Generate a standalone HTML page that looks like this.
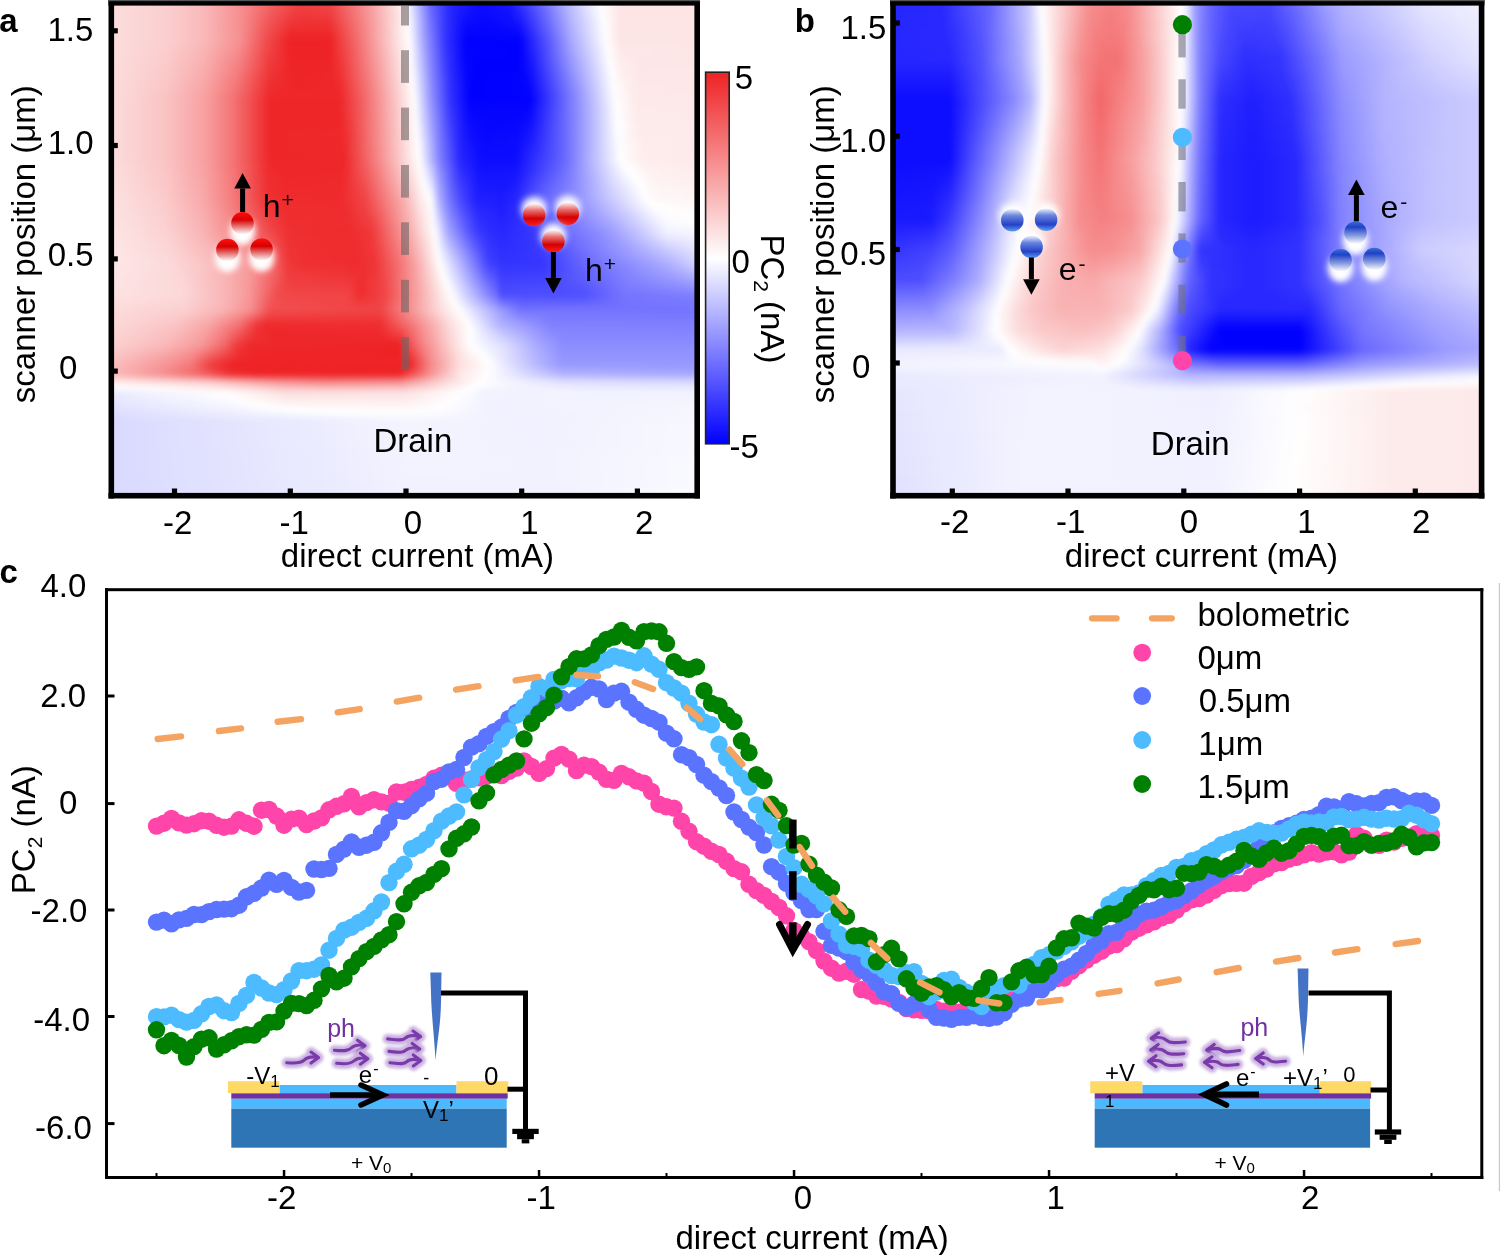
<!DOCTYPE html>
<html><head><meta charset="utf-8"><style>
html,body{margin:0;padding:0;background:#fff;}
body{width:1500px;height:1255px;position:relative;overflow:hidden;font-family:"Liberation Sans", sans-serif;}
i{position:absolute;left:0;width:100%;display:block}
svg{position:absolute;left:0;top:0;will-change:transform}
</style></head><body>
<div style="position:absolute;left:112px;top:4px;width:584px;height:491px;overflow:hidden"><div style="position:absolute;left:-12px;top:-12px;width:608px;height:515px;filter:blur(2.5px);">
<i style="top:0px;height:4px;background:linear-gradient(90deg,#fcdede 8px,#fbcecf 68px,#fab8b9 104px,#f68586 148px,#f25b5d 178px,#f14445 202px,#f14a4b 230px,#f79495 266px,#fef1f2 304px,#fff9fa 306px,#f9f9ff 308px,#6666ff 330px,#2626ff 350px,#0e0eff 382px,#1a1aff 410px,#7373ff 444px,#b0b0ff 464px,#e0e0ff 484px,#ffffff 500px,#fde4e5 522px,#fde4e5 600px)"></i>
<i style="top:3px;height:4px;background:linear-gradient(90deg,#fcdede 8px,#fbcecf 68px,#fab8b9 104px,#f68586 148px,#f25b5d 178px,#f14445 202px,#f14a4b 230px,#f79495 266px,#fef1f2 304px,#fff9fa 306px,#f9f9ff 308px,#6666ff 330px,#2626ff 350px,#0e0eff 382px,#1a1aff 410px,#7373ff 444px,#b0b0ff 464px,#e0e0ff 484px,#ffffff 500px,#fde4e5 522px,#fde4e5 600px)"></i>
<i style="top:6px;height:4px;background:linear-gradient(90deg,#fcdede 8px,#fbcecf 68px,#fab8b9 104px,#f68586 148px,#f25b5d 178px,#f14445 202px,#f14a4b 230px,#f79495 266px,#fef1f2 304px,#fff9fa 306px,#f9f9ff 308px,#6666ff 330px,#2626ff 350px,#0e0eff 382px,#1a1aff 410px,#7373ff 444px,#b0b0ff 464px,#e0e0ff 484px,#ffffff 500px,#fde4e5 522px,#fde4e5 600px)"></i>
<i style="top:9px;height:4px;background:linear-gradient(90deg,#fcdede 8px,#fbcecf 68px,#fab8b9 104px,#f68788 146px,#f2595b 178px,#f04143 202px,#f14749 230px,#f79394 266px,#fef1f2 304px,#fff9f9 306px,#f9f9ff 308px,#6868ff 330px,#2626ff 350px,#0d0dff 382px,#1818ff 410px,#7070ff 444px,#aeaeff 464px,#dfdfff 484px,#fefeff 500px,#fde4e5 522px,#fde4e5 600px)"></i>
<i style="top:12px;height:4px;background:linear-gradient(90deg,#fcdede 8px,#fbcecf 68px,#fab8b9 104px,#f68a8b 144px,#f2595a 176px,#f03f40 200px,#f14446 230px,#f79293 266px,#fff9f9 306px,#fafaff 308px,#6a6aff 330px,#2626ff 350px,#0b0bff 380px,#1616ff 410px,#5151ff 434px,#8d8dff 454px,#c6c6ff 474px,#f9f9ff 498px,#fffefe 502px,#fde4e5 520px,#fde4e5 600px)"></i>
<i style="top:15px;height:4px;background:linear-gradient(90deg,#fcdede 8px,#fbcecf 68px,#fab8b9 104px,#f68a8b 144px,#f25658 176px,#f03c3e 200px,#f04143 230px,#f79192 266px,#fff9f9 306px,#fbfbff 308px,#6b6bff 330px,#2626ff 350px,#0f0fff 372px,#0b0bff 382px,#1414ff 410px,#3838ff 426px,#7070ff 446px,#afafff 466px,#e0e0ff 486px,#fffefe 502px,#fde4e5 520px,#fde4e5 600px)"></i>
<i style="top:18px;height:4px;background:linear-gradient(90deg,#fcdede 8px,#fbcecf 68px,#fab8b9 104px,#f68d8e 142px,#f25658 174px,#f03d3f 196px,#f03b3c 206px,#f03e40 230px,#f69091 266px,#fff9f9 306px,#fcfcff 308px,#a1a1ff 322px,#6d6dff 330px,#2c2cff 348px,#1e1eff 356px,#0f0fff 370px,#0a0aff 382px,#1212ff 410px,#2a2aff 422px,#6d6dff 446px,#b2b2ff 468px,#e2e2ff 488px,#ffffff 502px,#fde4e5 520px,#fde4e5 600px)"></i>
<i style="top:21px;height:4px;background:linear-gradient(90deg,#fcdede 8px,#fbcecf 68px,#fab8b9 104px,#f68d8e 142px,#f25658 172px,#f03b3d 194px,#f0383a 204px,#f03b3d 230px,#f68f90 266px,#fef8f8 306px,#fdfdff 308px,#cbcbff 316px,#6f6fff 330px,#2c2cff 348px,#1818ff 360px,#0c0cff 372px,#0909ff 384px,#1010ff 410px,#2626ff 422px,#6a6aff 446px,#b6b6ff 470px,#eeeeff 494px,#fefeff 502px,#fde4e5 520px,#fde4e5 600px)"></i>
<i style="top:24px;height:4px;background:linear-gradient(90deg,#fcdede 8px,#fbcecf 68px,#fab8b9 104px,#f68d8e 142px,#f25456 172px,#f03a3b 192px,#ef3537 204px,#f0383a 230px,#f68e8f 266px,#fef8f8 306px,#fefeff 308px,#dadaff 314px,#7171ff 330px,#3232ff 346px,#2323ff 352px,#0e0eff 366px,#0808ff 384px,#1111ff 412px,#2222ff 422px,#6e6eff 448px,#b4b4ff 470px,#f9f9ff 500px,#fffefe 504px,#fde4e5 520px,#fde4e5 600px)"></i>
<i style="top:27px;height:4px;background:linear-gradient(90deg,#fcdede 8px,#fbcecf 68px,#fab8b9 104px,#f68c8d 142px,#f25456 170px,#f03638 192px,#ef3335 206px,#ef3537 230px,#f68789 264px,#fef8f8 306px,#ffffff 308px,#e8e8ff 312px,#7f7fff 328px,#6262ff 334px,#3232ff 346px,#1f1fff 354px,#0c0cff 366px,#0707ff 384px,#0f0fff 412px,#1919ff 420px,#6b6bff 448px,#b7b7ff 472px,#fcfcff 502px,#fffefe 504px,#fde4e5 520px,#fde4e5 600px)"></i>
<i style="top:30px;height:4px;background:linear-gradient(90deg,#fcdede 8px,#fbcecf 68px,#fab8b9 104px,#f68c8d 142px,#f25254 170px,#ef3335 192px,#ef3132 210px,#ef3234 230px,#f68687 264px,#ffffff 308px,#f7f7ff 310px,#8181ff 328px,#4a4aff 340px,#2c2cff 348px,#0a0aff 366px,#0606ff 386px,#0d0dff 412px,#1515ff 420px,#6868ff 448px,#b5b5ff 472px,#ffffff 504px,#fde4e5 520px,#fde4e5 600px)"></i>
<i style="top:33px;height:4px;background:linear-gradient(90deg,#fcdede 8px,#fbcecf 68px,#fab8b9 104px,#f68c8d 142px,#f25051 170px,#ef3032 192px,#ef2f30 218px,#ef2f31 230px,#f68586 264px,#feeded 302px,#fffefe 308px,#f9f9ff 310px,#8282ff 328px,#3131ff 346px,#0b0bff 364px,#0505ff 386px,#0c0cff 414px,#1111ff 420px,#6565ff 448px,#b3b3ff 472px,#fefeff 504px,#fde4e5 520px,#fde4e5 600px)"></i>
<i style="top:36px;height:4px;background:linear-gradient(90deg,#fcdede 8px,#fbcecf 68px,#fab8b9 104px,#f68c8d 142px,#f25152 168px,#ef2d2f 192px,#ef2c2e 230px,#f68485 264px,#fde9e9 300px,#fffdfd 308px,#fafaff 310px,#8f8fff 326px,#5d5dff 336px,#3131ff 346px,#0606ff 366px,#0505ff 396px,#0b0bff 416px,#0d0dff 420px,#6969ff 450px,#b2b2ff 472px,#fefeff 504px,#fde4e5 520px,#fde4e5 600px)"></i>
<i style="top:39px;height:4px;background:linear-gradient(90deg,#fcdede 8px,#fbcecf 68px,#fab8b9 104px,#f69092 140px,#f14f50 168px,#ef2a2c 190px,#ef292b 230px,#f57d7e 262px,#fde9e9 300px,#fffcfc 308px,#fbfbff 310px,#9090ff 326px,#3838ff 344px,#1919ff 356px,#0505ff 366px,#0505ff 410px,#0a0aff 420px,#6666ff 450px,#b0b0ff 472px,#fdfdff 504px,#fffafa 508px,#fde4e5 520px,#fde4e5 600px)"></i>
<i style="top:42px;height:4px;background:linear-gradient(90deg,#fcdede 8px,#fbcecf 68px,#fab8b9 104px,#f69092 140px,#f14c4e 168px,#ee2729 190px,#ee2628 230px,#f57c7d 262px,#fcdede 296px,#fffcfc 308px,#fdfdff 310px,#9292ff 326px,#3131ff 346px,#0303ff 366px,#0606ff 420px,#6363ff 450px,#aeaeff 472px,#fcfcff 504px,#fffefe 506px,#fde4e5 520px,#fde4e5 600px)"></i>
<i style="top:45px;height:4px;background:linear-gradient(90deg,#fcdede 8px,#fbcecf 68px,#fab8b9 104px,#f69092 140px,#f14a4c 168px,#ee2426 190px,#ee2325 230px,#f57b7c 262px,#fcd3d3 292px,#fffbfb 308px,#fefeff 310px,#9393ff 326px,#3131ff 346px,#0101ff 366px,#0202ff 420px,#6060ff 450px,#acacff 472px,#fbfbff 504px,#fffefe 506px,#fde4e5 520px,#fde4e5 600px)"></i>
<i style="top:48px;height:4px;background:linear-gradient(90deg,#fcdede 8px,#fbcece 68px,#fab8b8 104px,#f68f90 140px,#f1484a 168px,#ee2224 190px,#ee2224 230px,#f5797b 262px,#fcd2d3 292px,#ffffff 310px,#9595ff 326px,#3131ff 346px,#0000ff 366px,#0000ff 420px,#5d5dff 450px,#aaaaff 472px,#ffffff 506px,#fde5e5 520px,#fde5e5 600px)"></i>
<i style="top:51px;height:4px;background:linear-gradient(90deg,#fcdede 8px,#fbcdce 68px,#f9b7b7 104px,#f68d8e 140px,#f14748 168px,#ee2224 190px,#ee2224 230px,#f47273 260px,#fbd1d2 292px,#fffefe 310px,#9696ff 326px,#3232ff 346px,#0101ff 366px,#0000ff 420px,#5c5cff 450px,#a7a7ff 472px,#fdfdff 506px,#fef5f5 512px,#fde6e6 520px,#fde5e5 600px)"></i>
<i style="top:54px;height:4px;background:linear-gradient(90deg,#fcdede 8px,#fbcdcd 68px,#f9b5b6 104px,#f68b8c 140px,#f14547 168px,#ee2325 190px,#ee2325 230px,#f46a6c 258px,#fcd6d6 294px,#fffdfd 310px,#e8e8ff 314px,#9898ff 326px,#3333ff 346px,#0101ff 366px,#0000ff 420px,#4c4cff 446px,#a5a5ff 472px,#fcfcff 506px,#fffefe 508px,#fde7e7 520px,#fde5e5 600px)"></i>
<i style="top:57px;height:4px;background:linear-gradient(90deg,#fcdede 8px,#fbcccd 68px,#f9b4b5 104px,#f6898a 140px,#f14445 168px,#ee2325 190px,#ee2325 230px,#f2585a 252px,#fde5e6 300px,#fffdfd 310px,#e9e9ff 314px,#9a9aff 326px,#3434ff 346px,#0202ff 366px,#0000ff 420px,#3232ff 438px,#a3a3ff 472px,#ffffff 508px,#fde8e8 520px,#fde5e5 600px)"></i>
<i style="top:60px;height:4px;background:linear-gradient(90deg,#fcdede 8px,#fbcbcc 68px,#f9b3b4 104px,#f68788 140px,#f04244 168px,#ee2325 190px,#ee2325 230px,#f14749 246px,#f79394 272px,#feeeee 304px,#fffcfc 310px,#f7f7ff 312px,#9090ff 328px,#3636ff 346px,#0202ff 366px,#0000ff 420px,#2424ff 434px,#8080ff 462px,#a6a6ff 474px,#fefeff 508px,#fde9e9 520px,#fde5e6 568px,#fde5e6 600px)"></i>
<i style="top:63px;height:4px;background:linear-gradient(90deg,#fcdede 8px,#fbcbcb 68px,#f9b2b2 104px,#f68485 140px,#f04042 168px,#ee2325 192px,#ee2325 230px,#f04143 244px,#f68586 268px,#feeded 304px,#fffbfb 310px,#f8f8ff 312px,#9292ff 328px,#3737ff 346px,#0606ff 364px,#0000ff 374px,#0000ff 420px,#2222ff 434px,#8484ff 464px,#a9a9ff 476px,#fcfcff 508px,#fff9f9 512px,#fdeaea 522px,#fde6e6 560px,#fde6e6 600px)"></i>
<i style="top:66px;height:4px;background:linear-gradient(90deg,#fcdede 8px,#fbcbcc 66px,#f9b1b1 104px,#f58283 140px,#f03f41 168px,#ee2325 192px,#ee2325 230px,#f04042 244px,#f68485 268px,#feeced 304px,#fffbfb 310px,#f9f9ff 312px,#9393ff 328px,#3838ff 346px,#0c0cff 362px,#0202ff 368px,#0000ff 420px,#1b1bff 432px,#7c7cff 462px,#a7a7ff 476px,#fbfbff 508px,#fffefe 510px,#fdebeb 520px,#fde6e6 548px,#fde6e6 600px)"></i>
<i style="top:69px;height:4px;background:linear-gradient(90deg,#fcdede 8px,#fbcbcb 66px,#f9afb0 104px,#f58081 140px,#f03d3f 168px,#ee2426 192px,#ee2426 230px,#f0393b 242px,#f57c7e 266px,#feecec 304px,#fffafa 310px,#fafaff 312px,#c8c8ff 320px,#8989ff 330px,#3939ff 346px,#1c1cff 356px,#0404ff 366px,#0000ff 376px,#0000ff 420px,#1919ff 432px,#8787ff 466px,#ffffff 510px,#feeced 520px,#fde6e6 546px,#fde6e6 600px)"></i>
<i style="top:72px;height:4px;background:linear-gradient(90deg,#fcdede 8px,#fbcacb 66px,#f9aeaf 104px,#f57e7f 140px,#f0383a 170px,#ee2426 192px,#ee2426 230px,#f0383a 242px,#f57b7c 266px,#fef0f0 306px,#fff9f9 310px,#fbfbff 312px,#c9c9ff 320px,#8a8aff 330px,#3a3aff 346px,#2121ff 354px,#0404ff 366px,#0000ff 374px,#0000ff 420px,#1818ff 432px,#9d9dff 474px,#fefeff 510px,#feeced 522px,#fde6e7 544px,#fde6e7 600px)"></i>
<i style="top:75px;height:4px;background:linear-gradient(90deg,#fcdede 8px,#fbc9ca 66px,#f9adae 104px,#f57f80 138px,#f03738 170px,#ee2426 192px,#ee2426 230px,#f03739 242px,#f57a7b 266px,#feefef 306px,#fcfcff 312px,#d9d9ff 318px,#8c8cff 330px,#3b3bff 346px,#2222ff 354px,#0505ff 366px,#0000ff 374px,#0000ff 420px,#1616ff 432px,#a0a0ff 476px,#fcfcff 510px,#fef8f8 514px,#feedee 522px,#fde7e7 542px,#fde7e7 600px)"></i>
<i style="top:78px;height:4px;background:linear-gradient(90deg,#fcdede 8px,#fbc9c9 66px,#f9acad 104px,#f57d7e 138px,#ef3537 170px,#ee2426 192px,#ee2729 232px,#f03638 242px,#f5787a 266px,#feeeee 306px,#fdfdff 312px,#dadaff 318px,#8d8dff 330px,#3c3cff 346px,#2828ff 352px,#0505ff 366px,#0000ff 372px,#0000ff 420px,#0f0fff 430px,#9e9eff 476px,#fbfbff 510px,#fffefe 512px,#feeeee 522px,#fde7e7 542px,#fde7e7 600px)"></i>
<i style="top:81px;height:4px;background:linear-gradient(90deg,#fcdede 8px,#fbc8c9 66px,#f9abab 104px,#f57e7f 136px,#ef3435 170px,#ee2527 192px,#ee2729 232px,#ef3537 242px,#f57778 266px,#feeeee 306px,#fefeff 312px,#dcdcff 318px,#8e8eff 330px,#3e3eff 346px,#2828ff 352px,#0303ff 368px,#0000ff 380px,#0303ff 422px,#0d0dff 430px,#a1a1ff 478px,#ffffff 512px,#feefef 522px,#fde7e7 540px,#fde7e7 600px)"></i>
<i style="top:84px;height:4px;background:linear-gradient(90deg,#fcdede 8px,#fbc8c8 66px,#f8aaaa 104px,#f57c7d 136px,#ef3234 170px,#ee2527 194px,#ee2729 232px,#ef2f31 240px,#f47677 266px,#fef2f2 308px,#fffefe 312px,#ebebff 316px,#8f8fff 330px,#3737ff 348px,#1f1fff 356px,#0303ff 368px,#0000ff 376px,#0202ff 422px,#0b0bff 430px,#a5a5ff 480px,#fefeff 512px,#fef0f0 522px,#fde7e7 540px,#fde7e7 600px)"></i>
<i style="top:87px;height:4px;background:linear-gradient(90deg,#fcdede 8px,#fbc7c7 66px,#f8a8a9 104px,#f57a7b 136px,#ef3032 170px,#ee2527 194px,#ee2729 232px,#ef2e2f 240px,#f47476 266px,#fef1f1 308px,#fffdfd 312px,#f8f8ff 314px,#9191ff 330px,#3737ff 348px,#2525ff 354px,#0303ff 368px,#0000ff 374px,#0202ff 422px,#0a0aff 430px,#a8a8ff 482px,#fdfdff 512px,#fef0f0 524px,#fde7e8 540px,#fde7e8 600px)"></i>
<i style="top:90px;height:4px;background:linear-gradient(90deg,#fcdede 8px,#fbc6c7 66px,#f8a7a8 104px,#f57c7d 134px,#ef2f31 170px,#ee2527 196px,#ee2729 232px,#ef2c2e 240px,#f47374 266px,#fef0f0 308px,#fffcfc 312px,#fafaff 314px,#8888ff 332px,#2f2fff 350px,#0000ff 370px,#0202ff 422px,#0808ff 430px,#acacff 484px,#fcfcff 512px,#fff9f9 516px,#fde8e8 538px,#fde8e8 600px)"></i>
<i style="top:93px;height:4px;background:linear-gradient(90deg,#fcdede 8px,#fbc6c6 66px,#f8a6a7 104px,#f57a7b 134px,#ef2d2f 170px,#ee2527 198px,#ee282a 234px,#ef2b2d 240px,#f47273 266px,#fef0f0 308px,#fffbfc 312px,#fbfbff 314px,#8989ff 332px,#3030ff 350px,#0000ff 370px,#0101ff 422px,#0707ff 430px,#bbbbff 490px,#fbfbff 512px,#fffefe 514px,#fdeaeb 532px,#fde8e8 600px)"></i>
<i style="top:96px;height:4px;background:linear-gradient(90deg,#fcdede 8px,#fbc5c6 66px,#f8a5a6 104px,#f57879 134px,#ef2c2e 170px,#ee2628 202px,#ee282a 236px,#ef2a2c 240px,#f47072 266px,#fffafb 312px,#fdfdff 314px,#bcbcff 324px,#8a8aff 332px,#3131ff 350px,#0000ff 370px,#0202ff 424px,#0505ff 430px,#eeeeff 508px,#ffffff 514px,#fde9e9 534px,#fde8e8 600px)"></i>
<i style="top:99px;height:4px;background:linear-gradient(90deg,#fcdede 8px,#fac4c5 66px,#f8a4a4 104px,#f47677 134px,#ef2a2c 170px,#ee2628 216px,#ef292b 240px,#f46f70 266px,#fffafa 312px,#fefeff 314px,#cbcbff 322px,#9696ff 330px,#3131ff 350px,#0000ff 370px,#0202ff 426px,#0404ff 430px,#ffffff 514px,#fde8e9 536px,#fde8e9 600px)"></i>
<i style="top:102px;height:4px;background:linear-gradient(90deg,#fcdede 8px,#fac4c4 66px,#f8a2a3 104px,#f47476 134px,#ef292b 170px,#ee282a 240px,#f46e6f 266px,#fffefe 314px,#e8e8ff 318px,#9797ff 330px,#3232ff 350px,#0000ff 370px,#0202ff 430px,#fdfdff 514px,#fde9e9 536px,#fde9e9 600px)"></i>
<i style="top:105px;height:4px;background:linear-gradient(90deg,#fcdede 8px,#fac3c4 66px,#f8a1a2 104px,#f47274 134px,#ee2729 170px,#ee2729 240px,#f36668 264px,#fef8f8 312px,#fffdfd 314px,#f7f7ff 316px,#9898ff 330px,#3333ff 350px,#0000ff 370px,#0101ff 430px,#fcfcff 514px,#fef7f7 522px,#fde9e9 538px,#fde9e9 600px)"></i>
<i style="top:108px;height:4px;background:linear-gradient(90deg,#fcdede 8px,#fac3c3 66px,#f8a1a2 104px,#f47677 132px,#ef2a2c 168px,#ee2628 172px,#ee2628 240px,#f36567 264px,#fef2f2 310px,#fffcfc 314px,#f9f9ff 316px,#9a9aff 330px,#3434ff 350px,#0101ff 370px,#0101ff 430px,#fcfcff 514px,#fffcfc 518px,#fde9e9 536px,#fde9e9 600px)"></i>
<i style="top:111px;height:4px;background:linear-gradient(90deg,#fcdede 8px,#fac3c3 66px,#f8a1a2 104px,#f47677 132px,#ef2a2c 168px,#ee2628 172px,#ee2628 240px,#f36566 264px,#fef6f6 312px,#fffcfc 314px,#f9f9ff 316px,#9c9cff 330px,#3535ff 350px,#0202ff 370px,#0303ff 430px,#ffffff 516px,#fde9ea 536px,#fde9e9 600px)"></i>
<i style="top:114px;height:4px;background:linear-gradient(90deg,#fcdede 8px,#fac3c3 66px,#f8a1a2 104px,#f47677 132px,#ef2a2c 168px,#ee2628 172px,#ee2628 240px,#f36566 264px,#fef6f6 312px,#fffbfb 314px,#fafaff 316px,#9393ff 332px,#3737ff 350px,#0303ff 370px,#0404ff 428px,#0505ff 430px,#d0d0ff 500px,#ffffff 516px,#fdeaea 538px,#fde9e9 600px)"></i>
<i style="top:117px;height:4px;background:linear-gradient(90deg,#fcdede 8px,#fac3c3 66px,#f8a1a2 104px,#f47677 132px,#ef2a2c 168px,#ee2628 172px,#ee2628 240px,#f36466 264px,#fef5f5 312px,#fbfbff 316px,#9595ff 332px,#3939ff 350px,#0909ff 368px,#0404ff 372px,#0505ff 424px,#0707ff 430px,#9b9bff 482px,#fefeff 516px,#fdeaea 538px,#fde9e9 600px)"></i>
<i style="top:120px;height:4px;background:linear-gradient(90deg,#fcdede 8px,#fac3c3 66px,#f8a1a2 104px,#f47677 132px,#ef2a2c 168px,#ee2628 172px,#ee2628 240px,#f25859 260px,#fef5f5 312px,#fcfcff 316px,#9797ff 332px,#3a3aff 350px,#1313ff 364px,#0606ff 370px,#0404ff 418px,#0909ff 430px,#8989ff 476px,#fefeff 516px,#fdeaea 538px,#fde9e9 600px)"></i>
<i style="top:123px;height:4px;background:linear-gradient(90deg,#fcdede 8px,#fac3c3 66px,#f8a1a2 104px,#f47677 132px,#ef2a2c 168px,#ee2628 172px,#ee2628 240px,#f14d4e 256px,#fef4f4 312px,#fdfdff 316px,#ccccff 324px,#9999ff 332px,#3c3cff 350px,#1919ff 362px,#0707ff 370px,#0404ff 404px,#0707ff 424px,#0a0aff 430px,#8383ff 474px,#fdfdff 516px,#fef1f1 530px,#fdeaea 542px,#fde9e9 600px)"></i>
<i style="top:126px;height:4px;background:linear-gradient(90deg,#fcdede 8px,#fac3c3 66px,#f8a1a2 104px,#f47677 132px,#ef2a2c 168px,#ee2628 172px,#ee2628 240px,#f04243 252px,#f8a6a7 286px,#fff9f9 314px,#fefeff 316px,#cdcdff 324px,#9a9aff 332px,#4747ff 348px,#3131ff 354px,#1515ff 364px,#0808ff 370px,#0404ff 394px,#0606ff 420px,#0c0cff 430px,#7d7dff 472px,#fdfdff 516px,#fffbfb 520px,#fdebeb 538px,#fde9e9 600px)"></i>
<i style="top:129px;height:4px;background:linear-gradient(90deg,#fcdede 8px,#fac3c3 66px,#f8a1a2 104px,#f47677 132px,#ef2a2c 168px,#ee2628 172px,#ee2628 240px,#f03c3d 250px,#f68d8e 278px,#fef3f4 312px,#ffffff 316px,#dcdcff 322px,#9c9cff 332px,#5252ff 346px,#3838ff 352px,#1a1aff 362px,#0a0aff 370px,#0505ff 390px,#0707ff 420px,#0e0eff 430px,#7777ff 470px,#fcfcff 516px,#ffffff 518px,#fdebeb 538px,#fde9e9 600px)"></i>
<i style="top:132px;height:4px;background:linear-gradient(90deg,#fcdede 8px,#fac3c3 66px,#f8a1a2 104px,#f47677 132px,#ef2a2c 168px,#ee2628 172px,#ee2628 240px,#f03b3d 250px,#f7999a 282px,#fef3f3 312px,#ffffff 316px,#dedeff 322px,#9e9eff 332px,#5e5eff 344px,#3a3aff 352px,#1b1bff 362px,#0a0aff 372px,#0505ff 390px,#0707ff 418px,#1010ff 430px,#7272ff 468px,#fbfbff 516px,#ffffff 518px,#feecec 538px,#fde9e9 600px)"></i>
<i style="top:135px;height:4px;background:linear-gradient(90deg,#fcdede 8px,#fac3c3 66px,#f8a1a2 104px,#f47677 132px,#ef2a2c 168px,#ee2628 172px,#ee2628 240px,#ef3537 248px,#f68c8d 278px,#fef2f3 312px,#fffefe 316px,#ededff 320px,#a0a0ff 332px,#5f5fff 344px,#3b3bff 352px,#1c1cff 362px,#0b0bff 372px,#0606ff 388px,#0808ff 418px,#1212ff 430px,#7272ff 468px,#fbfbff 516px,#ffffff 518px,#fdebeb 540px,#fde9e9 600px)"></i>
<i style="top:138px;height:4px;background:linear-gradient(90deg,#fcdede 8px,#fac3c3 66px,#f8a1a2 104px,#f47677 132px,#ef2a2c 168px,#ee2628 172px,#ef292b 242px,#f03a3c 250px,#f9b6b7 292px,#fffdfd 316px,#efefff 320px,#9696ff 334px,#6060ff 344px,#3d3dff 352px,#2020ff 360px,#0c0cff 372px,#0707ff 386px,#0909ff 418px,#1919ff 432px,#7272ff 468px,#f6f6ff 514px,#fefeff 518px,#fdebeb 540px,#fde9e9 600px)"></i>
<i style="top:141px;height:4px;background:linear-gradient(90deg,#fcdede 8px,#fac3c3 66px,#f8a1a2 104px,#f47677 132px,#ef2a2c 168px,#ee2628 172px,#ef292b 242px,#f0393b 250px,#fac2c3 296px,#fffcfc 316px,#f9f9ff 318px,#e3e3ff 322px,#8c8cff 336px,#6262ff 344px,#3e3eff 352px,#2121ff 360px,#0d0dff 372px,#0707ff 384px,#0909ff 418px,#1a1aff 432px,#7272ff 468px,#efefff 512px,#fefeff 518px,#fdebec 540px,#fde9e9 600px)"></i>
<i style="top:144px;height:4px;background:linear-gradient(90deg,#fcdede 8px,#fac3c3 66px,#f8a1a2 104px,#f47677 132px,#ef2a2c 168px,#ee2628 172px,#ee282a 242px,#ef3335 248px,#f9b5b6 292px,#fffcfc 316px,#fbfbff 318px,#e5e5ff 322px,#8e8eff 336px,#6363ff 344px,#3838ff 354px,#2121ff 360px,#0e0eff 372px,#0808ff 384px,#0a0aff 418px,#1c1cff 432px,#6c6cff 466px,#d3d3ff 502px,#fdfdff 518px,#feecec 540px,#fde9e9 600px)"></i>
<i style="top:147px;height:4px;background:linear-gradient(90deg,#fcdede 8px,#fac3c3 66px,#f8a1a2 104px,#f47677 132px,#ef2a2c 168px,#ee2628 172px,#ee282a 242px,#ef3335 248px,#fac1c2 296px,#fffbfb 316px,#fcfcff 318px,#f4f4ff 320px,#8383ff 338px,#4141ff 352px,#2222ff 360px,#0e0eff 374px,#0909ff 384px,#0b0bff 418px,#1e1eff 432px,#6c6cff 466px,#ceceff 500px,#fdfdff 518px,#feecec 542px,#fde9e9 600px)"></i>
<i style="top:150px;height:4px;background:linear-gradient(90deg,#fcdede 8px,#fac3c3 66px,#f8a1a2 104px,#f47677 132px,#ef2a2c 168px,#ee2628 172px,#ee282a 242px,#ef3234 248px,#fbcdcd 300px,#fffafa 316px,#fdfdff 318px,#f6f6ff 320px,#7878ff 340px,#3a3aff 354px,#2323ff 360px,#0f0fff 374px,#0909ff 384px,#0c0cff 418px,#2424ff 434px,#6c6cff 466px,#c8c8ff 498px,#fcfcff 518px,#fef6f6 528px,#feecec 544px,#fde9e9 600px)"></i>
<i style="top:153px;height:4px;background:linear-gradient(90deg,#fcdede 8px,#fac3c3 66px,#f8a1a2 104px,#f47677 132px,#ef2a2c 168px,#ee2628 172px,#ef292b 244px,#f57d7e 274px,#fef0f0 312px,#fefeff 318px,#f7f7ff 320px,#7a7aff 340px,#3434ff 356px,#2323ff 360px,#0e0eff 376px,#0a0aff 386px,#0a0aff 416px,#2626ff 434px,#6c6cff 466px,#c2c2ff 496px,#fcfcff 518px,#fffafa 524px,#feecec 542px,#fde9e9 600px)"></i>
<i style="top:156px;height:4px;background:linear-gradient(90deg,#fcdede 8px,#fac3c3 66px,#f8a1a2 104px,#f47677 132px,#ef2a2c 168px,#ee2628 172px,#ee282a 244px,#f57d7e 274px,#feefef 312px,#fffefe 318px,#f9f9ff 320px,#7b7bff 340px,#2424ff 360px,#0b0bff 380px,#0b0bff 416px,#2b2bff 436px,#6c6cff 466px,#bdbdff 494px,#fbfbff 518px,#fffcfc 522px,#feeced 542px,#fde9e9 600px)"></i>
<i style="top:159px;height:4px;background:linear-gradient(90deg,#fcdede 8px,#fac3c3 66px,#f8a1a2 104px,#f47677 132px,#ef2a2c 168px,#ee2628 172px,#ee282a 244px,#f57c7d 274px,#feefef 312px,#fffdfd 318px,#fbfbff 320px,#7c7cff 340px,#2525ff 360px,#0b0bff 380px,#0b0bff 416px,#3535ff 440px,#6c6cff 466px,#bdbdff 494px,#fffefe 520px,#feeded 542px,#fde9e9 600px)"></i>
<i style="top:162px;height:4px;background:linear-gradient(90deg,#fcdede 8px,#fac3c3 66px,#f8a1a2 104px,#f47677 132px,#ef2a2c 168px,#ee2628 172px,#ee2729 244px,#f46a6b 268px,#feeeee 312px,#fffcfc 318px,#fcfcff 320px,#7e7eff 340px,#2525ff 360px,#0c0cff 382px,#0c0cff 416px,#5252ff 454px,#6c6cff 466px,#b8b8ff 492px,#ffffff 520px,#feeded 542px,#fde9e9 600px)"></i>
<i style="top:165px;height:4px;background:linear-gradient(90deg,#fcdede 8px,#fac3c3 66px,#f8a1a2 104px,#f47677 132px,#ef2a2c 168px,#ee2628 172px,#ee2729 244px,#f25759 262px,#feeeee 312px,#fefeff 320px,#7f7fff 340px,#2626ff 360px,#0c0cff 382px,#0c0cff 416px,#6666ff 464px,#b8b8ff 492px,#ffffff 520px,#feeded 542px,#fde9e9 600px)"></i>
<i style="top:168px;height:4px;background:linear-gradient(90deg,#fcdede 8px,#fac3c4 66px,#f8a1a2 104px,#f47677 132px,#ef2b2c 168px,#ee2729 174px,#ee2729 244px,#f25c5d 264px,#feecec 312px,#fffefe 320px,#8181ff 340px,#2828ff 360px,#0d0dff 382px,#0e0eff 416px,#6d6dff 466px,#b7b7ff 492px,#fdfdff 520px,#fef2f2 536px,#feeded 554px,#fde9ea 600px)"></i>
<i style="top:171px;height:4px;background:linear-gradient(90deg,#fcdedf 8px,#fac4c4 66px,#f8a1a2 104px,#f47274 134px,#ef2b2d 168px,#ee2729 174px,#ee2729 244px,#f46c6d 270px,#feeeee 314px,#fffdfd 320px,#f6f6ff 322px,#adadff 334px,#8484ff 340px,#2a2aff 360px,#0f0fff 380px,#1010ff 416px,#6e6eff 466px,#bbbbff 494px,#fafaff 520px,#fffdfd 526px,#feeff0 544px,#fdeaea 600px)"></i>
<i style="top:174px;height:4px;background:linear-gradient(90deg,#fddfdf 8px,#fac4c5 66px,#f8a2a3 104px,#f47374 134px,#ef2c2d 168px,#ee2729 178px,#ee282a 244px,#f3696b 270px,#feecec 314px,#fffbfb 320px,#f9f9ff 322px,#c1c1ff 332px,#8888ff 340px,#2d2dff 360px,#1010ff 380px,#1212ff 416px,#7070ff 466px,#bfbfff 496px,#fafaff 522px,#fffefe 528px,#fef1f1 544px,#fdebeb 600px)"></i>
<i style="top:177px;height:4px;background:linear-gradient(90deg,#fddfdf 8px,#fbc5c5 66px,#f8a3a3 104px,#f57879 132px,#ef2c2e 168px,#ee282a 180px,#ee282a 244px,#f36163 268px,#feefef 316px,#fff9f9 320px,#fbfbff 322px,#c7c7ff 332px,#8b8bff 340px,#3030ff 360px,#1111ff 380px,#1313ff 416px,#6262ff 458px,#7c7cff 470px,#c7c7ff 500px,#f7f7ff 522px,#fffefe 530px,#fef2f2 546px,#feecec 600px)"></i>
<i style="top:180px;height:4px;background:linear-gradient(90deg,#fddfe0 8px,#fbc5c6 66px,#f8a3a4 104px,#f57879 132px,#ef2d2f 168px,#ee282a 186px,#ef292b 244px,#f35f60 268px,#fefeff 322px,#ccccff 332px,#9b9bff 338px,#5555ff 352px,#3333ff 360px,#1313ff 380px,#1414ff 410px,#1515ff 416px,#5757ff 450px,#7878ff 468px,#ceceff 504px,#f4f4ff 522px,#ffffff 532px,#fef1f1 550px,#feeded 600px)"></i>
<i style="top:183px;height:4px;background:linear-gradient(90deg,#fde0e0 8px,#fbc6c6 66px,#f8a4a4 104px,#f5797a 132px,#ef2d2f 168px,#ee282a 188px,#ef292b 244px,#f35d5e 268px,#fffefe 322px,#d2d2ff 332px,#9e9eff 338px,#6060ff 350px,#3636ff 360px,#1414ff 380px,#1515ff 408px,#1717ff 416px,#5353ff 446px,#7979ff 468px,#d5d5ff 508px,#f1f1ff 522px,#ffffff 534px,#fef1f1 554px,#feedee 600px)"></i>
<i style="top:186px;height:4px;background:linear-gradient(90deg,#fde0e0 8px,#fbc6c7 66px,#f8a4a5 104px,#f5797a 132px,#ef2e30 168px,#ef292b 186px,#ef2a2b 244px,#f25b5c 268px,#fef4f4 320px,#fffcfc 322px,#fafaff 324px,#d8d8ff 332px,#a1a1ff 338px,#6363ff 350px,#3838ff 360px,#1717ff 378px,#1515ff 404px,#1919ff 416px,#5252ff 444px,#7b7bff 468px,#dbdbff 512px,#f0f0ff 524px,#ffffff 536px,#fef2f2 554px,#feeeee 600px)"></i>
<i style="top:189px;height:4px;background:linear-gradient(90deg,#fde0e1 8px,#fbc7c7 66px,#f8a5a5 104px,#f57a7b 132px,#ef2e30 168px,#ef292b 186px,#ef2a2c 244px,#f25354 266px,#fcd4d5 310px,#fdfdff 324px,#dedeff 332px,#a4a4ff 338px,#6565ff 350px,#3b3bff 360px,#1818ff 378px,#1616ff 404px,#1b1bff 416px,#5555ff 444px,#8080ff 470px,#d9d9ff 512px,#f0f0ff 526px,#fffefe 538px,#fef3f3 554px,#feefef 600px)"></i>
<i style="top:192px;height:4px;background:linear-gradient(90deg,#fde1e1 8px,#fbc7c8 66px,#f8a5a6 104px,#f57a7b 132px,#ef2f31 168px,#ef292b 186px,#ef292b 242px,#f1484a 262px,#f46d6e 276px,#fbd1d2 310px,#fffefe 324px,#e3e3ff 332px,#a7a7ff 338px,#6868ff 350px,#3e3eff 360px,#1d1dff 376px,#1818ff 384px,#1717ff 404px,#1d1dff 416px,#5555ff 442px,#8585ff 472px,#d6d6ff 512px,#f2f2ff 530px,#fffefe 540px,#fef4f4 554px,#fef0f0 600px)"></i>
<i style="top:195px;height:4px;background:linear-gradient(90deg,#fde1e1 8px,#fbc8c8 66px,#f8a8a9 102px,#f57b7c 132px,#ef2f31 168px,#ef2a2c 184px,#ef2a2b 242px,#f14e50 266px,#fbc8c8 308px,#fffbfb 324px,#fdfdff 326px,#e9e9ff 332px,#ababff 338px,#6a6aff 350px,#4141ff 360px,#2222ff 374px,#1919ff 380px,#1919ff 398px,#1717ff 402px,#1f1fff 416px,#5858ff 442px,#8989ff 474px,#d0d0ff 510px,#f5f5ff 534px,#fffefe 542px,#fef5f5 554px,#fef1f1 600px)"></i>
<i style="top:198px;height:4px;background:linear-gradient(90deg,#fde1e2 8px,#fbcaca 64px,#f8a9aa 102px,#f57b7c 132px,#ef3032 168px,#ef2a2c 184px,#ef2a2c 242px,#f14c4e 266px,#fbc5c5 308px,#fef8f8 324px,#fffdfd 326px,#efefff 332px,#aeaeff 338px,#6d6dff 350px,#4444ff 360px,#2323ff 374px,#1b1bff 380px,#1a1aff 398px,#1818ff 402px,#2121ff 416px,#5b5bff 442px,#8d8dff 476px,#ceceff 510px,#fefeff 542px,#fef6f6 554px,#fef2f2 600px)"></i>
<i style="top:201px;height:4px;background:linear-gradient(90deg,#fde2e2 8px,#fbcacb 64px,#f8a9aa 102px,#f57c7d 132px,#ef3032 168px,#ef2a2c 184px,#ef2a2c 242px,#f14a4c 266px,#fac2c2 308px,#fef1f1 322px,#ffffff 328px,#f4f4ff 332px,#b1b1ff 338px,#6f6fff 350px,#4646ff 360px,#2828ff 372px,#1c1cff 378px,#1b1bff 398px,#1818ff 400px,#2323ff 416px,#5e5eff 442px,#9292ff 478px,#ccccff 510px,#ffffff 544px,#fef6f7 554px,#fef2f3 600px)"></i>
<i style="top:204px;height:4px;background:linear-gradient(90deg,#fde2e2 8px,#fbcbcb 64px,#f8aaab 102px,#f57c7d 132px,#ef3133 168px,#ef2b2c 184px,#ef2a2c 242px,#f14849 266px,#fabfc0 308px,#fdeaea 320px,#ffffff 330px,#fafaff 332px,#b4b4ff 338px,#7a7aff 348px,#4949ff 360px,#2a2aff 372px,#1e1eff 378px,#1d1dff 398px,#1919ff 400px,#2525ff 416px,#6161ff 442px,#9292ff 478px,#c9c9ff 510px,#fffefe 546px,#fef7f7 556px,#fef3f3 600px)"></i>
<i style="top:207px;height:4px;background:linear-gradient(90deg,#fde2e3 8px,#fbcccc 64px,#f8aaab 102px,#f57d7e 132px,#ef3234 168px,#ef2b2d 184px,#ef2b2d 242px,#f14647 266px,#f9b5b6 306px,#fde9e9 320px,#ffffff 332px,#b8b8ff 338px,#7d7dff 348px,#4c4cff 360px,#2c2cff 372px,#1f1fff 378px,#1e1eff 398px,#1a1aff 400px,#2626ff 416px,#6363ff 442px,#9595ff 480px,#cacaff 512px,#fefeff 546px,#fef8f8 556px,#fef4f4 600px)"></i>
<i style="top:210px;height:4px;background:linear-gradient(90deg,#fde3e3 8px,#fbcccd 64px,#f9abac 102px,#f57e80 132px,#ef3436 168px,#ef2c2e 184px,#ef2b2d 242px,#f14446 266px,#f9b3b4 306px,#fde6e7 320px,#fffefe 332px,#bcbcff 338px,#8181ff 348px,#5050ff 360px,#2f2fff 372px,#2222ff 378px,#1f1fff 398px,#1b1bff 400px,#2727ff 416px,#6060ff 442px,#9292ff 480px,#d4d4ff 522px,#fffefe 550px,#fef6f6 600px)"></i>
<i style="top:213px;height:4px;background:linear-gradient(90deg,#fde3e3 8px,#fbcdcd 64px,#f9acad 102px,#f58081 132px,#f03638 168px,#ef2d2f 184px,#ef2b2d 242px,#f04244 266px,#f8a5a6 302px,#fde4e5 320px,#fffdfd 332px,#d7d7ff 336px,#c1c1ff 338px,#8585ff 348px,#5454ff 360px,#3232ff 372px,#2424ff 378px,#2020ff 398px,#1c1cff 400px,#2c2cff 418px,#5e5eff 442px,#9393ff 482px,#fefeff 552px,#fef8f8 600px)"></i>
<i style="top:216px;height:4px;background:linear-gradient(90deg,#fde3e4 8px,#fbcece 64px,#f9adae 102px,#f58283 132px,#f0393b 168px,#ef2e2f 184px,#ef2c2e 244px,#f04143 266px,#f35f60 278px,#f9b6b7 308px,#fde2e3 320px,#fffcfc 332px,#efefff 334px,#c6c6ff 338px,#8888ff 348px,#5858ff 360px,#3535ff 372px,#2727ff 378px,#2121ff 398px,#1d1dff 400px,#2c2cff 418px,#5e5eff 444px,#9696ff 486px,#fafaff 552px,#fffefe 562px,#fff9f9 600px)"></i>
<i style="top:219px;height:4px;background:linear-gradient(90deg,#fde4e4 8px,#fbcecf 64px,#f9afaf 102px,#f58384 132px,#f03b3d 168px,#ef2d2f 186px,#ef2b2d 244px,#f03f41 266px,#f25658 276px,#f9b4b5 308px,#fde5e5 322px,#fffcfc 332px,#f2f2ff 334px,#cbcbff 338px,#8c8cff 348px,#5555ff 362px,#3838ff 372px,#2929ff 378px,#2323ff 398px,#1e1eff 400px,#2c2cff 418px,#5151ff 438px,#7d7dff 470px,#e7e7ff 542px,#f8f8ff 554px,#fffefe 566px,#fffbfb 600px)"></i>
<i style="top:222px;height:4px;background:linear-gradient(90deg,#fde4e4 8px,#fbcfcf 64px,#f9adae 104px,#f68586 132px,#f03b3d 170px,#ef2d2f 188px,#ef2c2e 246px,#f04143 268px,#f25355 276px,#f9b2b3 308px,#fde3e3 322px,#fffbfb 332px,#f4f4ff 334px,#d0d0ff 338px,#9090ff 348px,#5959ff 362px,#3636ff 374px,#2c2cff 378px,#2424ff 396px,#2121ff 402px,#2c2cff 418px,#4b4bff 436px,#7777ff 466px,#ceceff 530px,#f4f4ff 554px,#fefeff 570px,#fffdfd 600px)"></i>
<i style="top:225px;height:4px;background:linear-gradient(90deg,#fde4e5 8px,#fbd0d0 64px,#f9aeaf 104px,#f58384 134px,#f03e3f 170px,#ef2d2f 188px,#ef2c2e 246px,#f03f41 268px,#f14b4c 274px,#f9b0b1 308px,#fde1e1 322px,#fffafa 332px,#f7f7ff 334px,#d5d5ff 338px,#9494ff 348px,#5d5dff 362px,#3939ff 374px,#2d2dff 380px,#2525ff 396px,#2222ff 402px,#2f2fff 420px,#4444ff 434px,#6e6eff 460px,#a7a7ff 506px,#e5e5ff 546px,#fafaff 564px,#fffefe 600px)"></i>
<i style="top:228px;height:4px;background:linear-gradient(90deg,#fde5e5 8px,#fbd0d1 64px,#f9afb0 104px,#f68485 134px,#f04042 170px,#ef2e30 188px,#ef2d2e 248px,#f03f41 270px,#f14e50 276px,#f9aeaf 308px,#fddfe0 322px,#fff9f9 332px,#f9f9ff 334px,#ccccff 340px,#9898ff 348px,#5a5aff 364px,#3131ff 378px,#2727ff 392px,#2626ff 398px,#2222ff 400px,#3131ff 422px,#4242ff 434px,#7171ff 464px,#afafff 514px,#f1f1ff 558px,#fafaff 568px,#fefeff 600px)"></i>
<i style="top:231px;height:4px;background:linear-gradient(90deg,#fde5e5 8px,#fbd1d1 64px,#f9b0b1 104px,#f68687 134px,#f03f41 172px,#ef2e30 190px,#ef2c2e 248px,#f03f41 272px,#f9acad 308px,#fcddde 322px,#fcfcff 334px,#9c9cff 348px,#5656ff 366px,#3333ff 378px,#2828ff 392px,#2727ff 398px,#2424ff 402px,#3636ff 428px,#6f6fff 464px,#a5a5ff 510px,#d6d6ff 542px,#f8f8ff 566px,#fcfcff 600px)"></i>
<i style="top:234px;height:4px;background:linear-gradient(90deg,#fde5e6 8px,#fcd2d2 64px,#f9b1b2 104px,#f68889 134px,#f04143 172px,#ef2e30 190px,#ef2b2d 248px,#f03c3e 272px,#f8aaaa 308px,#fcdbdc 322px,#ffffff 334px,#a0a0ff 348px,#5353ff 368px,#3636ff 378px,#2a2aff 390px,#2828ff 398px,#2525ff 402px,#3636ff 430px,#6d6dff 464px,#9e9eff 508px,#ceceff 540px,#f5f5ff 566px,#fafaff 600px)"></i>
<i style="top:237px;height:4px;background:linear-gradient(90deg,#fde6e6 8px,#fcd2d3 64px,#f9b2b3 104px,#f6898a 134px,#f03d3f 176px,#ef2f31 190px,#ef2b2c 242px,#ef2f31 256px,#f03a3b 272px,#f8a8a8 308px,#fddfe0 324px,#fffdfd 334px,#f6f6ff 336px,#a4a4ff 348px,#5050ff 370px,#3838ff 378px,#2b2bff 390px,#2a2aff 398px,#2727ff 402px,#3737ff 432px,#6969ff 462px,#9797ff 506px,#c6c6ff 538px,#f3f3ff 566px,#f8f8ff 600px)"></i>
<i style="top:240px;height:4px;background:linear-gradient(90deg,#fde6e6 8px,#fcd2d2 66px,#f9b4b4 104px,#f68c8d 134px,#f03a3c 180px,#ef2f31 190px,#ef2b2d 242px,#ef2e30 254px,#f0383a 272px,#f8a5a6 308px,#fcddde 324px,#fffbfb 334px,#f9f9ff 336px,#a9a9ff 348px,#5454ff 370px,#3c3cff 378px,#2d2dff 390px,#2b2bff 398px,#2828ff 402px,#3636ff 432px,#6969ff 464px,#9696ff 508px,#c2c2ff 538px,#efefff 566px,#f6f6ff 600px)"></i>
<i style="top:243px;height:4px;background:linear-gradient(90deg,#fde6e6 8px,#fcd3d3 66px,#f9b5b6 104px,#f68c8d 136px,#ef3032 188px,#ef2b2d 242px,#ef2e30 256px,#f03739 272px,#f8a3a3 308px,#fde1e1 326px,#fff9f9 334px,#fcfcff 336px,#afafff 348px,#5454ff 372px,#3d3dff 380px,#2f2fff 390px,#2929ff 402px,#3636ff 432px,#6666ff 464px,#9393ff 508px,#c0c0ff 540px,#e8e8ff 566px,#f3f3ff 600px)"></i>
<i style="top:246px;height:4px;background:linear-gradient(90deg,#fde6e7 8px,#fcd4d4 66px,#f9b5b6 106px,#f68c8d 138px,#ef3133 188px,#ef2e2f 226px,#ef2b2d 250px,#f03739 272px,#f8a0a1 308px,#fcdedf 326px,#fefeff 336px,#b5b5ff 348px,#5959ff 372px,#4141ff 380px,#3131ff 390px,#2a2aff 402px,#3636ff 432px,#6666ff 466px,#9696ff 512px,#c8c8ff 548px,#e2e2ff 566px,#f0f0ff 600px)"></i>
<i style="top:249px;height:4px;background:linear-gradient(90deg,#fde7e7 8px,#fcd5d5 66px,#f9b7b7 106px,#f69091 138px,#f14e50 174px,#ef3234 188px,#ef2e30 216px,#ef2b2d 242px,#ef2e30 256px,#f03638 272px,#f79d9e 308px,#fde9e9 330px,#fffefe 336px,#bbbbff 348px,#5858ff 374px,#4141ff 382px,#3434ff 388px,#2b2bff 402px,#3535ff 432px,#6666ff 468px,#9a9aff 518px,#dcdcff 568px,#ededff 600px)"></i>
<i style="top:252px;height:4px;background:linear-gradient(90deg,#fde7e7 8px,#fcd6d6 66px,#fab9b9 106px,#f69091 140px,#f25658 172px,#ef3234 188px,#ef2e30 210px,#ef2c2e 242px,#ef2d2f 256px,#f03637 272px,#f68d8e 304px,#fffcfc 336px,#f7f7ff 338px,#c1c1ff 348px,#5656ff 376px,#3636ff 388px,#2c2cff 402px,#3535ff 432px,#4c4cff 450px,#6a6aff 474px,#a2a2ff 528px,#d6d6ff 568px,#eaeaff 600px)"></i>
<i style="top:255px;height:4px;background:linear-gradient(90deg,#fde7e7 8px,#fcd5d6 68px,#fab8b9 108px,#f79192 142px,#f35f61 170px,#ef3335 188px,#ef2e30 208px,#ef2c2e 242px,#ef2c2e 254px,#f0383a 274px,#f79192 306px,#fffafa 336px,#fafaff 338px,#bfbfff 350px,#5454ff 378px,#3838ff 388px,#2d2dff 402px,#3636ff 434px,#4747ff 448px,#6a6aff 476px,#a6a6ff 534px,#d1d1ff 570px,#e7e7ff 600px)"></i>
<i style="top:258px;height:4px;background:linear-gradient(90deg,#fde7e8 8px,#fcd6d7 68px,#fababb 108px,#f79495 142px,#f36465 170px,#ef3436 188px,#ef2e30 206px,#ef2c2e 242px,#ef2c2e 254px,#f03739 274px,#f68889 304px,#fdfdff 338px,#c5c5ff 350px,#5252ff 380px,#3a3aff 388px,#2f2fff 402px,#3737ff 436px,#4d4dff 454px,#7474ff 488px,#b8b8ff 554px,#d3d3ff 580px,#e4e4ff 600px)"></i>
<i style="top:261px;height:4px;background:linear-gradient(90deg,#fde8e8 8px,#fcd7d8 68px,#fabcbd 108px,#f79596 144px,#f36869 170px,#ef3436 188px,#ef2f31 204px,#ef2c2e 242px,#ef2b2d 254px,#f03638 274px,#f58081 302px,#f9b6b7 318px,#ffffff 338px,#b4b4ff 356px,#5050ff 382px,#3c3cff 388px,#3030ff 402px,#3737ff 438px,#7070ff 486px,#bbbbff 562px,#e1e1ff 600px)"></i>
<i style="top:264px;height:4px;background:linear-gradient(90deg,#fde8e8 8px,#fcd8d9 68px,#fabcbd 110px,#f7999a 144px,#f47274 168px,#ef3537 188px,#ef2f31 204px,#ef2d2f 242px,#ef2b2d 254px,#ef3537 274px,#f57e7f 302px,#f9acad 316px,#fffcfc 338px,#f1f1ff 342px,#4545ff 386px,#3e3eff 388px,#3131ff 402px,#3636ff 440px,#6e6eff 486px,#bcbcff 568px,#dedeff 600px)"></i>
<i style="top:267px;height:4px;background:linear-gradient(90deg,#fde8e8 8px,#fcd9da 68px,#fabebf 110px,#f79d9e 144px,#f57778 168px,#f03638 188px,#ef2f31 202px,#ef2d2f 242px,#ef2a2c 252px,#f03739 276px,#f57b7c 302px,#f8a9aa 316px,#fffafa 338px,#fcfcff 340px,#9090ff 368px,#4040ff 388px,#3232ff 402px,#3434ff 440px,#6c6cff 486px,#b3b3ff 566px,#dbdbff 600px)"></i>
<i style="top:270px;height:4px;background:linear-gradient(90deg,#fde8e8 8px,#fcd9d9 70px,#fabebf 112px,#f8a0a1 144px,#f57a7b 168px,#f03738 188px,#ef3032 202px,#ef2e2f 242px,#ef2b2d 254px,#f03638 276px,#f47374 300px,#f89fa0 314px,#ffffff 340px,#bebeff 358px,#4343ff 388px,#3434ff 402px,#3636ff 442px,#6a6aff 486px,#aaaaff 564px,#d7d7ff 600px)"></i>
<i style="top:273px;height:4px;background:linear-gradient(90deg,#fde8e8 8px,#fcd9da 70px,#fabfbf 112px,#f8a0a1 144px,#f5787a 168px,#f0383a 188px,#ef3233 204px,#ef3031 242px,#ef2c2e 254px,#f03738 276px,#f47374 300px,#f8a5a6 316px,#fffcfc 340px,#fcfcff 342px,#b2b2ff 362px,#4949ff 388px,#3c3cff 398px,#3636ff 400px,#3838ff 442px,#6c6cff 490px,#a8a8ff 566px,#cfcfff 600px)"></i>
<i style="top:276px;height:4px;background:linear-gradient(90deg,#fde7e7 8px,#fcd9d9 72px,#fabdbe 114px,#f89e9f 146px,#f47071 170px,#f0393b 188px,#ef3436 204px,#ef3133 244px,#ef2d2f 260px,#f03739 276px,#f36668 296px,#f8a4a5 316px,#ffffff 342px,#bfbfff 360px,#4f4fff 388px,#4040ff 398px,#3838ff 400px,#3a3aff 442px,#7373ff 502px,#a5a5ff 568px,#c7c7ff 600px)"></i>
<i style="top:279px;height:4px;background:linear-gradient(90deg,#fde7e7 8px,#fcd8d9 74px,#fabbbb 118px,#f79b9c 148px,#f46e6f 170px,#f03b3d 188px,#f03638 208px,#ef3234 246px,#ef2e30 262px,#f03839 276px,#f36162 294px,#f8a3a4 316px,#fffdfd 342px,#fcfcff 344px,#bbbbff 362px,#5656ff 388px,#4545ff 398px,#3b3bff 400px,#3c3cff 442px,#8787ff 530px,#a0a0ff 568px,#bebeff 600px)"></i>
<i style="top:282px;height:4px;background:linear-gradient(90deg,#fde6e6 8px,#fcd7d8 78px,#f9b3b4 126px,#f79b9c 148px,#f46b6d 170px,#f04143 186px,#f03b3d 190px,#f03839 218px,#ef3436 248px,#ef2e30 262px,#f0383a 276px,#f25657 290px,#f8a2a3 316px,#fffafa 342px,#ffffff 344px,#c7c7ff 360px,#5c5cff 388px,#4949ff 398px,#3d3dff 400px,#3f3fff 442px,#8484ff 530px,#9d9dff 570px,#b6b6ff 600px)"></i>
<i style="top:285px;height:4px;background:linear-gradient(90deg,#fde5e6 8px,#fcd8d8 78px,#f9b3b4 126px,#f79798 150px,#f36365 172px,#f14648 184px,#f03d3f 190px,#f03638 248px,#ef2e30 262px,#f03c3e 278px,#f25557 290px,#f8a8a9 318px,#fef7f7 342px,#fffcfc 344px,#fcfcff 346px,#c4c4ff 362px,#6363ff 388px,#4e4eff 398px,#3f3fff 400px,#4242ff 444px,#6868ff 496px,#8181ff 528px,#9999ff 572px,#aeaeff 600px)"></i>
<i style="top:288px;height:4px;background:linear-gradient(90deg,#fde5e5 8px,#fcd7d8 80px,#f9b2b2 128px,#f79798 150px,#f25c5d 174px,#f14648 184px,#f03e40 190px,#f0393b 248px,#ef2d2f 260px,#f03c3e 278px,#f14f51 288px,#f9adae 320px,#fef5f5 342px,#ffffff 346px,#d7d7ff 358px,#6969ff 388px,#5252ff 398px,#4242ff 400px,#4444ff 444px,#5e5eff 488px,#7e7eff 526px,#9797ff 578px,#a5a5ff 600px)"></i>
<i style="top:291px;height:4px;background:linear-gradient(90deg,#fde4e5 8px,#fcd8d8 80px,#f9b2b3 128px,#f79697 150px,#f14c4e 180px,#f04042 190px,#f03b3d 248px,#ef2d2f 260px,#f03f41 280px,#f14e50 288px,#fab9b9 324px,#fef2f2 342px,#fffcfc 346px,#fdfdff 348px,#6a6aff 390px,#5757ff 398px,#4444ff 400px,#4747ff 446px,#5959ff 484px,#7b7bff 524px,#9595ff 586px,#9d9dff 600px)"></i>
<i style="top:294px;height:4px;background:linear-gradient(90deg,#fde4e4 8px,#fcd7d8 82px,#f9b2b3 128px,#f79697 150px,#f14e4f 178px,#f04143 190px,#f03e40 248px,#ef2d2f 260px,#f14446 284px,#f9b7b8 324px,#feeff0 342px,#fffefe 348px,#eeeeff 354px,#7171ff 390px,#5b5bff 398px,#4747ff 400px,#4a4aff 450px,#5656ff 484px,#7979ff 524px,#9494ff 600px)"></i>
<i style="top:297px;height:4px;background:linear-gradient(90deg,#fde3e3 8px,#fcd8d8 82px,#f9b2b3 128px,#f79697 150px,#f14c4e 178px,#f14344 192px,#f04042 248px,#ef2d2f 260px,#f14345 284px,#fac2c3 328px,#feeded 342px,#ffffff 350px,#7777ff 390px,#6060ff 398px,#4949ff 400px,#4c4cff 460px,#5252ff 482px,#7777ff 524px,#8c8cff 600px)"></i>
<i style="top:300px;height:4px;background:linear-gradient(90deg,#fde3e3 8px,#fcd8d9 82px,#f9b2b3 128px,#f79b9c 148px,#f14b4d 178px,#f14446 194px,#f14345 248px,#ef2d2f 260px,#f14648 286px,#fbcdcd 332px,#feefef 344px,#fffcfc 350px,#fdfdff 352px,#9090ff 384px,#6464ff 398px,#4b4bff 400px,#5050ff 482px,#7474ff 522px,#8484ff 600px)"></i>
<i style="top:303px;height:4px;background:linear-gradient(90deg,#fde2e2 8px,#fcd8d8 82px,#f9b4b5 126px,#f79a9b 148px,#f25759 172px,#f14b4c 178px,#f14647 202px,#f14446 248px,#ef2f31 260px,#f14345 284px,#fbcccc 332px,#feeced 344px,#fffefe 352px,#6d6dff 398px,#5555ff 400px,#5050ff 448px,#5252ff 482px,#7373ff 522px,#7e7eff 600px)"></i>
<i style="top:306px;height:4px;background:linear-gradient(90deg,#fde0e1 8px,#fcd6d7 82px,#f9b3b4 126px,#f79495 150px,#f2595a 170px,#f14a4c 180px,#f14546 248px,#ef3436 260px,#f14345 282px,#f25657 290px,#fde7e7 342px,#fdfdff 354px,#7878ff 398px,#6565ff 400px,#5858ff 424px,#5b5bff 484px,#7373ff 524px,#7c7cff 600px)"></i>
<i style="top:309px;height:4px;background:linear-gradient(90deg,#fddfdf 8px,#fcd4d4 84px,#f9b5b5 124px,#f79394 150px,#f25657 170px,#f14b4d 180px,#f14345 250px,#f03a3c 262px,#f04143 280px,#f2585a 290px,#fde5e5 342px,#fffdfd 354px,#f6f6ff 358px,#8484ff 398px,#7575ff 400px,#6060ff 422px,#6262ff 484px,#7373ff 526px,#7979ff 600px)"></i>
<i style="top:312px;height:4px;background:linear-gradient(90deg,#fcdede 8px,#fcd2d3 84px,#f9b4b5 124px,#f79293 150px,#f25354 170px,#f14b4c 186px,#f14345 252px,#f03f40 264px,#f04244 280px,#fde3e4 342px,#fffefe 356px,#dadaff 370px,#9090ff 398px,#8585ff 400px,#6767ff 420px,#6a6aff 490px,#7474ff 536px,#7777ff 600px)"></i>
<i style="top:315px;height:4px;background:linear-gradient(90deg,#fcdcdd 8px,#fbd1d1 84px,#f9b3b4 124px,#f79192 150px,#f25051 170px,#f14344 280px,#fbcacb 332px,#fde5e6 344px,#fffefe 358px,#f2f2ff 364px,#9191ff 402px,#6f6fff 420px,#7474ff 600px)"></i>
<i style="top:318px;height:4px;background:linear-gradient(90deg,#fcdbdc 8px,#fbcecf 84px,#f9afb0 124px,#f68a8b 150px,#f14a4c 170px,#f04143 280px,#fac2c3 330px,#fde2e2 344px,#fffdfd 360px,#f2f2ff 366px,#a4a4ff 398px,#7777ff 420px,#7474ff 582px,#7474ff 600px)"></i>
<i style="top:321px;height:4px;background:linear-gradient(90deg,#fcdbdb 8px,#fbcccc 82px,#f9adad 120px,#f68889 144px,#f47576 152px,#f14345 170px,#f03d3e 280px,#fcdede 344px,#fffefe 362px,#a0a0ff 402px,#8080ff 420px,#7777ff 460px,#7777ff 600px)"></i>
<i style="top:324px;height:4px;background:linear-gradient(90deg,#fcdbdb 8px,#fbc9ca 80px,#f9aeaf 112px,#f58283 142px,#f36768 152px,#f14648 164px,#f03c3d 170px,#f0383a 280px,#fcdede 346px,#fffefe 364px,#a5a5ff 402px,#8787ff 422px,#7979ff 454px,#7979ff 600px)"></i>
<i style="top:327px;height:4px;background:linear-gradient(90deg,#fcdada 8px,#fbc8c8 76px,#f9aeaf 108px,#f57d7e 140px,#f14749 158px,#f03638 168px,#ef3436 280px,#f8a2a2 324px,#fde3e3 350px,#fffefe 366px,#d4d4ff 384px,#a9a9ff 402px,#8e8eff 424px,#7c7cff 454px,#7c7cff 600px)"></i>
<i style="top:330px;height:4px;background:linear-gradient(90deg,#fcdada 8px,#fbc6c6 74px,#f8a9a9 108px,#f47475 140px,#f03e3f 156px,#ef2e30 166px,#ef2f31 280px,#f57778 310px,#fde3e3 352px,#fffefe 368px,#f7f7ff 372px,#b0b0ff 400px,#8080ff 448px,#7e7eff 600px)"></i>
<i style="top:333px;height:4px;background:linear-gradient(90deg,#fcd9d9 8px,#fac3c4 74px,#f8a4a5 108px,#f46b6c 140px,#ef3537 156px,#ef292b 166px,#ef2c2e 280px,#f36062 304px,#fde0e1 352px,#ffffff 370px,#b6b6ff 400px,#8181ff 452px,#8080ff 600px)"></i>
<i style="top:336px;height:4px;background:linear-gradient(90deg,#fcd8d8 8px,#fac0c1 74px,#f8a4a4 106px,#f46a6b 136px,#f25c5e 142px,#ef3335 156px,#ef292a 168px,#ef2b2d 280px,#f25354 302px,#f8aaab 332px,#fddfdf 352px,#ffffff 370px,#bcbcff 402px,#8585ff 452px,#8282ff 600px)"></i>
<i style="top:339px;height:4px;background:linear-gradient(90deg,#fcd7d7 8px,#fabfbf 72px,#f8a3a4 104px,#f5797a 126px,#f1494b 146px,#ef3133 156px,#ee282a 168px,#ef292b 280px,#f14546 300px,#f79293 324px,#fcddde 352px,#ffffff 370px,#c1c1ff 404px,#8989ff 450px,#8484ff 470px,#8484ff 600px)"></i>
<i style="top:342px;height:4px;background:linear-gradient(90deg,#fcd6d6 8px,#fabcbd 72px,#f89fa0 104px,#f5797a 124px,#f0393b 150px,#ef2c2e 160px,#ee282a 176px,#ef2a2c 282px,#f03c3e 300px,#f6898b 322px,#fcdcdc 352px,#ffffff 370px,#bdbdff 412px,#8d8dff 450px,#8686ff 464px,#8686ff 600px)"></i>
<i style="top:345px;height:4px;background:linear-gradient(90deg,#fcd5d5 8px,#fabbbb 70px,#f89fa0 102px,#f47475 124px,#f14b4d 138px,#ef2f31 154px,#ee282a 172px,#ee282a 282px,#ef3436 300px,#f68788 322px,#fcdadb 352px,#ffffff 370px,#9a9aff 442px,#8888ff 462px,#8888ff 600px)"></i>
<i style="top:348px;height:4px;background:linear-gradient(90deg,#fcd4d4 8px,#fab9ba 68px,#f79b9c 102px,#f46e70 124px,#f04244 138px,#ef2d2f 152px,#ee282a 180px,#ee2729 286px,#ef2c2e 300px,#f68485 322px,#fcd9d9 352px,#ffffff 370px,#d3d3ff 406px,#a1a1ff 440px,#8a8aff 462px,#8a8aff 600px)"></i>
<i style="top:351px;height:4px;background:linear-gradient(90deg,#fcd3d3 8px,#fab8b9 66px,#f79898 102px,#f3696a 124px,#f03a3c 138px,#ef292b 152px,#ee2426 300px,#f58182 322px,#fcd7d8 352px,#ffffff 370px,#e0e0ff 402px,#aaaaff 436px,#8c8cff 462px,#8c8cff 600px)"></i>
<i style="top:354px;height:4px;background:linear-gradient(90deg,#fbd1d1 8px,#f9b3b4 66px,#f79495 100px,#f36162 124px,#ef3537 138px,#ee282a 152px,#ee2224 300px,#f36465 316px,#f57c7d 322px,#fcd5d5 352px,#fffcfc 370px,#fdfdff 376px,#e3e3ff 402px,#acacff 436px,#8e8eff 462px,#8e8eff 600px)"></i>
<i style="top:357px;height:4px;background:linear-gradient(90deg,#fbcece 8px,#f9adae 66px,#f79394 94px,#f58182 104px,#f25759 124px,#ef3234 138px,#ee2729 152px,#ee2224 300px,#f14b4d 312px,#f57778 322px,#f9b0b1 340px,#fde1e1 358px,#fffbfb 372px,#fcfcff 380px,#e1e1ff 404px,#acacff 438px,#9090ff 462px,#9090ff 600px)"></i>
<i style="top:360px;height:4px;background:linear-gradient(90deg,#fbcbcc 8px,#f8a8a9 66px,#f68f90 92px,#f47173 106px,#f1494a 126px,#ef2d2f 140px,#ee2628 154px,#ee2224 300px,#f03b3d 310px,#f5797a 324px,#f79c9d 334px,#fddfdf 358px,#fef7f7 372px,#fdfdff 382px,#e0e0ff 406px,#aeaeff 438px,#9292ff 462px,#9292ff 600px)"></i>
<i style="top:363px;height:4px;background:linear-gradient(90deg,#fbc9c9 8px,#f8a2a3 66px,#f68889 92px,#f2595b 112px,#f03c3d 128px,#ef2a2c 140px,#ee2527 158px,#ee2224 300px,#ef3537 310px,#f57d7e 326px,#f7999a 334px,#fde3e3 360px,#fef8f8 376px,#fefeff 384px,#dedeff 408px,#b0b0ff 438px,#9494ff 462px,#9494ff 600px)"></i>
<i style="top:366px;height:4px;background:linear-gradient(90deg,#fbc6c6 8px,#f89e9f 64px,#f68687 90px,#f14e50 112px,#ef2c2e 134px,#ee2426 156px,#ee2426 302px,#ef2e30 310px,#f68b8c 330px,#fde1e1 360px,#fffdfd 384px,#fdfdff 388px,#afafff 440px,#9595ff 462px,#9595ff 600px)"></i>
<i style="top:369px;height:4px;background:linear-gradient(90deg,#fac3c4 8px,#f79b9c 62px,#f58081 90px,#f14648 110px,#ee2729 132px,#ee2325 172px,#ee2426 304px,#ee2829 310px,#f68889 330px,#fddfe0 360px,#ffffff 388px,#b1b1ff 440px,#9797ff 462px,#9797ff 600px)"></i>
<i style="top:372px;height:4px;background:linear-gradient(90deg,#fac1c2 8px,#f79697 62px,#f57a7b 90px,#f03f41 110px,#ee2325 132px,#ee2426 306px,#ee2628 310px,#f68788 330px,#fddfdf 360px,#ffffff 390px,#b4b4ff 440px,#9b9bff 462px,#9a9aff 600px)"></i>
<i style="top:375px;height:4px;background:linear-gradient(90deg,#fabfc0 8px,#f79596 60px,#f47173 92px,#f04243 112px,#ee2628 132px,#ee2224 182px,#ee2224 300px,#ef3032 310px,#f68a8b 330px,#fde2e2 360px,#fefeff 390px,#afafff 450px,#a3a3ff 462px,#9e9eff 600px)"></i>
<i style="top:378px;height:4px;background:linear-gradient(90deg,#fabebf 8px,#f79394 60px,#f46c6d 94px,#ef2d2f 128px,#ee2224 152px,#ee2224 300px,#f14546 312px,#f79394 332px,#fde6e6 360px,#ffffff 388px,#ababff 462px,#a2a2ff 600px)"></i>
<i style="top:381px;height:4px;background:linear-gradient(90deg,#fac0c0 8px,#f79596 60px,#f36869 102px,#ef3537 132px,#ef2a2c 156px,#ef292b 300px,#f89fa0 334px,#fde9e9 360px,#fefeff 388px,#b5b5ff 462px,#a9a9ff 600px)"></i>
<i style="top:384px;height:4px;background:linear-gradient(90deg,#fcd2d2 8px,#f9abac 70px,#f68f90 104px,#f46a6b 132px,#f2595b 164px,#f14e50 230px,#f25254 300px,#f9b5b5 336px,#fdebeb 362px,#fefeff 386px,#c6c6ff 462px,#bcbcff 600px)"></i>
<i style="top:387px;height:4px;background:linear-gradient(90deg,#fde4e4 8px,#fababb 104px,#f79596 146px,#f58082 182px,#f47375 226px,#f57c7d 300px,#fbcfcf 342px,#fef1f1 368px,#ffffff 382px,#d7d7ff 466px,#cfcfff 600px)"></i>
<i style="top:390px;height:4px;background:linear-gradient(90deg,#fef3f3 8px,#fcd6d6 106px,#f8a2a3 180px,#f79394 224px,#f79c9d 300px,#fcdede 346px,#ffffff 378px,#e3e3ff 468px,#ddddff 600px)"></i>
<i style="top:393px;height:4px;background:linear-gradient(90deg,#fffdfd 8px,#fde3e3 110px,#f9b6b7 182px,#f9aeaf 228px,#f9b6b6 302px,#fdeaea 350px,#ffffff 374px,#f8f8ff 386px,#e8e8ff 476px,#e4e4ff 600px)"></i>
<i style="top:396px;height:4px;background:linear-gradient(90deg,#f5f5ff 8px,#fffefe 60px,#feefef 122px,#fbcccc 184px,#fbc9c9 252px,#fbcccd 302px,#ffffff 368px,#f5f5ff 384px,#ededff 510px,#ececff 600px)"></i>
<i style="top:399px;height:4px;background:linear-gradient(90deg,#eaeaff 8px,#fffdfd 124px,#fddfdf 184px,#fde1e1 304px,#ffffff 360px,#f2f2ff 384px,#f2f2ff 600px)"></i>
<i style="top:402px;height:4px;background:linear-gradient(90deg,#e8e8ff 8px,#fffefe 128px,#fde4e4 184px,#fde5e5 304px,#fefeff 358px,#f2f2ff 384px,#f3f3ff 600px)"></i>
<i style="top:405px;height:4px;background:linear-gradient(90deg,#e6e6ff 8px,#fcfcff 126px,#fffdfd 136px,#fde9ea 186px,#fde9ea 304px,#fefeff 356px,#f2f2ff 386px,#f3f3ff 600px)"></i>
<i style="top:408px;height:4px;background:linear-gradient(90deg,#e5e5ff 8px,#f9f9ff 128px,#fffefe 144px,#feefef 188px,#feeeef 306px,#fefeff 352px,#f2f2ff 386px,#f4f4ff 600px)"></i>
<i style="top:411px;height:4px;background:linear-gradient(90deg,#e3e3ff 8px,#f7f7ff 130px,#fffefe 154px,#fef4f4 190px,#fef3f3 306px,#fefeff 348px,#f1f1ff 388px,#f5f5ff 600px)"></i>
<i style="top:414px;height:4px;background:linear-gradient(90deg,#e1e1ff 8px,#f4f4ff 132px,#fffefe 168px,#fef8f8 226px,#fef7f7 308px,#fefeff 340px,#f1f1ff 390px,#f5f5ff 600px)"></i>
<i style="top:417px;height:4px;background:linear-gradient(90deg,#dfdfff 8px,#f1f1ff 134px,#ffffff 190px,#fffcfc 310px,#fdfdff 334px,#f1f1ff 394px,#f6f6ff 600px)"></i>
<i style="top:420px;height:4px;background:linear-gradient(90deg,#ddddff 8px,#eeeeff 140px,#fbfbff 206px,#fdfdff 314px,#f0f0ff 400px,#f6f6ff 600px)"></i>
<i style="top:423px;height:4px;background:linear-gradient(90deg,#dbdbff 8px,#ededff 152px,#f8f8ff 264px,#f8f8ff 320px,#f0f0ff 414px,#f7f7ff 600px)"></i>
<i style="top:426px;height:4px;background:linear-gradient(90deg,#d9d9ff 8px,#f6f6ff 302px,#f1f1ff 434px,#f7f7ff 600px)"></i>
<i style="top:429px;height:4px;background:linear-gradient(90deg,#d9d9ff 8px,#f4f4ff 306px,#f1f1ff 440px,#f7f7ff 600px)"></i>
<i style="top:432px;height:4px;background:linear-gradient(90deg,#d9d9ff 8px,#f4f4ff 306px,#f1f1ff 440px,#f8f8ff 600px)"></i>
<i style="top:435px;height:4px;background:linear-gradient(90deg,#d9d9ff 8px,#f4f4ff 306px,#f1f1ff 440px,#f8f8ff 600px)"></i>
<i style="top:438px;height:4px;background:linear-gradient(90deg,#d9d9ff 8px,#f4f4ff 306px,#f1f1ff 440px,#f8f8ff 600px)"></i>
<i style="top:441px;height:4px;background:linear-gradient(90deg,#d9d9ff 8px,#f4f4ff 306px,#f1f1ff 440px,#f8f8ff 600px)"></i>
<i style="top:444px;height:4px;background:linear-gradient(90deg,#d9d9ff 8px,#f4f4ff 308px,#f1f1ff 442px,#f8f8ff 600px)"></i>
<i style="top:447px;height:4px;background:linear-gradient(90deg,#d9d9ff 8px,#f4f4ff 308px,#f1f1ff 442px,#f8f8ff 600px)"></i>
<i style="top:450px;height:4px;background:linear-gradient(90deg,#d9d9ff 8px,#f4f4ff 308px,#f1f1ff 442px,#f8f8ff 600px)"></i>
<i style="top:453px;height:4px;background:linear-gradient(90deg,#d9d9ff 8px,#f4f4ff 308px,#f1f1ff 442px,#f8f8ff 600px)"></i>
<i style="top:456px;height:4px;background:linear-gradient(90deg,#d9d9ff 8px,#f3f3ff 310px,#f2f2ff 444px,#f8f8ff 600px)"></i>
<i style="top:459px;height:4px;background:linear-gradient(90deg,#d9d9ff 8px,#f3f3ff 310px,#f2f2ff 444px,#f8f8ff 600px)"></i>
<i style="top:462px;height:4px;background:linear-gradient(90deg,#d9d9ff 8px,#f3f3ff 310px,#f2f2ff 444px,#f8f8ff 600px)"></i>
<i style="top:465px;height:4px;background:linear-gradient(90deg,#d9d9ff 8px,#f3f3ff 310px,#f2f2ff 444px,#f9f9ff 600px)"></i>
<i style="top:468px;height:4px;background:linear-gradient(90deg,#d9d9ff 8px,#f3f3ff 312px,#f2f2ff 446px,#f9f9ff 600px)"></i>
<i style="top:471px;height:4px;background:linear-gradient(90deg,#d9d9ff 8px,#f3f3ff 312px,#f2f2ff 446px,#f9f9ff 600px)"></i>
<i style="top:474px;height:4px;background:linear-gradient(90deg,#d9d9ff 8px,#f3f3ff 312px,#f2f2ff 446px,#f9f9ff 600px)"></i>
<i style="top:477px;height:4px;background:linear-gradient(90deg,#d9d9ff 8px,#f3f3ff 312px,#f2f2ff 446px,#f9f9ff 600px)"></i>
<i style="top:480px;height:4px;background:linear-gradient(90deg,#d9d9ff 8px,#f3f3ff 314px,#f2f2ff 448px,#f9f9ff 600px)"></i>
<i style="top:483px;height:4px;background:linear-gradient(90deg,#d9d9ff 8px,#f3f3ff 314px,#f2f2ff 448px,#f9f9ff 600px)"></i>
<i style="top:486px;height:4px;background:linear-gradient(90deg,#d9d9ff 8px,#f2f2ff 314px,#f2f2ff 448px,#f9f9ff 600px)"></i>
<i style="top:489px;height:4px;background:linear-gradient(90deg,#d9d9ff 8px,#f2f2ff 316px,#f2f2ff 450px,#f9f9ff 600px)"></i>
<i style="top:492px;height:4px;background:linear-gradient(90deg,#d9d9ff 8px,#f2f2ff 316px,#f2f2ff 450px,#f9f9ff 600px)"></i>
<i style="top:495px;height:4px;background:linear-gradient(90deg,#d9d9ff 8px,#f2f2ff 316px,#f2f2ff 450px,#fafaff 600px)"></i>
<i style="top:498px;height:4px;background:linear-gradient(90deg,#d9d9ff 8px,#f2f2ff 318px,#f2f2ff 452px,#fafaff 600px)"></i>
<i style="top:501px;height:4px;background:linear-gradient(90deg,#d9d9ff 8px,#f2f2ff 318px,#f2f2ff 452px,#fafaff 600px)"></i>
<i style="top:504px;height:4px;background:linear-gradient(90deg,#d9d9ff 8px,#f2f2ff 318px,#f2f2ff 452px,#fafaff 600px)"></i>
<i style="top:507px;height:4px;background:linear-gradient(90deg,#d9d9ff 8px,#f2f2ff 320px,#f2f2ff 454px,#fafaff 600px)"></i>
<i style="top:510px;height:4px;background:linear-gradient(90deg,#d9d9ff 8px,#f2f2ff 320px,#f2f2ff 454px,#fafaff 600px)"></i>
<i style="top:513px;height:3px;background:linear-gradient(90deg,#d9d9ff 8px,#f2f2ff 320px,#f2f2ff 454px,#fafaff 600px)"></i>
</div></div>
<div style="position:absolute;left:894px;top:4px;width:587px;height:491px;overflow:hidden"><div style="position:absolute;left:-12px;top:-12px;width:611px;height:515px;filter:blur(2.5px);">
<i style="top:0px;height:4px;background:linear-gradient(90deg,#2626ff 8px,#2929ff 60px,#6b6bff 110px,#ccccff 148px,#ffffff 158px,#f68d8e 208px,#f58182 230px,#f68d8e 248px,#feeded 290px,#ffffff 300px,#e6e6ff 306px,#a4a4ff 312px,#9696ff 314px,#6666ff 328px,#4747ff 348px,#4747ff 388px,#7e7eff 424px,#9e9eff 442px,#b5b5ff 462px,#e7e7ff 544px,#f2f2ff 604px)"></i>
<i style="top:3px;height:4px;background:linear-gradient(90deg,#2626ff 8px,#2929ff 60px,#6b6bff 110px,#ccccff 148px,#ffffff 158px,#f68d8e 208px,#f58182 230px,#f68d8e 248px,#feeded 290px,#ffffff 300px,#e6e6ff 306px,#a4a4ff 312px,#9696ff 314px,#6666ff 328px,#4747ff 348px,#4747ff 388px,#7e7eff 424px,#9e9eff 442px,#b5b5ff 462px,#e7e7ff 544px,#f2f2ff 604px)"></i>
<i style="top:6px;height:4px;background:linear-gradient(90deg,#2626ff 8px,#2929ff 60px,#6b6bff 110px,#ccccff 148px,#ffffff 158px,#f68d8e 208px,#f58182 230px,#f68d8e 248px,#feeded 290px,#ffffff 300px,#e6e6ff 306px,#a4a4ff 312px,#9696ff 314px,#6666ff 328px,#4747ff 348px,#4747ff 388px,#7e7eff 424px,#9e9eff 442px,#b5b5ff 462px,#e7e7ff 544px,#f2f2ff 604px)"></i>
<i style="top:9px;height:4px;background:linear-gradient(90deg,#2626ff 8px,#2929ff 60px,#6b6bff 110px,#ccccff 148px,#fefeff 158px,#f68c8d 208px,#f58182 230px,#f68c8e 248px,#fef0f0 292px,#ffffff 300px,#e5e5ff 306px,#a4a4ff 312px,#9696ff 314px,#6666ff 328px,#4747ff 348px,#4646ff 388px,#7d7dff 424px,#9d9dff 442px,#b4b4ff 462px,#e6e6ff 544px,#f2f2ff 604px)"></i>
<i style="top:12px;height:4px;background:linear-gradient(90deg,#2626ff 8px,#2929ff 60px,#6666ff 108px,#ccccff 148px,#fdfdff 158px,#feeeee 166px,#f68c8d 208px,#f58081 230px,#f68c8d 248px,#fef4f4 294px,#ffffff 300px,#e4e4ff 306px,#a5a5ff 312px,#9696ff 314px,#6666ff 328px,#4646ff 348px,#4545ff 388px,#7b7bff 424px,#9e9eff 444px,#b3b3ff 462px,#e4e4ff 544px,#f1f1ff 604px)"></i>
<i style="top:15px;height:4px;background:linear-gradient(90deg,#2626ff 8px,#2828ff 60px,#6666ff 108px,#cbcbff 148px,#fcfcff 158px,#fffdfd 160px,#f68b8c 208px,#f57f80 230px,#f68c8d 248px,#fef4f4 294px,#ffffff 300px,#e4e4ff 306px,#a5a5ff 312px,#9797ff 314px,#6666ff 328px,#4646ff 348px,#4747ff 390px,#7979ff 424px,#9c9cff 444px,#b1b1ff 462px,#e3e3ff 544px,#f0f0ff 604px)"></i>
<i style="top:18px;height:4px;background:linear-gradient(90deg,#2626ff 8px,#2828ff 60px,#6666ff 108px,#cbcbff 148px,#fbfbff 158px,#fffdfd 160px,#f68a8b 208px,#f57f80 230px,#f68c8d 248px,#fef4f4 294px,#ffffff 300px,#e3e3ff 306px,#a6a6ff 312px,#9797ff 314px,#6c6cff 326px,#5757ff 336px,#4545ff 350px,#4343ff 388px,#7474ff 422px,#9a9aff 444px,#b0b0ff 462px,#e2e2ff 544px,#f0f0ff 604px)"></i>
<i style="top:21px;height:4px;background:linear-gradient(90deg,#2626ff 8px,#2828ff 60px,#6363ff 106px,#c5c5ff 146px,#d4d4ff 150px,#fafaff 158px,#fffefe 160px,#f68e8f 206px,#f58081 222px,#f57f80 232px,#f68b8c 248px,#fef8f8 296px,#ffffff 300px,#e3e3ff 306px,#a6a6ff 312px,#9898ff 314px,#7979ff 322px,#6262ff 330px,#4545ff 348px,#4242ff 386px,#5959ff 406px,#8585ff 432px,#acacff 458px,#e1e1ff 544px,#efefff 604px)"></i>
<i style="top:24px;height:4px;background:linear-gradient(90deg,#2626ff 8px,#2828ff 60px,#5656ff 98px,#6b6bff 110px,#c5c5ff 146px,#ddddff 152px,#f9f9ff 158px,#ffffff 160px,#f79596 202px,#f68788 210px,#f57c7d 228px,#f6898a 246px,#fde3e3 286px,#ffffff 300px,#e2e2ff 306px,#a7a7ff 312px,#9898ff 314px,#7f7fff 320px,#6161ff 330px,#4444ff 348px,#4141ff 378px,#4343ff 390px,#6969ff 418px,#9a9aff 446px,#aeaeff 462px,#e0e0ff 544px,#efefff 604px)"></i>
<i style="top:27px;height:4px;background:linear-gradient(90deg,#2626ff 8px,#2828ff 60px,#4848ff 88px,#6666ff 108px,#bfbfff 144px,#d4d4ff 150px,#f8f8ff 158px,#fefeff 160px,#f79495 202px,#f68788 210px,#f57c7d 228px,#f68687 244px,#f79394 252px,#fef8f8 296px,#ffffff 300px,#e2e2ff 306px,#a7a7ff 312px,#8f8fff 316px,#7272ff 324px,#5d5dff 332px,#4444ff 348px,#3f3fff 374px,#4242ff 390px,#5f5fff 412px,#9e9eff 450px,#acacff 462px,#dedeff 544px,#eeeeff 604px)"></i>
<i style="top:30px;height:4px;background:linear-gradient(90deg,#2626ff 8px,#2828ff 60px,#3d3dff 80px,#5f5fff 104px,#b9b9ff 142px,#d3d3ff 150px,#fefeff 160px,#fcdada 174px,#f79494 202px,#f68687 210px,#f57b7c 228px,#f58385 242px,#f68f90 250px,#fef8f8 296px,#fffefe 300px,#e1e1ff 306px,#a8a8ff 312px,#8f8fff 316px,#7e7eff 320px,#6161ff 330px,#4949ff 344px,#4040ff 356px,#3f3fff 388px,#5454ff 406px,#8787ff 436px,#aaaaff 460px,#ddddff 544px,#ededff 604px)"></i>
<i style="top:33px;height:4px;background:linear-gradient(90deg,#2626ff 8px,#2828ff 60px,#3838ff 76px,#5b5bff 102px,#7a7aff 116px,#b9b9ff 142px,#d3d3ff 150px,#fdfdff 160px,#fef6f6 164px,#f79a9b 198px,#f68586 210px,#f57a7c 228px,#f58384 242px,#f79394 252px,#fef8f8 296px,#fffefe 300px,#ececff 304px,#e1e1ff 306px,#a8a8ff 312px,#8f8fff 316px,#7e7eff 320px,#6161ff 330px,#4b4bff 342px,#4141ff 352px,#3d3dff 372px,#3f3fff 390px,#5252ff 406px,#8585ff 436px,#a9a9ff 460px,#dcdcff 544px,#ededff 604px)"></i>
<i style="top:36px;height:4px;background:linear-gradient(90deg,#2626ff 8px,#2929ff 62px,#3939ff 78px,#5b5bff 102px,#b2b2ff 140px,#d2d2ff 150px,#fcfcff 160px,#fffcfc 162px,#f8a9aa 192px,#f68e8f 204px,#f57f80 216px,#f57b7c 232px,#f58283 242px,#f79293 252px,#fef8f8 296px,#fffefe 300px,#ececff 304px,#e0e0ff 306px,#a9a9ff 312px,#8f8fff 316px,#7e7eff 320px,#6060ff 330px,#4a4aff 342px,#3f3fff 354px,#3c3cff 372px,#4040ff 392px,#5151ff 406px,#a6a6ff 458px,#dbdbff 544px,#ececff 604px)"></i>
<i style="top:39px;height:4px;background:linear-gradient(90deg,#2626ff 8px,#2929ff 62px,#3636ff 76px,#5a5aff 102px,#b2b2ff 140px,#d2d2ff 150px,#fbfbff 160px,#fffdfd 162px,#f9b3b3 188px,#f79495 200px,#f58283 212px,#f57a7b 226px,#f57f80 240px,#f79293 252px,#fde7e7 288px,#fffefe 300px,#ebebff 304px,#e0e0ff 306px,#9a9aff 314px,#8383ff 318px,#5c5cff 332px,#4949ff 342px,#3d3dff 356px,#3a3aff 374px,#3f3fff 392px,#4c4cff 404px,#8181ff 436px,#a6a6ff 460px,#dadaff 546px,#ebebff 604px)"></i>
<i style="top:42px;height:4px;background:linear-gradient(90deg,#2626ff 8px,#2828ff 62px,#3333ff 74px,#5656ff 100px,#b1b1ff 140px,#d2d2ff 150px,#fafaff 160px,#fffdfd 162px,#f9b7b8 186px,#f79394 200px,#f57f80 214px,#f5787a 228px,#f57e7f 240px,#f79697 254px,#fde1e2 286px,#fffbfb 298px,#fffefe 300px,#f7f7ff 302px,#dfdfff 306px,#9b9bff 314px,#8383ff 318px,#5b5bff 332px,#4b4bff 340px,#3d3dff 356px,#3939ff 372px,#3d3dff 392px,#4a4aff 404px,#a5a5ff 460px,#d9d9ff 546px,#ebebff 604px)"></i>
<i style="top:45px;height:4px;background:linear-gradient(90deg,#2626ff 8px,#2929ff 64px,#3a3aff 80px,#5555ff 100px,#b1b1ff 140px,#d9d9ff 152px,#f9f9ff 160px,#fffefe 162px,#f9b6b7 186px,#f79293 200px,#f57e7f 214px,#f57879 228px,#f57d7e 240px,#f79596 254px,#fde1e1 286px,#fef8f8 296px,#fffefe 300px,#f7f7ff 302px,#dedeff 306px,#9b9bff 314px,#8383ff 318px,#5b5bff 332px,#4a4aff 340px,#3a3aff 358px,#3838ff 376px,#3e3eff 396px,#7272ff 430px,#a3a3ff 460px,#d8d8ff 546px,#eaeaff 604px)"></i>
<i style="top:48px;height:4px;background:linear-gradient(90deg,#2626ff 8px,#2929ff 64px,#3434ff 76px,#5555ff 100px,#a5a5ff 136px,#d1d1ff 150px,#ffffff 162px,#fabbbb 184px,#f79192 200px,#f5797a 218px,#f5797a 238px,#f7999a 256px,#fcdbdc 284px,#fef8f8 296px,#fffefe 300px,#f7f7ff 302px,#dedeff 306px,#9b9bff 314px,#8282ff 318px,#5656ff 334px,#4747ff 342px,#3636ff 364px,#3c3cff 394px,#4747ff 404px,#9d9dff 456px,#d7d7ff 546px,#e9e9ff 604px)"></i>
<i style="top:51px;height:4px;background:linear-gradient(90deg,#2626ff 8px,#2929ff 66px,#5454ff 100px,#9898ff 130px,#afafff 140px,#e0e0ff 154px,#ffffff 162px,#fababb 184px,#f69091 200px,#f57879 218px,#f57879 238px,#f79c9d 258px,#fcdbdb 284px,#fef8f8 296px,#fffefe 300px,#f7f7ff 302px,#cdcdff 308px,#9c9cff 314px,#8282ff 318px,#4b4bff 338px,#3535ff 362px,#3b3bff 396px,#7272ff 432px,#a1a1ff 460px,#d5d5ff 546px,#e9e9ff 604px)"></i>
<i style="top:54px;height:4px;background:linear-gradient(90deg,#2626ff 8px,#2929ff 68px,#5454ff 100px,#9494ff 128px,#afafff 140px,#dfdfff 154px,#fefeff 162px,#fab9ba 184px,#f68f90 200px,#f57779 218px,#f57779 238px,#f8a0a1 260px,#fcdbdb 284px,#fef5f5 294px,#fffefe 300px,#f7f7ff 302px,#cdcdff 308px,#8f8fff 316px,#8181ff 318px,#4b4bff 338px,#3333ff 364px,#3a3aff 398px,#7878ff 436px,#a0a0ff 460px,#d4d4ff 546px,#e8e8ff 604px)"></i>
<i style="top:57px;height:4px;background:linear-gradient(90deg,#2626ff 8px,#2828ff 68px,#5353ff 100px,#9090ff 126px,#aeaeff 140px,#e7e7ff 156px,#fdfdff 162px,#fde5e5 170px,#f9b3b4 186px,#f68e8f 200px,#f47677 220px,#f47678 238px,#f8a4a5 262px,#fcdadb 284px,#fef5f5 294px,#fffefe 300px,#f8f8ff 302px,#bcbcff 310px,#8181ff 318px,#4a4aff 338px,#3232ff 364px,#3939ff 398px,#7676ff 436px,#9e9eff 460px,#d4d4ff 548px,#e8e8ff 604px)"></i>
<i style="top:60px;height:4px;background:linear-gradient(90deg,#2626ff 8px,#2828ff 68px,#5353ff 100px,#8b8bff 124px,#aeaeff 140px,#fdfdff 162px,#fef3f3 166px,#fabdbe 182px,#f68f90 198px,#f47576 220px,#f47577 238px,#f8a9a9 264px,#fcdada 284px,#fef5f5 294px,#fffefe 300px,#f8f8ff 302px,#8080ff 318px,#4949ff 338px,#3131ff 364px,#3737ff 398px,#7474ff 436px,#9d9dff 460px,#d2d2ff 548px,#e7e7ff 604px)"></i>
<i style="top:63px;height:4px;background:linear-gradient(90deg,#2626ff 8px,#2727ff 68px,#5252ff 100px,#8787ff 122px,#adadff 140px,#fcfcff 162px,#fffbfb 164px,#fabdbd 182px,#f68e8f 198px,#f47476 220px,#f47476 238px,#f8a8a9 264px,#fcdada 284px,#fef5f5 294px,#fffefe 300px,#f8f8ff 302px,#8080ff 318px,#4848ff 338px,#3030ff 364px,#3535ff 398px,#7272ff 436px,#9c9cff 460px,#d1d1ff 548px,#e6e6ff 604px)"></i>
<i style="top:66px;height:4px;background:linear-gradient(90deg,#2626ff 8px,#2929ff 70px,#5252ff 100px,#8787ff 122px,#a6a6ff 138px,#fbfbff 162px,#fffbfb 164px,#fabcbd 182px,#f68d8e 198px,#f47375 220px,#f47375 238px,#f9acad 266px,#fcd9da 284px,#fef5f5 294px,#fffefe 300px,#f8f8ff 302px,#8080ff 318px,#4848ff 338px,#2e2eff 364px,#3333ff 398px,#7070ff 436px,#9a9aff 460px,#d0d0ff 548px,#e6e6ff 604px)"></i>
<i style="top:69px;height:4px;background:linear-gradient(90deg,#2525ff 8px,#2525ff 68px,#5151ff 100px,#8686ff 122px,#a5a5ff 138px,#f3f3ff 160px,#fbfbff 162px,#fffbfb 164px,#fabcbd 182px,#f68d8e 198px,#f47374 218px,#f47475 238px,#f8a7a8 264px,#fcd4d4 282px,#fef5f5 294px,#fffefe 300px,#f8f8ff 302px,#8080ff 318px,#4646ff 338px,#2d2dff 364px,#3535ff 400px,#6f6fff 436px,#9a9aff 460px,#cfcfff 548px,#e4e4ff 604px)"></i>
<i style="top:72px;height:4px;background:linear-gradient(90deg,#2323ff 8px,#2323ff 68px,#5151ff 100px,#8888ff 124px,#ababff 140px,#ebebff 158px,#fbfbff 162px,#fffbfb 164px,#fabcbd 182px,#f68d8e 198px,#f47273 218px,#f47576 238px,#f8a7a8 264px,#fcd4d4 282px,#fef5f5 294px,#fffefe 300px,#f8f8ff 302px,#8080ff 318px,#4444ff 338px,#2c2cff 364px,#3535ff 400px,#6e6eff 436px,#9999ff 460px,#ccccff 544px,#e2e2ff 604px)"></i>
<i style="top:75px;height:4px;background:linear-gradient(90deg,#2121ff 8px,#2121ff 68px,#5050ff 100px,#8787ff 124px,#a9a9ff 140px,#dadaff 154px,#fbfbff 162px,#fffbfb 164px,#fabcbd 182px,#f68d8e 198px,#f47172 218px,#f47677 238px,#f8a3a3 262px,#fcd4d4 282px,#fef5f5 294px,#fffefe 300px,#f8f8ff 302px,#8080ff 318px,#4242ff 338px,#2b2bff 366px,#3434ff 400px,#6d6dff 436px,#9898ff 460px,#c6c6ff 532px,#e0e0ff 604px)"></i>
<i style="top:78px;height:4px;background:linear-gradient(90deg,#1f1fff 8px,#1f1fff 68px,#4f4fff 100px,#8585ff 124px,#a8a8ff 140px,#d1d1ff 152px,#fbfbff 162px,#fffbfb 164px,#fabcbd 182px,#f68d8e 198px,#f47071 218px,#f57a7c 240px,#f8a3a3 262px,#fcd4d4 282px,#fef5f5 294px,#fffefe 300px,#f8f8ff 302px,#8080ff 318px,#4040ff 338px,#2a2aff 366px,#3333ff 400px,#5d5dff 428px,#9797ff 460px,#bdbdff 518px,#d2d2ff 566px,#dedeff 604px)"></i>
<i style="top:81px;height:4px;background:linear-gradient(90deg,#1d1dff 8px,#1d1dff 68px,#4f4fff 100px,#8888ff 126px,#a7a7ff 140px,#d0d0ff 152px,#fbfbff 162px,#fffbfb 164px,#fabcbd 182px,#f68d8e 198px,#f46f70 218px,#f57b7c 240px,#f8a3a3 262px,#fcd4d4 282px,#fef5f5 294px,#fffefe 300px,#f8f8ff 302px,#8080ff 318px,#3e3eff 338px,#2929ff 366px,#3232ff 400px,#4b4bff 418px,#9696ff 460px,#babaff 512px,#ceceff 560px,#dcdcff 604px)"></i>
<i style="top:84px;height:4px;background:linear-gradient(90deg,#1b1bff 8px,#1b1bff 68px,#4e4eff 100px,#a6a6ff 140px,#c7c7ff 150px,#fbfbff 162px,#fffbfb 164px,#fabcbd 182px,#f68a8b 200px,#f46e6f 218px,#f57c7d 240px,#f8a3a3 262px,#fcd4d4 282px,#fef5f5 294px,#fffefe 300px,#f8f8ff 302px,#8080ff 318px,#3c3cff 338px,#2828ff 366px,#3131ff 400px,#4343ff 414px,#9595ff 460px,#b7b7ff 508px,#cdcdff 560px,#dadaff 604px)"></i>
<i style="top:87px;height:4px;background:linear-gradient(90deg,#1919ff 8px,#1919ff 68px,#5252ff 102px,#a5a5ff 140px,#c5c5ff 150px,#fbfbff 162px,#fffbfb 164px,#fabcbd 182px,#f68a8b 200px,#f46d6e 218px,#f57d7e 240px,#f8a3a3 262px,#fcd4d4 282px,#fef5f5 294px,#fffefe 300px,#f8f8ff 302px,#8080ff 318px,#3a3aff 338px,#2626ff 368px,#3232ff 402px,#4242ff 414px,#9494ff 460px,#b6b6ff 506px,#ccccff 560px,#d8d8ff 604px)"></i>
<i style="top:90px;height:4px;background:linear-gradient(90deg,#1717ff 8px,#1717ff 68px,#5151ff 102px,#9e9eff 138px,#c4c4ff 150px,#fafaff 162px,#fffbfb 164px,#fabcbd 182px,#f6898b 200px,#f46c6d 218px,#f57e7f 240px,#f89e9f 260px,#fcd4d4 282px,#fef5f5 294px,#fffefe 300px,#f8f8ff 302px,#8080ff 318px,#3838ff 338px,#2525ff 368px,#3131ff 402px,#3d3dff 412px,#9393ff 460px,#b6b6ff 506px,#ccccff 564px,#d7d7ff 604px)"></i>
<i style="top:93px;height:4px;background:linear-gradient(90deg,#1515ff 8px,#1515ff 68px,#5555ff 104px,#9d9dff 138px,#babaff 148px,#fafaff 162px,#fffbfb 164px,#fabcbd 182px,#f6898a 200px,#f46b6c 218px,#f58283 242px,#f89e9f 260px,#fcd4d4 282px,#fef5f5 294px,#fffefe 300px,#f8f8ff 302px,#8080ff 318px,#3737ff 338px,#2424ff 368px,#3232ff 404px,#3f3fff 414px,#9292ff 460px,#b5b5ff 504px,#cacaff 564px,#d5d5ff 604px)"></i>
<i style="top:96px;height:4px;background:linear-gradient(90deg,#1313ff 8px,#1313ff 68px,#5858ff 106px,#9898ff 136px,#b8b8ff 148px,#fafaff 162px,#fffbfb 164px,#fabcbd 182px,#f6898a 200px,#f46a6b 218px,#f68586 244px,#f89e9f 260px,#fcd4d4 282px,#fef5f5 294px,#fffefe 300px,#f8f8ff 302px,#8080ff 318px,#3535ff 338px,#2323ff 368px,#3232ff 406px,#8888ff 454px,#9595ff 464px,#b5b5ff 504px,#cacaff 568px,#d3d3ff 604px)"></i>
<i style="top:99px;height:4px;background:linear-gradient(90deg,#1212ff 8px,#1212ff 68px,#6868ff 114px,#9797ff 136px,#b6b6ff 148px,#fafaff 162px,#fffbfb 164px,#fabcbd 182px,#f6898a 200px,#f3696a 218px,#f68b8c 248px,#f89e9f 260px,#fcd4d4 282px,#fef5f5 294px,#fffefe 300px,#f8f8ff 302px,#8080ff 318px,#3333ff 338px,#2222ff 370px,#3232ff 408px,#9090ff 460px,#b4b4ff 502px,#c9c9ff 570px,#d1d1ff 604px)"></i>
<i style="top:102px;height:4px;background:linear-gradient(90deg,#1010ff 8px,#1010ff 68px,#8787ff 130px,#b5b5ff 148px,#fafaff 162px,#fffbfb 164px,#fabcbd 182px,#f6898a 200px,#f36869 218px,#f7999a 258px,#fcd4d4 282px,#fef5f5 294px,#fffefe 300px,#f8f8ff 302px,#8080ff 318px,#3131ff 338px,#2121ff 370px,#3030ff 408px,#9090ff 460px,#b4b4ff 502px,#c9c9ff 574px,#cfcfff 604px)"></i>
<i style="top:105px;height:4px;background:linear-gradient(90deg,#0e0eff 8px,#0e0eff 68px,#8a8aff 132px,#b3b3ff 148px,#fafaff 162px,#fffbfb 164px,#fabcbd 182px,#f6898a 200px,#f36768 218px,#f89e9f 260px,#fcd4d4 282px,#fef5f5 294px,#fffefe 300px,#f8f8ff 302px,#8080ff 318px,#2f2fff 338px,#2020ff 370px,#2f2fff 408px,#8f8fff 460px,#b4b4ff 502px,#c8c8ff 580px,#cdcdff 604px)"></i>
<i style="top:108px;height:4px;background:linear-gradient(90deg,#0d0dff 8px,#0d0dff 68px,#8b8bff 132px,#b4b4ff 148px,#fbfbff 162px,#fffbfb 164px,#fabcbc 182px,#f6898a 200px,#f36768 218px,#f89e9f 260px,#fcd4d4 282px,#fef5f5 294px,#fffefe 300px,#f7f7ff 302px,#7f7fff 318px,#2e2eff 338px,#1f1fff 370px,#2e2eff 408px,#8e8eff 460px,#b4b4ff 502px,#c8c8ff 582px,#ccccff 604px)"></i>
<i style="top:111px;height:4px;background:linear-gradient(90deg,#0d0dff 8px,#0d0dff 68px,#8e8eff 132px,#b7b7ff 148px,#fcfcff 162px,#fffafa 164px,#fabbbc 182px,#f6898a 200px,#f36769 218px,#f89fa0 260px,#fcd4d5 282px,#fef5f5 294px,#ffffff 300px,#f6f6ff 302px,#7f7fff 318px,#2d2dff 338px,#1f1fff 370px,#2d2dff 408px,#8e8eff 460px,#b3b3ff 502px,#c7c7ff 576px,#ccccff 604px)"></i>
<i style="top:114px;height:4px;background:linear-gradient(90deg,#0d0dff 8px,#0d0dff 68px,#9090ff 132px,#b9b9ff 148px,#fdfdff 162px,#fabbbb 182px,#f6898a 200px,#f36869 218px,#f8a0a1 260px,#fcd5d5 282px,#fef5f6 294px,#fefeff 300px,#e6e6ff 304px,#7e7eff 318px,#2d2dff 338px,#1f1fff 370px,#3030ff 410px,#8d8dff 460px,#b3b3ff 502px,#c6c6ff 574px,#ccccff 604px)"></i>
<i style="top:117px;height:4px;background:linear-gradient(90deg,#0d0dff 8px,#0d0dff 68px,#9393ff 132px,#bcbcff 148px,#ffffff 162px,#fababb 182px,#f6898a 200px,#f3696a 218px,#f8a1a2 260px,#fcd5d5 282px,#fef5f6 294px,#fefeff 300px,#e5e5ff 304px,#7d7dff 318px,#2d2dff 338px,#1e1eff 370px,#2f2fff 410px,#8d8dff 460px,#b3b3ff 502px,#c6c6ff 570px,#ccccff 604px)"></i>
<i style="top:120px;height:4px;background:linear-gradient(90deg,#0d0dff 8px,#0d0dff 68px,#9595ff 132px,#bfbfff 148px,#fffefe 162px,#fabfc0 180px,#f6898a 200px,#f3696b 218px,#f8a2a3 260px,#fcdbdb 284px,#fff9f9 296px,#fdfdff 300px,#e3e3ff 304px,#7d7dff 318px,#2c2cff 338px,#1e1eff 370px,#2f2fff 410px,#8c8cff 460px,#b3b3ff 502px,#c5c5ff 568px,#ccccff 604px)"></i>
<i style="top:123px;height:4px;background:linear-gradient(90deg,#0d0dff 8px,#0d0dff 68px,#9d9dff 134px,#c1c1ff 148px,#f7f7ff 160px,#fffdfd 162px,#fabfbf 180px,#f6898a 200px,#f46a6b 218px,#f8a3a4 260px,#fcdbdc 284px,#fff9f9 296px,#fcfcff 300px,#e2e2ff 304px,#7c7cff 318px,#2c2cff 338px,#1e1eff 370px,#2e2eff 410px,#8c8cff 460px,#b3b3ff 502px,#c5c5ff 566px,#ccccff 604px)"></i>
<i style="top:126px;height:4px;background:linear-gradient(90deg,#0d0dff 8px,#0d0dff 68px,#a0a0ff 134px,#c4c4ff 148px,#f9f9ff 160px,#fffcfc 162px,#fac4c4 178px,#f6898a 200px,#f46b6c 218px,#f8a4a5 260px,#fcdcdc 284px,#fff9f9 296px,#fbfbff 300px,#e1e1ff 304px,#7b7bff 318px,#2b2bff 338px,#1e1eff 370px,#2e2eff 410px,#8c8cff 460px,#b2b2ff 502px,#c4c4ff 564px,#ccccff 604px)"></i>
<i style="top:129px;height:4px;background:linear-gradient(90deg,#0d0dff 8px,#0d0dff 68px,#a2a2ff 134px,#c7c7ff 148px,#fafaff 160px,#fffbfb 162px,#fac3c4 178px,#f6898a 200px,#f46b6d 218px,#f8a5a6 260px,#fcdcdc 284px,#fff9f9 296px,#fffcfc 298px,#fafaff 300px,#b4b4ff 310px,#7b7bff 318px,#2b2bff 338px,#1d1dff 370px,#2d2dff 410px,#8b8bff 460px,#b2b2ff 502px,#c4c4ff 562px,#ccccff 604px)"></i>
<i style="top:132px;height:4px;background:linear-gradient(90deg,#0d0dff 8px,#0d0dff 68px,#6464ff 106px,#aaaaff 136px,#d1d1ff 150px,#fcfcff 160px,#fffafa 162px,#fbc9c9 176px,#f6898b 200px,#f46c6d 218px,#f8a6a6 260px,#fcdcdd 284px,#fff9f9 296px,#fffdfd 298px,#f9f9ff 300px,#7a7aff 318px,#2b2bff 338px,#1d1dff 370px,#2c2cff 410px,#8b8bff 460px,#b2b2ff 502px,#c4c4ff 560px,#ccccff 604px)"></i>
<i style="top:135px;height:4px;background:linear-gradient(90deg,#0d0dff 8px,#0d0dff 68px,#5858ff 100px,#adadff 136px,#d4d4ff 150px,#fdfdff 160px,#fbc8c9 176px,#f68a8b 200px,#f46d6e 218px,#f8a6a7 260px,#fcdddd 284px,#fffdfd 298px,#f8f8ff 300px,#7979ff 318px,#2a2aff 338px,#1d1dff 370px,#2c2cff 410px,#8b8bff 460px,#b2b2ff 502px,#c3c3ff 558px,#ccccff 604px)"></i>
<i style="top:138px;height:4px;background:linear-gradient(90deg,#0d0dff 8px,#0d0dff 68px,#5656ff 98px,#b5b5ff 138px,#d6d6ff 150px,#ffffff 160px,#fbcdce 174px,#f68a8b 200px,#f46d6f 218px,#f8a7a8 260px,#fcdddd 284px,#fffdfd 298px,#f7f7ff 300px,#7979ff 318px,#2a2aff 338px,#1d1dff 370px,#2b2bff 410px,#6767ff 442px,#8a8aff 460px,#b1b1ff 502px,#c3c3ff 558px,#ccccff 604px)"></i>
<i style="top:141px;height:4px;background:linear-gradient(90deg,#0d0dff 8px,#0d0dff 68px,#4e4eff 94px,#b7b7ff 138px,#d9d9ff 150px,#fffefe 160px,#fcd2d3 172px,#f68a8b 200px,#f46e6f 218px,#f8a8a9 260px,#fcddde 284px,#fffdfd 298px,#f7f7ff 300px,#7878ff 318px,#2a2aff 338px,#1c1cff 370px,#2d2dff 412px,#8a8aff 460px,#b1b1ff 502px,#c3c3ff 556px,#ccccff 604px)"></i>
<i style="top:144px;height:4px;background:linear-gradient(90deg,#0d0dff 8px,#0d0dff 68px,#4f4fff 94px,#bfbfff 140px,#e2e2ff 152px,#fffdfd 160px,#fbd1d2 172px,#f68a8b 200px,#f46f70 218px,#f8a5a6 258px,#fcd4d4 280px,#fffdfd 298px,#f6f6ff 300px,#7878ff 318px,#2929ff 338px,#1c1cff 370px,#2c2cff 412px,#8989ff 460px,#b1b1ff 502px,#c3c3ff 556px,#ccccff 604px)"></i>
<i style="top:147px;height:4px;background:linear-gradient(90deg,#0d0dff 8px,#0d0dff 68px,#4c4cff 92px,#c7c7ff 142px,#ebebff 154px,#fafaff 158px,#fffcfc 160px,#fbd0d1 172px,#f68a8b 200px,#f46f70 218px,#f8a6a7 258px,#fcd4d4 280px,#fffefe 298px,#e7e7ff 302px,#a0a0ff 312px,#7777ff 318px,#2929ff 338px,#1c1cff 370px,#2b2bff 412px,#8989ff 460px,#b1b1ff 502px,#c2c2ff 554px,#ccccff 604px)"></i>
<i style="top:150px;height:4px;background:linear-gradient(90deg,#0d0dff 8px,#0d0dff 68px,#4d4dff 92px,#d9d9ff 148px,#fbfbff 158px,#fffbfb 160px,#fbcfd0 172px,#f68a8b 200px,#f47071 218px,#f8a7a8 258px,#fbd0d0 278px,#fffefe 298px,#e6e6ff 302px,#acacff 310px,#7676ff 318px,#2828ff 338px,#1c1cff 370px,#2a2aff 412px,#8989ff 460px,#b0b0ff 502px,#c2c2ff 554px,#ccccff 604px)"></i>
<i style="top:153px;height:4px;background:linear-gradient(90deg,#0d0dff 8px,#0d0dff 68px,#4a4aff 90px,#dcdcff 148px,#fdfdff 158px,#fef2f2 162px,#fbcecf 172px,#f68a8b 200px,#f47072 218px,#f8a5a6 256px,#fbcccc 276px,#fffefe 298px,#e5e5ff 302px,#ababff 310px,#7676ff 318px,#2828ff 338px,#1b1bff 370px,#2929ff 412px,#8888ff 460px,#b0b0ff 502px,#c2c2ff 554px,#ccccff 604px)"></i>
<i style="top:156px;height:4px;background:linear-gradient(90deg,#0d0dff 8px,#0d0dff 68px,#4b4bff 90px,#e5e5ff 150px,#fefeff 158px,#fbcdce 172px,#f68a8b 200px,#f47172 218px,#f8a3a4 254px,#fbc8c8 274px,#fffefe 298px,#aaaaff 310px,#7575ff 318px,#2828ff 338px,#1b1bff 370px,#2929ff 412px,#8888ff 460px,#b0b0ff 502px,#c2c2ff 552px,#ccccff 604px)"></i>
<i style="top:159px;height:4px;background:linear-gradient(90deg,#0d0dff 8px,#0d0dff 68px,#4c4cff 90px,#f3f3ff 154px,#fffefe 158px,#fbcccd 172px,#f68a8b 200px,#f47273 218px,#f8a1a2 252px,#fac4c5 272px,#fffefe 298px,#b6b6ff 308px,#7474ff 318px,#2727ff 338px,#1b1bff 370px,#2a2aff 414px,#8888ff 460px,#b0b0ff 502px,#c2c2ff 552px,#ccccff 604px)"></i>
<i style="top:162px;height:4px;background:linear-gradient(90deg,#0d0dff 8px,#0d0dff 68px,#4848ff 88px,#fffdfd 158px,#fbcbcc 172px,#f68a8b 200px,#f47274 218px,#f8a2a3 252px,#fbc5c5 272px,#ffffff 298px,#b4b4ff 308px,#7474ff 318px,#2727ff 338px,#1a1aff 370px,#2a2aff 414px,#8787ff 460px,#b0b0ff 502px,#c2c2ff 552px,#ccccff 604px)"></i>
<i style="top:165px;height:4px;background:linear-gradient(90deg,#0d0dff 8px,#0d0dff 68px,#4949ff 88px,#fcfcff 156px,#fffcfc 158px,#fbcacb 172px,#f68a8b 200px,#f47374 218px,#f8a0a0 250px,#fbc5c6 272px,#ffffff 298px,#b3b3ff 308px,#7373ff 318px,#2626ff 338px,#1a1aff 370px,#2929ff 414px,#8787ff 460px,#afafff 502px,#c2c2ff 552px,#ccccff 604px)"></i>
<i style="top:168px;height:4px;background:linear-gradient(90deg,#0d0dff 8px,#0e0eff 68px,#4b4bff 88px,#fdfdff 156px,#fef3f3 160px,#fbcaca 172px,#f68a8b 200px,#f47475 218px,#f8a0a0 250px,#fbc5c6 272px,#fefeff 298px,#b2b2ff 308px,#7272ff 318px,#2626ff 338px,#1b1bff 372px,#2828ff 414px,#8787ff 460px,#afafff 502px,#c2c2ff 550px,#ccccff 604px)"></i>
<i style="top:171px;height:4px;background:linear-gradient(90deg,#0e0eff 8px,#1010ff 68px,#4d4dff 88px,#ffffff 156px,#fbcaca 172px,#f68a8b 200px,#f47476 218px,#f89fa0 250px,#fbc5c5 272px,#fffcfc 296px,#fdfdff 298px,#b2b2ff 308px,#7272ff 318px,#2626ff 338px,#1b1bff 372px,#2828ff 414px,#8686ff 460px,#afafff 502px,#c2c2ff 550px,#ccccff 604px)"></i>
<i style="top:174px;height:4px;background:linear-gradient(90deg,#0e0eff 8px,#1212ff 66px,#1313ff 68px,#4f4fff 88px,#e2e2ff 144px,#fffefe 156px,#fbcaca 172px,#f68a8b 200px,#f47576 218px,#f89e9f 250px,#fbc9c9 274px,#fffdfd 296px,#fcfcff 298px,#b1b1ff 308px,#7171ff 318px,#2626ff 338px,#1b1bff 372px,#2828ff 414px,#8080ff 456px,#aeaeff 502px,#c2c2ff 550px,#ccccff 604px)"></i>
<i style="top:177px;height:4px;background:linear-gradient(90deg,#0f0fff 8px,#1212ff 60px,#1515ff 68px,#5656ff 90px,#dadaff 140px,#fcfcff 154px,#fffdfd 156px,#fbcaca 172px,#f68a8b 200px,#f47677 218px,#f79d9e 250px,#fbc8c9 274px,#fffdfd 296px,#fbfbff 298px,#b0b0ff 308px,#7171ff 318px,#2626ff 338px,#1b1bff 372px,#2828ff 414px,#7272ff 450px,#8686ff 460px,#aeaeff 502px,#c1c1ff 548px,#ccccff 604px)"></i>
<i style="top:180px;height:4px;background:linear-gradient(90deg,#1010ff 8px,#1212ff 56px,#1717ff 68px,#5858ff 90px,#d7d7ff 138px,#fefeff 154px,#fef6f6 158px,#fbcaca 172px,#f68a8c 200px,#f47677 218px,#f79c9d 250px,#fbc8c8 274px,#fffefe 296px,#f9f9ff 298px,#b0b0ff 308px,#7070ff 318px,#2626ff 338px,#1b1bff 372px,#2828ff 414px,#6d6dff 448px,#8585ff 460px,#aeaeff 502px,#c1c1ff 548px,#ccccff 604px)"></i>
<i style="top:183px;height:4px;background:linear-gradient(90deg,#1010ff 8px,#1313ff 54px,#1919ff 68px,#5a5aff 90px,#c1c1ff 128px,#ffffff 154px,#fbc5c5 174px,#f68b8c 200px,#f57778 218px,#f79c9d 250px,#fbcbcc 276px,#ffffff 296px,#f8f8ff 298px,#afafff 308px,#6f6fff 318px,#2626ff 338px,#1b1bff 372px,#2828ff 414px,#6868ff 446px,#8585ff 460px,#adadff 502px,#c1c1ff 548px,#ccccff 604px)"></i>
<i style="top:186px;height:4px;background:linear-gradient(90deg,#1111ff 8px,#1313ff 52px,#1c1cff 68px,#5b5bff 90px,#a2a2ff 116px,#d7d7ff 136px,#fffdfd 154px,#fbc5c5 174px,#f68b8c 200px,#f57779 218px,#f79b9c 250px,#fbcbcb 276px,#fefeff 296px,#f7f7ff 298px,#aeaeff 308px,#6f6fff 318px,#2626ff 338px,#1b1bff 372px,#2828ff 414px,#6363ff 444px,#8585ff 460px,#adadff 502px,#c1c1ff 548px,#ccccff 604px)"></i>
<i style="top:189px;height:4px;background:linear-gradient(90deg,#1212ff 8px,#1414ff 52px,#1e1eff 68px,#6262ff 92px,#9f9fff 114px,#d6d6ff 134px,#fdfdff 152px,#fef8f8 156px,#fbc5c5 174px,#f68b8c 200px,#f57879 218px,#f79a9b 250px,#fbcfcf 278px,#fdfdff 296px,#f5f5ff 298px,#aeaeff 308px,#6e6eff 318px,#2626ff 338px,#1b1bff 372px,#2828ff 414px,#6262ff 444px,#8585ff 460px,#aeaeff 504px,#c1c1ff 548px,#ccccff 604px)"></i>
<i style="top:192px;height:4px;background:linear-gradient(90deg,#1212ff 8px,#1515ff 52px,#2020ff 68px,#6464ff 92px,#9b9bff 112px,#d8d8ff 134px,#f9f9ff 150px,#ffffff 152px,#fcd5d5 168px,#f68d8e 198px,#f5797a 218px,#f7999a 250px,#fbcecf 278px,#fffafa 294px,#fdfdff 296px,#f4f4ff 298px,#a0a0ff 310px,#6d6dff 318px,#2626ff 338px,#1b1bff 372px,#2828ff 414px,#6262ff 444px,#8484ff 460px,#adadff 504px,#c1c1ff 546px,#ccccff 604px)"></i>
<i style="top:195px;height:4px;background:linear-gradient(90deg,#1313ff 8px,#1414ff 50px,#2323ff 68px,#6b6bff 94px,#9d9dff 112px,#dadaff 134px,#fffefe 152px,#f9b2b3 182px,#f68b8c 200px,#f5797b 218px,#f7999a 250px,#fbcece 278px,#fffafa 294px,#fcfcff 296px,#f3f3ff 298px,#a0a0ff 310px,#6d6dff 318px,#2626ff 338px,#1b1bff 372px,#2828ff 414px,#5d5dff 442px,#8484ff 460px,#adadff 504px,#c1c1ff 546px,#ccccff 604px)"></i>
<i style="top:198px;height:4px;background:linear-gradient(90deg,#1313ff 8px,#1515ff 50px,#2525ff 68px,#6d6dff 94px,#a0a0ff 112px,#ddddff 134px,#f7f7ff 148px,#fffdfd 152px,#f79b9c 192px,#f68b8c 200px,#f57a7b 218px,#f79899 250px,#fbcdcd 278px,#fffbfb 294px,#fbfbff 296px,#f2f2ff 298px,#9f9fff 310px,#6c6cff 318px,#2626ff 338px,#1b1bff 372px,#2828ff 414px,#5c5cff 442px,#8484ff 460px,#adadff 504px,#c1c1ff 546px,#ccccff 604px)"></i>
<i style="top:201px;height:4px;background:linear-gradient(90deg,#1414ff 8px,#1616ff 50px,#2727ff 68px,#7474ff 96px,#a2a2ff 112px,#dfdfff 134px,#f8f8ff 148px,#fefeff 150px,#fde7e8 160px,#f68d8e 198px,#f57b7c 218px,#f79798 250px,#fbcccd 278px,#fffbfb 294px,#fafaff 296px,#e2e2ff 300px,#8585ff 314px,#6b6bff 318px,#2626ff 338px,#1b1bff 372px,#2828ff 414px,#5b5bff 442px,#8484ff 460px,#acacff 504px,#c1c1ff 546px,#ccccff 604px)"></i>
<i style="top:204px;height:4px;background:linear-gradient(90deg,#1515ff 8px,#1717ff 50px,#2a2aff 68px,#7b7bff 98px,#dfdfff 132px,#fafaff 148px,#ffffff 150px,#f68d8e 198px,#f57b7c 218px,#f79697 250px,#fbcccc 278px,#fffcfc 294px,#f9f9ff 296px,#e1e1ff 300px,#6b6bff 318px,#2626ff 338px,#1b1bff 372px,#2828ff 414px,#5b5bff 442px,#8181ff 458px,#acacff 504px,#c1c1ff 546px,#ccccff 604px)"></i>
<i style="top:207px;height:4px;background:linear-gradient(90deg,#1515ff 8px,#1717ff 50px,#2c2cff 68px,#8282ff 100px,#e1e1ff 132px,#fffefe 150px,#f68d8e 198px,#f57c7d 218px,#f79697 250px,#fbcbcc 278px,#fffcfc 294px,#f8f8ff 296px,#d2d2ff 302px,#6a6aff 318px,#2626ff 338px,#1b1bff 372px,#2828ff 414px,#5555ff 440px,#8181ff 458px,#acacff 504px,#c1c1ff 546px,#ccccff 604px)"></i>
<i style="top:210px;height:4px;background:linear-gradient(90deg,#1616ff 8px,#1818ff 50px,#2e2eff 68px,#9c9cff 108px,#e4e4ff 132px,#fdfdff 148px,#fef8f8 152px,#fcd7d7 166px,#f68d8e 198px,#f57c7e 218px,#f79596 250px,#fbcbcb 278px,#fffdfd 294px,#f7f7ff 296px,#6a6aff 318px,#2626ff 338px,#1b1bff 372px,#2828ff 414px,#5555ff 440px,#8181ff 458px,#ababff 504px,#c0c0ff 544px,#ccccff 604px)"></i>
<i style="top:213px;height:4px;background:linear-gradient(90deg,#1717ff 8px,#1919ff 50px,#3131ff 68px,#9e9eff 108px,#e6e6ff 132px,#fefeff 148px,#fcd7d7 166px,#f68d8e 198px,#f57d7e 218px,#f79495 250px,#fbd1d1 280px,#fffdfd 294px,#ebebff 298px,#6969ff 318px,#2626ff 338px,#1b1bff 372px,#2828ff 414px,#5454ff 440px,#8181ff 458px,#ababff 504px,#c0c0ff 544px,#ccccff 604px)"></i>
<i style="top:216px;height:4px;background:linear-gradient(90deg,#1717ff 8px,#1a1aff 50px,#3333ff 68px,#a0a0ff 108px,#e9e9ff 132px,#ffffff 148px,#fcd6d6 166px,#f68d8e 198px,#f57f80 220px,#f79394 250px,#fbd0d1 280px,#fffdfd 294px,#eaeaff 298px,#6868ff 318px,#2626ff 338px,#1b1bff 372px,#2828ff 414px,#5454ff 440px,#8080ff 458px,#acacff 506px,#c0c0ff 544px,#ccccff 604px)"></i>
<i style="top:219px;height:4px;background:linear-gradient(90deg,#1818ff 8px,#1b1bff 50px,#3535ff 68px,#9b9bff 106px,#ececff 132px,#fffdfd 148px,#fcd8d8 164px,#fbc9ca 172px,#f68d8e 198px,#f57f81 220px,#f68f90 248px,#fbc9ca 278px,#fffefe 294px,#dcdcff 300px,#6868ff 318px,#2626ff 338px,#1b1bff 372px,#2828ff 414px,#5353ff 440px,#8080ff 458px,#acacff 506px,#c0c0ff 544px,#ccccff 604px)"></i>
<i style="top:222px;height:4px;background:linear-gradient(90deg,#1919ff 8px,#1919ff 48px,#3333ff 66px,#9d9dff 106px,#eeeeff 132px,#fffcfc 148px,#fcd7d8 164px,#fbcecf 170px,#f68d8e 198px,#f58081 220px,#f68e8f 248px,#fbc9c9 278px,#fffefe 294px,#6767ff 318px,#2626ff 338px,#1b1bff 372px,#2828ff 414px,#5252ff 440px,#8080ff 458px,#ababff 506px,#c0c0ff 544px,#ccccff 604px)"></i>
<i style="top:225px;height:4px;background:linear-gradient(90deg,#1919ff 8px,#1919ff 48px,#3535ff 66px,#9f9fff 106px,#ebebff 130px,#f3f3ff 134px,#fefeff 146px,#fcd7d7 164px,#fbcecf 170px,#f68d8e 198px,#f58182 220px,#f68d8e 248px,#fbc8c9 278px,#ffffff 294px,#6666ff 318px,#2626ff 338px,#1b1bff 372px,#2828ff 414px,#5252ff 440px,#8080ff 458px,#ababff 506px,#c0c0ff 544px,#ccccff 604px)"></i>
<i style="top:228px;height:4px;background:linear-gradient(90deg,#1b1bff 8px,#1b1bff 48px,#3737ff 66px,#a1a1ff 106px,#e7e7ff 128px,#f2f2ff 132px,#fffefe 146px,#fcd6d6 164px,#fbcdce 170px,#f68d8e 198px,#f58183 220px,#f68e8f 248px,#fbc9c9 278px,#fff9f9 292px,#fdfdff 294px,#6363ff 318px,#2727ff 338px,#1b1bff 372px,#2828ff 414px,#5252ff 440px,#8080ff 458px,#acacff 508px,#c1c1ff 544px,#cdcdff 604px)"></i>
<i style="top:231px;height:4px;background:linear-gradient(90deg,#1d1dff 8px,#1f1fff 48px,#4040ff 68px,#a3a3ff 106px,#ededff 130px,#f7f7ff 136px,#fffefe 144px,#fcd4d5 164px,#fbc8c8 172px,#f68f90 198px,#f58384 220px,#f68f90 248px,#fbcbcc 278px,#fffcfc 292px,#f9f9ff 294px,#5e5eff 318px,#2727ff 338px,#1d1dff 372px,#2929ff 414px,#5353ff 440px,#8080ff 458px,#adadff 508px,#c2c2ff 544px,#ceceff 604px)"></i>
<i style="top:234px;height:4px;background:linear-gradient(90deg,#2020ff 8px,#2323ff 48px,#4343ff 68px,#ababff 108px,#f3f3ff 132px,#fffefe 142px,#fef1f1 150px,#fcd3d4 164px,#fbc7c7 172px,#f68e8f 200px,#f68485 220px,#f79495 250px,#fac0c1 272px,#fcd4d4 280px,#fffefe 292px,#f5f5ff 294px,#8080ff 312px,#5959ff 318px,#2828ff 338px,#1e1eff 372px,#2a2aff 414px,#5454ff 440px,#8080ff 458px,#b0b0ff 512px,#c3c3ff 542px,#cfcfff 604px)"></i>
<i style="top:237px;height:4px;background:linear-gradient(90deg,#2222ff 8px,#2a2aff 50px,#4646ff 68px,#adadff 108px,#e9e9ff 128px,#f7f7ff 134px,#ffffff 140px,#fef4f4 148px,#fcd2d2 164px,#fac1c2 174px,#f68f90 200px,#f68486 218px,#f79394 248px,#f9abac 262px,#fcd6d6 280px,#fdfdff 292px,#8787ff 310px,#5454ff 318px,#2929ff 338px,#1f1fff 372px,#2e2eff 416px,#5a5aff 442px,#8181ff 460px,#b2b2ff 514px,#c4c4ff 542px,#d0d0ff 604px)"></i>
<i style="top:240px;height:4px;background:linear-gradient(90deg,#2525ff 8px,#2e2eff 50px,#4949ff 68px,#aeaeff 108px,#eaeaff 128px,#fafaff 136px,#fffefe 140px,#feeded 150px,#fbcecf 166px,#f79192 200px,#f68687 216px,#f68d8e 236px,#f79798 250px,#f9acad 262px,#fcd8d8 280px,#fef7f7 290px,#fbfbff 292px,#b5b5ff 302px,#4f4fff 318px,#2a2aff 338px,#2020ff 372px,#2e2eff 416px,#5b5bff 442px,#8181ff 460px,#b7b7ff 520px,#c6c6ff 542px,#d2d2ff 604px)"></i>
<i style="top:243px;height:4px;background:linear-gradient(90deg,#2828ff 8px,#3131ff 50px,#4c4cff 68px,#b0b0ff 108px,#e6e6ff 126px,#fbfbff 136px,#fffdfd 140px,#fde3e3 154px,#f79293 200px,#f68889 214px,#f68c8d 232px,#f79b9c 252px,#f8a8a9 260px,#fde0e0 282px,#fff9f9 290px,#f8f8ff 292px,#bdbdff 300px,#4a4aff 318px,#2a2aff 340px,#2222ff 372px,#3131ff 418px,#6161ff 444px,#8181ff 460px,#c0c0ff 530px,#c8c8ff 546px,#d3d3ff 604px)"></i>
<i style="top:246px;height:4px;background:linear-gradient(90deg,#2a2aff 8px,#3535ff 50px,#5454ff 70px,#b8b8ff 110px,#e7e7ff 126px,#ffffff 138px,#fcdddd 156px,#f79192 202px,#f6898a 214px,#f68d8e 232px,#f89fa0 254px,#f8a9aa 260px,#fde8e8 284px,#fffafa 290px,#f5f5ff 292px,#c4c4ff 298px,#4545ff 318px,#2b2bff 340px,#2323ff 372px,#3131ff 418px,#6a6aff 448px,#8181ff 460px,#c8c8ff 538px,#d4d4ff 604px)"></i>
<i style="top:249px;height:4px;background:linear-gradient(90deg,#2d2dff 8px,#3939ff 50px,#5656ff 70px,#babaff 110px,#e9e9ff 126px,#fdfdff 136px,#fffafa 140px,#fbcacb 166px,#f79293 202px,#f68a8c 212px,#f68e8f 232px,#f8a5a6 258px,#fef6f6 288px,#fffcfc 290px,#f3f3ff 292px,#bfbfff 298px,#4040ff 318px,#2b2bff 342px,#2424ff 372px,#3232ff 418px,#7b7bff 456px,#c4c4ff 532px,#cacaff 546px,#d6d6ff 604px)"></i>
<i style="top:252px;height:4px;background:linear-gradient(90deg,#2f2fff 8px,#3d3dff 50px,#5959ff 70px,#bbbbff 110px,#eaeaff 126px,#fefeff 136px,#fcddde 154px,#f79596 200px,#f68c8d 210px,#f68d8e 230px,#f8a5a6 258px,#fffdfd 290px,#dedeff 294px,#babaff 298px,#3b3bff 318px,#2b2bff 346px,#2525ff 372px,#3232ff 418px,#8181ff 460px,#cacaff 540px,#d7d7ff 604px)"></i>
<i style="top:255px;height:4px;background:linear-gradient(90deg,#3232ff 8px,#4040ff 50px,#5c5cff 70px,#bdbdff 110px,#ebebff 126px,#ffffff 136px,#fbcacb 164px,#f68f90 206px,#f68e8f 230px,#f8a6a7 258px,#fffefe 290px,#b5b5ff 298px,#3636ff 318px,#2626ff 370px,#3333ff 418px,#8181ff 460px,#ccccff 540px,#d8d8ff 604px)"></i>
<i style="top:258px;height:4px;background:linear-gradient(90deg,#3434ff 8px,#4444ff 50px,#5f5fff 70px,#bfbfff 110px,#ececff 126px,#fffefe 136px,#fbc9ca 164px,#f68e8f 208px,#f69091 230px,#f8a8a9 258px,#fffbfb 288px,#fdfdff 290px,#b1b1ff 298px,#3434ff 318px,#2727ff 372px,#3333ff 418px,#8181ff 460px,#ccccff 540px,#d9d9ff 604px)"></i>
<i style="top:261px;height:4px;background:linear-gradient(90deg,#3737ff 8px,#4444ff 48px,#6262ff 70px,#bbbbff 108px,#eeeeff 126px,#fefeff 134px,#fbc9c9 164px,#f79596 204px,#f79192 212px,#f79697 232px,#f9abac 258px,#ffffff 288px,#f8f8ff 290px,#afafff 298px,#4e4eff 314px,#3636ff 318px,#2626ff 368px,#3333ff 418px,#8080ff 460px,#cacaff 540px,#d9d9ff 604px)"></i>
<i style="top:264px;height:4px;background:linear-gradient(90deg,#3939ff 8px,#4545ff 46px,#6565ff 70px,#b8b8ff 106px,#f0f0ff 126px,#fffefe 134px,#fbcacb 162px,#f89e9f 198px,#f79394 210px,#f7999a 232px,#f9afaf 258px,#fffbfb 286px,#fbfbff 288px,#f3f3ff 290px,#acacff 298px,#6e6eff 308px,#3939ff 318px,#2e2eff 338px,#2727ff 372px,#3333ff 418px,#7e7eff 460px,#c8c8ff 538px,#d9d9ff 604px)"></i>
<i style="top:267px;height:4px;background:linear-gradient(90deg,#3c3cff 8px,#4646ff 44px,#6868ff 70px,#afafff 102px,#f6f6ff 128px,#ffffff 132px,#fbcccd 160px,#f8a5a6 192px,#f79697 210px,#f79d9e 232px,#f9b2b3 258px,#fef6f6 284px,#fffefe 286px,#eeeeff 290px,#aaaaff 298px,#6d6dff 308px,#3b3bff 318px,#3030ff 332px,#2727ff 372px,#3333ff 418px,#7d7dff 460px,#c2c2ff 532px,#cfcfff 570px,#d9d9ff 604px)"></i>
<i style="top:270px;height:4px;background:linear-gradient(90deg,#3e3eff 8px,#4747ff 42px,#6464ff 66px,#a7a7ff 98px,#f8f8ff 128px,#fffdfd 132px,#fbcece 158px,#f8aaaa 188px,#f7999a 210px,#f8a2a3 234px,#f9b5b6 258px,#fff9f9 284px,#fdfdff 286px,#eaeaff 290px,#a7a7ff 298px,#7474ff 306px,#3d3dff 318px,#3131ff 330px,#2727ff 372px,#3333ff 418px,#7c7cff 460px,#bcbcff 526px,#c8c8ff 548px,#d9d9ff 604px)"></i>
<i style="top:273px;height:4px;background:linear-gradient(90deg,#4141ff 8px,#4747ff 40px,#6767ff 66px,#a9a9ff 98px,#ffffff 130px,#fbd0d0 156px,#f9aeaf 184px,#f79c9c 210px,#f8a6a7 234px,#fab9b9 258px,#fffbfb 284px,#fafaff 286px,#e5e5ff 290px,#a4a4ff 298px,#7171ff 306px,#4040ff 318px,#3131ff 330px,#2727ff 372px,#3333ff 418px,#7878ff 458px,#b5b5ff 518px,#c6c6ff 548px,#d9d9ff 604px)"></i>
<i style="top:276px;height:4px;background:linear-gradient(90deg,#4444ff 8px,#4949ff 40px,#7171ff 70px,#aaaaff 98px,#fdfdff 128px,#fffafa 132px,#fbd1d2 154px,#f9aeaf 184px,#f89e9f 210px,#f9abac 236px,#fabcbd 258px,#fffdfd 284px,#ebebff 288px,#d1d1ff 292px,#9595ff 300px,#6f6fff 306px,#4242ff 318px,#3232ff 330px,#2727ff 372px,#3333ff 418px,#7777ff 458px,#ababff 508px,#c2c2ff 540px,#d9d9ff 604px)"></i>
<i style="top:279px;height:4px;background:linear-gradient(90deg,#4646ff 8px,#4b4bff 40px,#7474ff 70px,#acacff 98px,#ffffff 128px,#fcd2d3 152px,#f9b0b1 182px,#f8a1a2 210px,#f9b0b1 238px,#fabfc0 258px,#ffffff 284px,#ccccff 292px,#9393ff 300px,#6c6cff 306px,#4444ff 318px,#3232ff 330px,#2727ff 372px,#3333ff 418px,#7676ff 458px,#a1a1ff 498px,#b9b9ff 526px,#d9d9ff 604px)"></i>
<i style="top:282px;height:4px;background:linear-gradient(90deg,#4949ff 8px,#4d4dff 40px,#7b7bff 72px,#a9a9ff 96px,#fcfcff 126px,#fffefe 128px,#fbd1d1 152px,#f9b0b1 182px,#f8a4a4 210px,#fab8b9 244px,#fac3c3 258px,#fffafa 282px,#fcfcff 284px,#babaff 294px,#6a6aff 306px,#4343ff 320px,#3333ff 328px,#2727ff 372px,#3333ff 418px,#7272ff 456px,#9b9bff 492px,#b7b7ff 524px,#d9d9ff 604px)"></i>
<i style="top:285px;height:4px;background:linear-gradient(90deg,#4b4bff 8px,#4c4cff 38px,#8181ff 74px,#aaaaff 96px,#fefeff 126px,#fcd2d2 150px,#f9b0b1 182px,#f8a6a7 210px,#fbc6c7 258px,#fffcfc 282px,#f9f9ff 284px,#6767ff 306px,#3333ff 328px,#2727ff 372px,#3333ff 418px,#6e6eff 454px,#9898ff 490px,#b6b6ff 524px,#d9d9ff 604px)"></i>
<i style="top:288px;height:4px;background:linear-gradient(90deg,#5050ff 8px,#5050ff 38px,#8585ff 74px,#adadff 96px,#fffefe 126px,#fbd0d0 150px,#f9b1b2 180px,#f8a8a9 210px,#fbc9c9 258px,#ffffff 282px,#e8e8ff 286px,#7171ff 304px,#6565ff 306px,#3333ff 328px,#2727ff 372px,#3232ff 418px,#6f6fff 456px,#9797ff 490px,#b4b4ff 524px,#d7d7ff 604px)"></i>
<i style="top:291px;height:4px;background:linear-gradient(90deg,#5656ff 8px,#5858ff 40px,#8a8aff 74px,#b2b2ff 96px,#fdfdff 124px,#fbcfcf 150px,#f9b1b2 180px,#f8a9aa 210px,#fbc5c6 252px,#fbcfd0 260px,#fffefe 280px,#fafaff 282px,#d5d5ff 288px,#7a7aff 302px,#6262ff 306px,#3333ff 328px,#2727ff 372px,#3434ff 420px,#7171ff 458px,#9999ff 494px,#b2b2ff 524px,#d5d5ff 604px)"></i>
<i style="top:294px;height:4px;background:linear-gradient(90deg,#5c5cff 8px,#5f5fff 40px,#8888ff 70px,#bbbbff 98px,#fffefe 124px,#fbcece 150px,#f9b1b2 180px,#f9abac 212px,#fac4c5 250px,#fcd2d2 260px,#fffcfc 278px,#fbfbff 280px,#eaeaff 284px,#8181ff 300px,#6060ff 306px,#3333ff 328px,#2727ff 370px,#3232ff 420px,#4f4fff 438px,#7474ff 462px,#9e9eff 502px,#b1b1ff 528px,#d2d2ff 604px)"></i>
<i style="top:297px;height:4px;background:linear-gradient(90deg,#6363ff 8px,#6565ff 40px,#7d7dff 60px,#bbbbff 96px,#fdfdff 122px,#fbcdcd 150px,#f9b1b2 180px,#f9acad 212px,#fbc5c6 250px,#fcd4d4 260px,#fefeff 278px,#e4e4ff 284px,#7d7dff 300px,#5d5dff 306px,#3131ff 330px,#2828ff 360px,#2d2dff 408px,#3131ff 420px,#4141ff 432px,#7171ff 460px,#9e9eff 504px,#b2b2ff 534px,#d0d0ff 604px)"></i>
<i style="top:300px;height:4px;background:linear-gradient(90deg,#6969ff 8px,#6b6bff 40px,#7979ff 54px,#bbbbff 94px,#fffefe 122px,#fbcece 148px,#f9b1b2 180px,#f9adae 212px,#fac4c4 248px,#fcdbdb 262px,#fffdfd 276px,#fbfbff 278px,#dfdfff 284px,#8282ff 298px,#5b5bff 306px,#3131ff 330px,#2a2aff 348px,#2828ff 380px,#2f2fff 420px,#3a3aff 430px,#6f6fff 460px,#9d9dff 506px,#b4b4ff 544px,#cdcdff 604px)"></i>
<i style="top:303px;height:4px;background:linear-gradient(90deg,#7070ff 8px,#7272ff 42px,#7e7eff 54px,#bcbcff 92px,#f3f3ff 116px,#fefeff 120px,#fbcbcb 150px,#f9b1b2 180px,#f9aeaf 214px,#fbc8c8 250px,#fde1e1 264px,#fdfdff 276px,#e4e4ff 282px,#7d7dff 298px,#5858ff 306px,#3131ff 330px,#2a2aff 344px,#2828ff 384px,#2f2fff 422px,#3838ff 430px,#6e6eff 460px,#9e9eff 510px,#b9b9ff 560px,#cbcbff 604px)"></i>
<i style="top:306px;height:4px;background:linear-gradient(90deg,#7676ff 8px,#7979ff 44px,#8686ff 56px,#c0c0ff 92px,#f1f1ff 114px,#fffefe 120px,#fcdcdc 138px,#fbc8c9 152px,#f9b1b2 180px,#f9b0b0 218px,#fbc9c9 250px,#feecec 268px,#fffefe 274px,#f3f3ff 278px,#c6c6ff 286px,#7878ff 298px,#5555ff 306px,#2f2fff 332px,#2929ff 344px,#2828ff 392px,#2e2eff 424px,#3535ff 430px,#6d6dff 460px,#9c9cff 510px,#b6b6ff 558px,#c8c8ff 604px)"></i>
<i style="top:309px;height:4px;background:linear-gradient(90deg,#7c7cff 8px,#7f7fff 46px,#b0b0ff 80px,#e6e6ff 108px,#fefeff 118px,#fcddde 136px,#fbc7c8 152px,#f9b1b2 180px,#f9b0b1 218px,#fbcaca 250px,#fef5f5 270px,#fdfdff 274px,#efefff 278px,#b4b4ff 288px,#7373ff 298px,#5353ff 306px,#2d2dff 334px,#2828ff 346px,#2a2aff 420px,#2e2eff 428px,#6b6bff 460px,#9898ff 508px,#b2b2ff 554px,#c6c6ff 604px)"></i>
<i style="top:312px;height:4px;background:linear-gradient(90deg,#8383ff 8px,#8585ff 48px,#bfbfff 86px,#eeeeff 110px,#fdfdff 116px,#fff9f9 120px,#fcdcdc 136px,#fbc6c7 152px,#f9b2b2 180px,#f9b2b3 220px,#fbcbcb 250px,#fef7f7 270px,#fffdfd 272px,#f3f3ff 276px,#e0e0ff 280px,#6e6eff 298px,#5050ff 306px,#2828ff 338px,#2b2bff 428px,#6a6aff 460px,#9696ff 508px,#afafff 554px,#c3c3ff 604px)"></i>
<i style="top:315px;height:4px;background:linear-gradient(90deg,#8989ff 8px,#8a8aff 48px,#c0c0ff 84px,#ededff 108px,#fffefe 116px,#fcdddd 134px,#fbc5c6 152px,#f9b2b2 180px,#f9b3b4 220px,#fbc7c8 248px,#fff9f9 270px,#fefeff 272px,#e7e7ff 278px,#6969ff 298px,#4e4eff 306px,#2727ff 340px,#2828ff 428px,#6969ff 460px,#9494ff 508px,#acacff 552px,#c1c1ff 604px)"></i>
<i style="top:318px;height:4px;background:linear-gradient(90deg,#8f8fff 8px,#9292ff 50px,#bfbfff 82px,#efefff 108px,#fdfdff 114px,#fff9f9 118px,#fcdcdc 134px,#fbc5c6 152px,#f9b3b3 182px,#f9b4b5 220px,#fbcacb 248px,#fffefe 270px,#e2e2ff 278px,#6464ff 298px,#4c4cff 306px,#2323ff 340px,#2525ff 428px,#6666ff 460px,#9090ff 506px,#aaaaff 552px,#bebeff 604px)"></i>
<i style="top:321px;height:4px;background:linear-gradient(90deg,#9595ff 8px,#9797ff 50px,#b7b7ff 76px,#f0f0ff 108px,#fefeff 114px,#fcd9da 136px,#fbc5c6 154px,#f9b5b6 182px,#fab8b9 222px,#fcd4d4 250px,#fffefe 268px,#dadaff 278px,#6060ff 298px,#4747ff 308px,#1e1eff 338px,#2020ff 422px,#2727ff 430px,#6363ff 460px,#8989ff 498px,#a8a8ff 550px,#bcbcff 604px)"></i>
<i style="top:324px;height:4px;background:linear-gradient(90deg,#9b9bff 8px,#9c9cff 50px,#b5b5ff 74px,#ededff 106px,#fefeff 114px,#fcdada 136px,#fac3c4 158px,#f9b7b8 184px,#fababa 220px,#fbcece 242px,#fcd9d9 250px,#ffffff 266px,#d2d2ff 278px,#5c5cff 298px,#4545ff 308px,#1818ff 338px,#1a1aff 420px,#2424ff 430px,#6161ff 460px,#7d7dff 486px,#a5a5ff 548px,#babaff 604px)"></i>
<i style="top:327px;height:4px;background:linear-gradient(90deg,#a0a0ff 8px,#a3a3ff 52px,#b4b4ff 72px,#e9e9ff 104px,#ffffff 114px,#fcdada 136px,#fac3c4 160px,#fab9ba 188px,#fabbbc 218px,#fbc6c6 232px,#fcdede 250px,#fefeff 264px,#cbcbff 278px,#5959ff 298px,#3f3fff 310px,#1212ff 338px,#1414ff 420px,#2222ff 430px,#5e5eff 460px,#7979ff 482px,#a3a3ff 548px,#b9b9ff 604px)"></i>
<i style="top:330px;height:4px;background:linear-gradient(90deg,#a6a6ff 8px,#a9a9ff 54px,#b2b2ff 70px,#e7e7ff 102px,#ffffff 114px,#fcdadb 136px,#fac4c4 162px,#fab9ba 198px,#fac3c4 228px,#fde3e3 250px,#fefeff 262px,#c3c3ff 278px,#5555ff 298px,#0c0cff 338px,#0c0cff 418px,#2323ff 432px,#5b5bff 460px,#7878ff 482px,#a1a1ff 548px,#b7b7ff 604px)"></i>
<i style="top:333px;height:4px;background:linear-gradient(90deg,#acacff 8px,#afafff 60px,#b4b4ff 70px,#e4e4ff 100px,#fffefe 114px,#fcdbdb 136px,#fbc5c6 162px,#fabcbd 202px,#fbc8c9 230px,#feecec 252px,#fefeff 260px,#bbbbff 278px,#5151ff 298px,#0707ff 338px,#0707ff 418px,#5858ff 460px,#7575ff 480px,#9f9fff 548px,#b5b5ff 604px)"></i>
<i style="top:336px;height:4px;background:linear-gradient(90deg,#b2b2ff 8px,#b2b2ff 68px,#e1e1ff 98px,#fdfdff 112px,#fffafa 116px,#fcdbdb 136px,#fbc6c7 162px,#fabebe 202px,#fbcbcb 230px,#fef1f1 252px,#fffefe 258px,#b4b4ff 278px,#4d4dff 298px,#0101ff 338px,#0101ff 418px,#4a4aff 454px,#7474ff 480px,#9e9eff 550px,#b3b3ff 604px)"></i>
<i style="top:339px;height:4px;background:linear-gradient(90deg,#babaff 8px,#bcbcff 70px,#e6e6ff 100px,#fefeff 114px,#fcdddd 138px,#fbcaca 162px,#fac2c2 202px,#fbcfd0 230px,#fff9f9 254px,#fffdfd 256px,#fcfcff 258px,#a7a7ff 280px,#5050ff 298px,#1515ff 326px,#0000ff 338px,#0000ff 418px,#4c4cff 456px,#7272ff 480px,#9d9dff 552px,#b1b1ff 604px)"></i>
<i style="top:342px;height:4px;background:linear-gradient(90deg,#c2c2ff 8px,#c4c4ff 70px,#e9e9ff 102px,#fffefe 118px,#fde3e3 136px,#fbcccd 164px,#fac4c5 198px,#fbd1d1 228px,#fffdfd 254px,#f8f8ff 258px,#a6a6ff 280px,#4d4dff 300px,#3535ff 308px,#0606ff 334px,#0000ff 340px,#0000ff 418px,#4d4dff 458px,#7171ff 480px,#9e9eff 556px,#afafff 604px)"></i>
<i style="top:345px;height:4px;background:linear-gradient(90deg,#cacaff 8px,#ccccff 70px,#eeeeff 106px,#fffefe 120px,#fde5e5 138px,#fbcfcf 166px,#fbc9c9 188px,#fbcfcf 218px,#fcdcdc 232px,#fdfdff 254px,#ededff 260px,#9c9cff 282px,#3535ff 306px,#0909ff 330px,#0000ff 340px,#0000ff 418px,#5252ff 462px,#6f6fff 480px,#9e9eff 560px,#adadff 604px)"></i>
<i style="top:348px;height:4px;background:linear-gradient(90deg,#d3d3ff 8px,#d5d5ff 72px,#f6f6ff 116px,#ffffff 122px,#fde7e7 140px,#fbd1d2 168px,#fbcccc 184px,#fcd3d3 218px,#fde6e6 236px,#fdfdff 252px,#e9e9ff 260px,#9393ff 284px,#5151ff 300px,#3131ff 306px,#0707ff 330px,#0000ff 342px,#0000ff 418px,#6161ff 472px,#6d6dff 480px,#9e9eff 562px,#ababff 604px)"></i>
<i style="top:351px;height:4px;background:linear-gradient(90deg,#dbdbff 8px,#dedeff 74px,#f3f3ff 118px,#ffffff 124px,#fde2e2 148px,#fbcecf 180px,#fcd9d9 220px,#fef3f3 242px,#fdfdff 250px,#e6e6ff 260px,#8484ff 288px,#5f5fff 298px,#2d2dff 306px,#0404ff 330px,#0000ff 348px,#0000ff 418px,#6a6aff 478px,#9d9dff 564px,#a9a9ff 604px)"></i>
<i style="top:354px;height:4px;background:linear-gradient(90deg,#e4e4ff 8px,#e7e7ff 84px,#eeeeff 118px,#ffffff 126px,#fde0e0 156px,#fbd1d2 180px,#fcdddd 220px,#fffafa 244px,#fdfdff 248px,#e2e2ff 260px,#6363ff 298px,#2929ff 306px,#0202ff 328px,#0000ff 418px,#6969ff 480px,#9c9cff 566px,#a7a7ff 604px)"></i>
<i style="top:357px;height:4px;background:linear-gradient(90deg,#ebebff 8px,#ebebff 118px,#ffffff 128px,#fde3e3 158px,#fcd5d5 180px,#fde1e1 220px,#fffefe 244px,#dfdfff 260px,#6969ff 298px,#2929ff 306px,#0404ff 328px,#0303ff 418px,#6969ff 480px,#9c9cff 566px,#a7a7ff 604px)"></i>
<i style="top:360px;height:4px;background:linear-gradient(90deg,#ececff 8px,#ededff 118px,#ffffff 130px,#fde6e7 164px,#fddfdf 182px,#fde3e4 216px,#fefeff 244px,#e0e0ff 260px,#7878ff 298px,#3b3bff 306px,#1919ff 330px,#1818ff 418px,#7373ff 480px,#a2a2ff 568px,#acacff 604px)"></i>
<i style="top:363px;height:4px;background:linear-gradient(90deg,#eeeeff 8px,#f2f2ff 120px,#fffefe 134px,#fde9e9 180px,#fdebeb 212px,#fde9ea 220px,#ffffff 242px,#e1e1ff 260px,#8787ff 298px,#4d4dff 306px,#2f2fff 330px,#2c2cff 414px,#2f2fff 420px,#7d7dff 480px,#a8a8ff 572px,#b1b1ff 604px)"></i>
<i style="top:366px;height:4px;background:linear-gradient(90deg,#efefff 8px,#f4f4ff 120px,#fffefe 140px,#fef3f3 184px,#fef3f3 210px,#feecec 218px,#ffffff 240px,#dedeff 262px,#9696ff 298px,#5f5fff 306px,#4444ff 332px,#4141ff 366px,#4343ff 420px,#8787ff 480px,#b0b0ff 582px,#b6b6ff 604px)"></i>
<i style="top:369px;height:4px;background:linear-gradient(90deg,#f1f1ff 8px,#f7f7ff 124px,#fffefe 166px,#fffafa 210px,#fef0f0 218px,#fefeff 238px,#dfdfff 262px,#a6a6ff 298px,#7171ff 306px,#5555ff 338px,#5757ff 420px,#9292ff 482px,#bbbbff 604px)"></i>
<i style="top:372px;height:4px;background:linear-gradient(90deg,#f2f2ff 8px,#fafaff 208px,#fffefe 212px,#fef5f5 218px,#fefeff 232px,#e4e4ff 258px,#b2b2ff 298px,#8282ff 306px,#6a6aff 340px,#6c6cff 420px,#9d9dff 482px,#c3c3ff 604px)"></i>
<i style="top:375px;height:4px;background:linear-gradient(90deg,#f0f0ff 8px,#f9f9ff 210px,#fffefe 216px,#fbfbff 228px,#d9d9ff 264px,#b5b5ff 298px,#9191ff 306px,#8181ff 342px,#8282ff 420px,#adadff 486px,#d1d1ff 604px)"></i>
<i style="top:378px;height:4px;background:linear-gradient(90deg,#ededff 8px,#f7f7ff 212px,#fafaff 220px,#bebeff 290px,#b6b6ff 298px,#a1a1ff 306px,#9898ff 350px,#9a9aff 422px,#bebeff 494px,#e0e0ff 604px)"></i>
<i style="top:381px;height:4px;background:linear-gradient(90deg,#ebebff 8px,#f3f3ff 220px,#b2b2ff 304px,#aeaeff 386px,#b1b1ff 424px,#dfdfff 550px,#efefff 604px)"></i>
<i style="top:384px;height:4px;background:linear-gradient(90deg,#eaeaff 8px,#f1f1ff 220px,#bcbcff 310px,#c2c2ff 424px,#ebebff 548px,#f9f9ff 604px)"></i>
<i style="top:387px;height:4px;background:linear-gradient(90deg,#e9e9ff 8px,#f2f2ff 220px,#c8c8ff 310px,#d0d0ff 422px,#f1f1ff 528px,#fffefe 604px)"></i>
<i style="top:390px;height:4px;background:linear-gradient(90deg,#e8e8ff 8px,#f3f3ff 204px,#f0f0ff 228px,#d4d4ff 314px,#dedeff 418px,#fcfcff 518px,#fffdfd 556px,#fef7f7 604px)"></i>
<i style="top:393px;height:4px;background:linear-gradient(90deg,#e7e7ff 8px,#f3f3ff 170px,#f1f1ff 230px,#e0e0ff 320px,#ededff 412px,#fffefe 480px,#fef4f4 560px,#fef1f1 604px)"></i>
<i style="top:396px;height:4px;background:linear-gradient(90deg,#e6e6ff 8px,#f3f3ff 156px,#f2f2ff 246px,#ededff 330px,#fafaff 404px,#fffefe 430px,#feeded 512px,#fdeaea 604px)"></i>
<i style="top:399px;height:4px;background:linear-gradient(90deg,#e5e5ff 8px,#f3f3ff 154px,#f2f2ff 258px,#efefff 332px,#fcfcff 404px,#fffdfd 424px,#fdebeb 510px,#fde9e9 604px)"></i>
<i style="top:402px;height:4px;background:linear-gradient(90deg,#e5e5ff 8px,#f3f3ff 152px,#f2f2ff 256px,#efefff 332px,#fcfcff 404px,#fffdfd 424px,#fdebeb 510px,#fde9e9 604px)"></i>
<i style="top:405px;height:4px;background:linear-gradient(90deg,#e5e5ff 8px,#f3f3ff 152px,#f2f2ff 258px,#efefff 332px,#fdfdff 406px,#fffcfc 426px,#fdebeb 510px,#fde9e9 604px)"></i>
<i style="top:408px;height:4px;background:linear-gradient(90deg,#e5e5ff 8px,#f3f3ff 152px,#f2f2ff 258px,#efefff 332px,#fdfdff 406px,#fffcfc 428px,#fdebeb 510px,#fde9e9 604px)"></i>
<i style="top:411px;height:4px;background:linear-gradient(90deg,#e5e5ff 8px,#f3f3ff 150px,#f2f2ff 258px,#efefff 332px,#fefeff 408px,#fdebeb 512px,#fde9e9 604px)"></i>
<i style="top:414px;height:4px;background:linear-gradient(90deg,#e5e5ff 8px,#f3f3ff 150px,#f2f2ff 258px,#efefff 332px,#fefeff 408px,#fdebeb 512px,#fde9e9 604px)"></i>
<i style="top:417px;height:4px;background:linear-gradient(90deg,#e5e5ff 8px,#f3f3ff 150px,#f2f2ff 258px,#f0f0ff 332px,#fefeff 408px,#fdebeb 512px,#fde9e9 604px)"></i>
<i style="top:420px;height:4px;background:linear-gradient(90deg,#e4e4ff 8px,#f3f3ff 150px,#f2f2ff 258px,#f0f0ff 332px,#fefeff 410px,#fdebeb 512px,#fde9e9 604px)"></i>
<i style="top:423px;height:4px;background:linear-gradient(90deg,#e4e4ff 8px,#f3f3ff 148px,#f2f2ff 258px,#f0f0ff 332px,#fffefe 418px,#fdebeb 512px,#fde9e9 604px)"></i>
<i style="top:426px;height:4px;background:linear-gradient(90deg,#e4e4ff 8px,#f3f3ff 148px,#f2f2ff 260px,#f0f0ff 332px,#fffdfd 418px,#fdebeb 512px,#fde9e9 604px)"></i>
<i style="top:429px;height:4px;background:linear-gradient(90deg,#e4e4ff 8px,#f3f3ff 148px,#f2f2ff 260px,#f0f0ff 332px,#fffefe 416px,#fdebeb 512px,#fde9e9 604px)"></i>
<i style="top:432px;height:4px;background:linear-gradient(90deg,#e4e4ff 8px,#f3f3ff 148px,#f2f2ff 260px,#f0f0ff 332px,#fffefe 416px,#fdebeb 512px,#fde9e9 604px)"></i>
<i style="top:435px;height:4px;background:linear-gradient(90deg,#e4e4ff 8px,#f3f3ff 146px,#f2f2ff 260px,#f0f0ff 332px,#fffefe 416px,#fdebeb 512px,#fde9e9 604px)"></i>
<i style="top:438px;height:4px;background:linear-gradient(90deg,#e4e4ff 8px,#f3f3ff 146px,#f2f2ff 260px,#f0f0ff 332px,#fffefe 416px,#fdebeb 512px,#fde9e9 604px)"></i>
<i style="top:441px;height:4px;background:linear-gradient(90deg,#e3e3ff 8px,#f3f3ff 146px,#f2f2ff 260px,#f0f0ff 332px,#fffefe 416px,#fdebeb 512px,#fde9e9 604px)"></i>
<i style="top:444px;height:4px;background:linear-gradient(90deg,#e3e3ff 8px,#f3f3ff 146px,#f2f2ff 262px,#f0f0ff 332px,#fffefe 414px,#fdebeb 512px,#fde9e9 604px)"></i>
<i style="top:447px;height:4px;background:linear-gradient(90deg,#e3e3ff 8px,#f3f3ff 146px,#f2f2ff 262px,#f0f0ff 332px,#fffefe 414px,#fdebeb 512px,#fde9e9 604px)"></i>
<i style="top:450px;height:4px;background:linear-gradient(90deg,#e3e3ff 8px,#f3f3ff 144px,#f2f2ff 262px,#f0f0ff 332px,#fffefe 414px,#fdebeb 512px,#fde9e9 604px)"></i>
<i style="top:453px;height:4px;background:linear-gradient(90deg,#e3e3ff 8px,#f3f3ff 144px,#f2f2ff 262px,#f1f1ff 332px,#fffefe 414px,#fdebeb 512px,#fde9e9 604px)"></i>
<i style="top:456px;height:4px;background:linear-gradient(90deg,#e3e3ff 8px,#f3f3ff 144px,#f2f2ff 262px,#f1f1ff 332px,#fffefe 414px,#fdebeb 512px,#fde9e9 604px)"></i>
<i style="top:459px;height:4px;background:linear-gradient(90deg,#e3e3ff 8px,#f3f3ff 144px,#f2f2ff 264px,#f1f1ff 332px,#fffefe 412px,#fdebeb 512px,#fde9e9 604px)"></i>
<i style="top:462px;height:4px;background:linear-gradient(90deg,#e2e2ff 8px,#f3f3ff 144px,#f2f2ff 264px,#f1f1ff 332px,#fffefe 412px,#fdebeb 512px,#fde9e9 604px)"></i>
<i style="top:465px;height:4px;background:linear-gradient(90deg,#e2e2ff 8px,#f3f3ff 142px,#f2f2ff 264px,#f1f1ff 332px,#fffefe 412px,#fdebeb 512px,#fde9e9 604px)"></i>
<i style="top:468px;height:4px;background:linear-gradient(90deg,#e2e2ff 8px,#f3f3ff 142px,#f2f2ff 264px,#f1f1ff 332px,#fffefe 412px,#fdebeb 512px,#fde9e9 604px)"></i>
<i style="top:471px;height:4px;background:linear-gradient(90deg,#e2e2ff 8px,#f3f3ff 142px,#f2f2ff 266px,#f1f1ff 332px,#fffefe 412px,#fdebeb 512px,#fde9e9 604px)"></i>
<i style="top:474px;height:4px;background:linear-gradient(90deg,#e2e2ff 8px,#f3f3ff 142px,#f2f2ff 266px,#f1f1ff 332px,#fffefe 410px,#fdebeb 512px,#fde9e9 604px)"></i>
<i style="top:477px;height:4px;background:linear-gradient(90deg,#e2e2ff 8px,#f3f3ff 142px,#f2f2ff 266px,#f1f1ff 332px,#fffefe 410px,#fdebeb 512px,#fde9e9 604px)"></i>
<i style="top:480px;height:4px;background:linear-gradient(90deg,#e2e2ff 8px,#f3f3ff 142px,#f2f2ff 268px,#f1f1ff 332px,#fffefe 410px,#fdebeb 512px,#fde9e9 604px)"></i>
<i style="top:483px;height:4px;background:linear-gradient(90deg,#e1e1ff 8px,#f3f3ff 142px,#f2f2ff 268px,#f1f1ff 332px,#fffefe 410px,#fdebeb 512px,#fde9e9 604px)"></i>
<i style="top:486px;height:4px;background:linear-gradient(90deg,#e1e1ff 8px,#f3f3ff 140px,#f2f2ff 268px,#f1f1ff 332px,#fffefe 410px,#fdebeb 512px,#fde9e9 604px)"></i>
<i style="top:489px;height:4px;background:linear-gradient(90deg,#e1e1ff 8px,#f3f3ff 140px,#f2f2ff 268px,#f2f2ff 332px,#fffefe 408px,#fdebeb 512px,#fde9e9 604px)"></i>
<i style="top:492px;height:4px;background:linear-gradient(90deg,#e1e1ff 8px,#f3f3ff 140px,#f2f2ff 270px,#f2f2ff 332px,#fffefe 408px,#fdebeb 512px,#fde9e9 604px)"></i>
<i style="top:495px;height:4px;background:linear-gradient(90deg,#e1e1ff 8px,#f3f3ff 140px,#f2f2ff 270px,#f2f2ff 332px,#fffefe 408px,#fdebeb 512px,#fde9e9 604px)"></i>
<i style="top:498px;height:4px;background:linear-gradient(90deg,#e1e1ff 8px,#f3f3ff 140px,#f2f2ff 270px,#f2f2ff 332px,#fffefe 408px,#fdebeb 512px,#fde9e9 604px)"></i>
<i style="top:501px;height:4px;background:linear-gradient(90deg,#e1e1ff 8px,#f3f3ff 140px,#f2f2ff 272px,#f2f2ff 332px,#fffefe 406px,#fdebeb 514px,#fde9e9 604px)"></i>
<i style="top:504px;height:4px;background:linear-gradient(90deg,#e1e1ff 8px,#f3f3ff 140px,#f2f2ff 272px,#f2f2ff 332px,#fffefe 406px,#fdebeb 514px,#fde9e9 604px)"></i>
<i style="top:507px;height:4px;background:linear-gradient(90deg,#e0e0ff 8px,#f3f3ff 138px,#f2f2ff 272px,#f2f2ff 332px,#fffefe 406px,#fdebeb 514px,#fde9e9 604px)"></i>
<i style="top:510px;height:4px;background:linear-gradient(90deg,#e0e0ff 8px,#f3f3ff 138px,#f2f2ff 272px,#f2f2ff 332px,#fffefe 406px,#fdebeb 514px,#fde9e9 604px)"></i>
<i style="top:513px;height:3px;background:linear-gradient(90deg,#e0e0ff 8px,#f3f3ff 138px,#f2f2ff 272px,#f2f2ff 332px,#fffefe 406px,#fdebeb 514px,#fde9e9 604px)"></i>
</div></div>
<svg width="1500" height="1255" viewBox="0 0 1500 1255" font-family='"Liberation Sans", sans-serif'>
<rect x="401.0" y="6.0" width="8.0" height="19.5" fill="rgba(110,100,100,0.6)"/>
<rect x="401.0" y="50.2" width="8.0" height="32.7" fill="rgba(110,100,100,0.6)"/>
<rect x="401.0" y="107.6" width="8.0" height="32.6" fill="rgba(110,100,100,0.6)"/>
<rect x="401.0" y="165.0" width="8.0" height="32.6" fill="rgba(110,100,100,0.6)"/>
<rect x="401.0" y="222.3" width="8.0" height="32.7" fill="rgba(110,100,100,0.6)"/>
<rect x="401.0" y="279.8" width="8.0" height="32.6" fill="rgba(110,100,100,0.6)"/>
<rect x="401.0" y="337.2" width="8.0" height="32.6" fill="rgba(110,100,100,0.6)"/>
<rect x="1178.4" y="28.0" width="7.3" height="29.4" fill="rgba(110,110,130,0.6)"/>
<rect x="1178.4" y="79.3" width="7.3" height="29.4" fill="rgba(110,110,130,0.6)"/>
<rect x="1178.4" y="130.7" width="7.3" height="29.3" fill="rgba(110,110,130,0.6)"/>
<rect x="1178.4" y="182.0" width="7.3" height="29.4" fill="rgba(110,110,130,0.6)"/>
<rect x="1178.4" y="233.4" width="7.3" height="29.3" fill="rgba(110,110,130,0.6)"/>
<rect x="1178.4" y="284.7" width="7.3" height="28.9" fill="rgba(110,110,130,0.6)"/>
<rect x="1178.4" y="336.0" width="7.3" height="15.6" fill="rgba(110,110,130,0.6)"/>
<rect x="108.5" y="0.0" width="591.5" height="5.6" fill="#000"/>
<rect x="108.5" y="492.9" width="591.5" height="5.6" fill="#000"/>
<rect x="108.5" y="0.0" width="5.6" height="498.5" fill="#000"/>
<rect x="694.4" y="0.0" width="5.6" height="498.5" fill="#000"/>
<rect x="890.2" y="0.0" width="594.2" height="5.6" fill="#000"/>
<rect x="890.2" y="492.9" width="594.2" height="5.6" fill="#000"/>
<rect x="890.2" y="0.0" width="5.6" height="498.5" fill="#000"/>
<rect x="1478.8" y="0.0" width="5.6" height="498.5" fill="#000"/>
<rect x="108.5" y="0.0" width="591.5" height="1.2" fill="#555"/>
<rect x="890.2" y="0.0" width="594.2" height="1.2" fill="#555"/>
<rect x="113.0" y="28.2" width="4.8" height="5.2" fill="#000"/>
<rect x="113.0" y="142.9" width="4.8" height="5.2" fill="#000"/>
<rect x="113.0" y="256.3" width="4.8" height="5.2" fill="#000"/>
<rect x="113.0" y="368.5" width="4.8" height="5.2" fill="#000"/>
<rect x="171.9" y="488.5" width="5.2" height="4.5" fill="#000"/>
<rect x="287.7" y="488.5" width="5.2" height="4.5" fill="#000"/>
<rect x="403.4" y="488.5" width="5.2" height="4.5" fill="#000"/>
<rect x="519.1" y="488.5" width="5.2" height="4.5" fill="#000"/>
<rect x="634.8" y="488.5" width="5.2" height="4.5" fill="#000"/>
<rect x="895.0" y="20.4" width="4.8" height="5.2" fill="#000"/>
<rect x="895.0" y="133.6" width="4.8" height="5.2" fill="#000"/>
<rect x="895.0" y="246.9" width="4.8" height="5.2" fill="#000"/>
<rect x="895.0" y="360.4" width="4.8" height="5.2" fill="#000"/>
<rect x="949.7" y="488.5" width="5.2" height="4.5" fill="#000"/>
<rect x="1065.4" y="488.5" width="5.2" height="4.5" fill="#000"/>
<rect x="1181.2" y="488.5" width="5.2" height="4.5" fill="#000"/>
<rect x="1297.0" y="488.5" width="5.2" height="4.5" fill="#000"/>
<rect x="1412.7" y="488.5" width="5.2" height="4.5" fill="#000"/>
<circle cx="1182.4" cy="24.7" r="9.6" fill="#008000"/>
<circle cx="1182.4" cy="137.3" r="9.6" fill="#4cbbff"/>
<circle cx="1182.4" cy="249" r="9.6" fill="#5a74ff"/>
<circle cx="1182.4" cy="360.7" r="9.6" fill="#ff44aa"/>
<defs><linearGradient id="cb" x1="0" y1="0" x2="0" y2="1"><stop offset="0" stop-color="rgb(238,34,36)"/><stop offset="0.5" stop-color="#fff"/><stop offset="1" stop-color="#0000ff"/></linearGradient></defs>
<rect x="705.6" y="72.2" width="23.6" height="371.6" fill="url(#cb)" stroke="#222" stroke-width="1.6"/>
<text x="734.8" y="88.5" font-size="33" fill="#000">5</text>
<text x="731.6" y="273.0" font-size="33" fill="#000">0</text>
<text x="729.4" y="457.8" font-size="33" fill="#000">-5</text>
<text transform="translate(761.1,234.4) rotate(90)" font-size="33">PC<tspan font-size="21" dy="6.8">2</tspan><tspan dy="-6.8"> (nA)</tspan></text>
<text x="-0.7" y="32.1" font-size="33" font-weight="bold" fill="#000">a</text>
<text x="794.8" y="32.2" font-size="33" font-weight="bold" fill="#000">b</text>
<text x="-0.6" y="582.5" font-size="33" font-weight="bold" fill="#000">c</text>
<text x="47.5" y="41.0" font-size="33" fill="#000">1.5</text>
<text x="47.7" y="153.8" font-size="33" fill="#000">1.0</text>
<text x="47.7" y="265.6" font-size="33" fill="#000">0.5</text>
<text x="58.9" y="379.2" font-size="33" fill="#000">0</text>
<text x="840.5" y="39.2" font-size="33" fill="#000">1.5</text>
<text x="840.3" y="151.8" font-size="33" fill="#000">1.0</text>
<text x="840.3" y="264.6" font-size="33" fill="#000">0.5</text>
<text x="851.9" y="377.9" font-size="33" fill="#000">0</text>
<text x="162.9" y="534.0" font-size="33" fill="#000">-2</text>
<text x="279.5" y="534.0" font-size="33" fill="#000">-1</text>
<text x="403.8" y="533.8" font-size="33" fill="#000">0</text>
<text x="520.2" y="534.0" font-size="33" fill="#000">1</text>
<text x="635.0" y="534.0" font-size="33" fill="#000">2</text>
<text x="940.1" y="533.0" font-size="33" fill="#000">-2</text>
<text x="1056.1" y="533.0" font-size="33" fill="#000">-1</text>
<text x="1179.8" y="532.8" font-size="33" fill="#000">0</text>
<text x="1297.2" y="533.0" font-size="33" fill="#000">1</text>
<text x="1412.0" y="533.0" font-size="33" fill="#000">2</text>
<text x="280.8" y="567.0" font-size="33" fill="#000">direct current (mA)</text>
<text x="1064.8" y="566.7" font-size="33" fill="#000">direct current (mA)</text>
<text transform="translate(35,403.2) rotate(-90)" font-size="33">scanner position (μm)</text>
<text transform="translate(833.9,403.2) rotate(-90)" font-size="33">scanner position (μm)</text>
<text x="373.4" y="452.2" font-size="33" fill="#000">Drain</text>
<text x="1150.8" y="455.0" font-size="33" fill="#000">Drain</text>
<defs>
<linearGradient id="sRdn" x1="0" y1="0" x2="0" y2="1"><stop offset="0" stop-color="#ff1010"/><stop offset="0.35" stop-color="#d80000"/><stop offset="0.7" stop-color="#e88a8a"/><stop offset="1" stop-color="#ffffff"/></linearGradient>
<linearGradient id="sRup" x1="0" y1="0" x2="0" y2="1"><stop offset="0" stop-color="#fff4f4"/><stop offset="0.3" stop-color="#e87070"/><stop offset="0.65" stop-color="#d40000"/><stop offset="1" stop-color="#ff2020"/></linearGradient>
<linearGradient id="sBup" x1="0" y1="0" x2="0" y2="1"><stop offset="0" stop-color="#eef2ff"/><stop offset="0.3" stop-color="#6a85dd"/><stop offset="0.7" stop-color="#2440c8"/><stop offset="1" stop-color="#5aa0ee"/></linearGradient>
<linearGradient id="sBdn" x1="0" y1="0" x2="0" y2="1"><stop offset="0" stop-color="#3a6fd0"/><stop offset="0.25" stop-color="#2040c8"/><stop offset="0.65" stop-color="#8aa0e0"/><stop offset="1" stop-color="#ffffff"/></linearGradient>
<filter id="glow" x="-50%" y="-50%" width="200%" height="200%"><feGaussianBlur stdDeviation="3.5"/></filter>
<filter id="pglow" x="-30%" y="-60%" width="160%" height="220%"><feGaussianBlur stdDeviation="1.6"/></filter>
</defs>
<ellipse cx="242.5" cy="230.2" rx="12.5" ry="12" fill="#fff" filter="url(#glow)"/>
<ellipse cx="242.5" cy="236.2" rx="9" ry="8" fill="#fff" filter="url(#glow)"/>
<circle cx="242.5" cy="223.2" r="11.3" fill="url(#sRdn)"/>
<ellipse cx="227.4" cy="257.1" rx="12.5" ry="12" fill="#fff" filter="url(#glow)"/>
<ellipse cx="227.4" cy="263.1" rx="9" ry="8" fill="#fff" filter="url(#glow)"/>
<circle cx="227.4" cy="250.1" r="11.3" fill="url(#sRdn)"/>
<ellipse cx="261.6" cy="256.6" rx="12.5" ry="12" fill="#fff" filter="url(#glow)"/>
<ellipse cx="261.6" cy="262.6" rx="9" ry="8" fill="#fff" filter="url(#glow)"/>
<circle cx="261.6" cy="249.6" r="11.3" fill="url(#sRdn)"/>
<ellipse cx="534.1" cy="209" rx="12.5" ry="12" fill="#fff" filter="url(#glow)"/>
<circle cx="534.1" cy="215" r="11.3" fill="url(#sRup)"/>
<ellipse cx="567.8" cy="207.7" rx="12.5" ry="12" fill="#fff" filter="url(#glow)"/>
<circle cx="567.8" cy="213.7" r="11.3" fill="url(#sRup)"/>
<ellipse cx="553.4" cy="235.3" rx="12.5" ry="12" fill="#fff" filter="url(#glow)"/>
<circle cx="553.4" cy="241.3" r="11.3" fill="url(#sRup)"/>
<ellipse cx="1012.3" cy="215.2" rx="12.5" ry="12" fill="#fff" filter="url(#glow)"/>
<circle cx="1012.3" cy="220.2" r="11.3" fill="url(#sBup)"/>
<ellipse cx="1046.1" cy="214.8" rx="12.5" ry="12" fill="#fff" filter="url(#glow)"/>
<circle cx="1046.1" cy="219.8" r="11.3" fill="url(#sBup)"/>
<ellipse cx="1031.6" cy="242" rx="12.5" ry="12" fill="#fff" filter="url(#glow)"/>
<circle cx="1031.6" cy="247" r="11.3" fill="url(#sBup)"/>
<ellipse cx="1355.5" cy="239.7" rx="12.5" ry="12" fill="#fff" filter="url(#glow)"/>
<ellipse cx="1355.5" cy="245.7" rx="9" ry="8" fill="#fff" filter="url(#glow)"/>
<circle cx="1355.5" cy="232.7" r="11.3" fill="url(#sBdn)"/>
<ellipse cx="1340.6" cy="267.3" rx="12.5" ry="12" fill="#fff" filter="url(#glow)"/>
<ellipse cx="1340.6" cy="273.3" rx="9" ry="8" fill="#fff" filter="url(#glow)"/>
<circle cx="1340.6" cy="260.3" r="11.3" fill="url(#sBdn)"/>
<ellipse cx="1374.3" cy="266" rx="12.5" ry="12" fill="#fff" filter="url(#glow)"/>
<ellipse cx="1374.3" cy="272" rx="9" ry="8" fill="#fff" filter="url(#glow)"/>
<circle cx="1374.3" cy="259" r="11.3" fill="url(#sBdn)"/>
<rect x="240.1" y="188.5" width="5" height="23.5" fill="#000"/>
<polygon points="234.3,188.5 250.9,188.5 242.6,173.0" fill="#000"/>
<rect x="550.9" y="252.0" width="5" height="25.9" fill="#000"/>
<polygon points="545.1,277.9 561.7,277.9 553.4,293.4" fill="#000"/>
<rect x="1028.9" y="257.5" width="5" height="21.7" fill="#000"/>
<polygon points="1023.1,279.2 1039.7,279.2 1031.4,294.7" fill="#000"/>
<rect x="1353.9" y="195.1" width="5" height="26.2" fill="#000"/>
<polygon points="1348.1,195.1 1364.7,195.1 1356.4,179.6" fill="#000"/>
<text x="262.8" y="216.8" font-size="32">h<tspan font-size="21" dx="1" dy="-10">+</tspan></text>
<text x="584.9" y="280.7" font-size="32">h<tspan font-size="21" dx="1" dy="-10">+</tspan></text>
<text x="1058.8" y="279.8" font-size="32">e<tspan font-size="21" dx="2" dy="-9">-</tspan></text>
<text x="1380.5" y="218.2" font-size="32">e<tspan font-size="21" dx="2" dy="-9">-</tspan></text>
<rect x="105.0" y="588.2" width="1378.3" height="3.0" fill="#000"/>
<rect x="105.0" y="1176.0" width="1378.3" height="3.0" fill="#000"/>
<rect x="105.0" y="588.2" width="3.0" height="590.8" fill="#000"/>
<rect x="1480.3" y="588.2" width="3.0" height="590.8" fill="#000"/>
<rect x="108.0" y="694.5" width="6.5" height="3.0" fill="#000"/>
<rect x="108.0" y="802.1" width="6.5" height="3.0" fill="#000"/>
<rect x="108.0" y="908.5" width="6.5" height="3.0" fill="#000"/>
<rect x="108.0" y="1015.0" width="6.5" height="3.0" fill="#000"/>
<rect x="108.0" y="1122.1" width="6.5" height="3.0" fill="#000"/>
<rect x="282.8" y="1170.0" width="2.5" height="6.0" fill="#000"/>
<rect x="537.8" y="1170.0" width="2.5" height="6.0" fill="#000"/>
<rect x="792.8" y="1170.0" width="2.5" height="6.0" fill="#000"/>
<rect x="1047.8" y="1170.0" width="2.5" height="6.0" fill="#000"/>
<rect x="1302.8" y="1170.0" width="2.5" height="6.0" fill="#000"/>
<rect x="155.5" y="1173.0" width="2.0" height="3.0" fill="#000"/>
<rect x="410.5" y="1173.0" width="2.0" height="3.0" fill="#000"/>
<rect x="665.5" y="1173.0" width="2.0" height="3.0" fill="#000"/>
<rect x="920.5" y="1173.0" width="2.0" height="3.0" fill="#000"/>
<rect x="1175.5" y="1173.0" width="2.0" height="3.0" fill="#000"/>
<rect x="1430.5" y="1173.0" width="2.0" height="3.0" fill="#000"/>
<rect x="1498.8" y="583.0" width="1.2" height="608.0" fill="#c8c8c8"/>
<text x="40.5" y="597.0" font-size="33" fill="#000">4.0</text>
<text x="40.2" y="706.5" font-size="33" fill="#000">2.0</text>
<text x="59.0" y="814.0" font-size="33" fill="#000">0</text>
<text x="30.6" y="922.0" font-size="33" fill="#000">-2.0</text>
<text x="33.2" y="1030.8" font-size="33" fill="#000">-4.0</text>
<text x="35.1" y="1139.0" font-size="33" fill="#000">-6.0</text>
<text x="266.9" y="1209.2" font-size="33" fill="#000">-2</text>
<text x="526.5" y="1209.2" font-size="33" fill="#000">-1</text>
<text x="793.8" y="1209.0" font-size="33" fill="#000">0</text>
<text x="1046.5" y="1209.2" font-size="33" fill="#000">1</text>
<text x="1301.0" y="1209.2" font-size="33" fill="#000">2</text>
<text x="675.5" y="1248.8" font-size="33" fill="#000">direct current (mA)</text>
<text transform="translate(35,894.2) rotate(-90)" font-size="33">PC<tspan font-size="21" dy="6.8">2</tspan><tspan dy="-6.8"> (nA)</tspan></text>
<g fill="#ff44aa"><circle cx="156.5" cy="826.1" r="8.7"/><circle cx="164.0" cy="823.2" r="8.7"/><circle cx="171.5" cy="818.5" r="8.7"/><circle cx="179.0" cy="822.9" r="8.7"/><circle cx="186.5" cy="825.1" r="8.7"/><circle cx="194.0" cy="823.7" r="8.7"/><circle cx="201.5" cy="820.7" r="8.7"/><circle cx="209.0" cy="821.2" r="8.7"/><circle cx="216.5" cy="825.3" r="8.7"/><circle cx="224.0" cy="827.2" r="8.7"/><circle cx="231.5" cy="826.1" r="8.7"/><circle cx="239.0" cy="819.8" r="8.7"/><circle cx="246.5" cy="823.3" r="8.7"/><circle cx="254.0" cy="826.2" r="8.7"/><circle cx="261.5" cy="810.2" r="8.7"/><circle cx="269.0" cy="809.5" r="8.7"/><circle cx="276.5" cy="816.0" r="8.7"/><circle cx="284.0" cy="825.2" r="8.7"/><circle cx="291.5" cy="819.1" r="8.7"/><circle cx="299.0" cy="818.2" r="8.7"/><circle cx="306.5" cy="824.6" r="8.7"/><circle cx="314.0" cy="821.0" r="8.7"/><circle cx="321.5" cy="817.9" r="8.7"/><circle cx="329.0" cy="809.8" r="8.7"/><circle cx="336.5" cy="806.3" r="8.7"/><circle cx="344.0" cy="803.8" r="8.7"/><circle cx="351.5" cy="796.5" r="8.7"/><circle cx="359.0" cy="806.9" r="8.7"/><circle cx="366.5" cy="802.6" r="8.7"/><circle cx="374.0" cy="799.7" r="8.7"/><circle cx="381.5" cy="801.9" r="8.7"/><circle cx="389.0" cy="803.2" r="8.7"/><circle cx="396.5" cy="792.0" r="8.7"/><circle cx="404.0" cy="792.2" r="8.7"/><circle cx="411.5" cy="789.4" r="8.7"/><circle cx="419.0" cy="787.5" r="8.7"/><circle cx="426.5" cy="784.5" r="8.7"/><circle cx="434.0" cy="778.1" r="8.7"/><circle cx="441.5" cy="775.3" r="8.7"/><circle cx="449.0" cy="775.9" r="8.7"/><circle cx="456.5" cy="783.4" r="8.7"/><circle cx="464.0" cy="780.0" r="8.7"/><circle cx="471.5" cy="779.0" r="8.7"/><circle cx="479.0" cy="777.7" r="8.7"/><circle cx="486.5" cy="776.4" r="8.7"/><circle cx="494.0" cy="774.0" r="8.7"/><circle cx="501.5" cy="775.6" r="8.7"/><circle cx="509.0" cy="771.4" r="8.7"/><circle cx="516.5" cy="768.1" r="8.7"/><circle cx="524.0" cy="760.9" r="8.7"/><circle cx="531.5" cy="766.5" r="8.7"/><circle cx="539.0" cy="773.3" r="8.7"/><circle cx="546.5" cy="768.6" r="8.7"/><circle cx="554.0" cy="758.1" r="8.7"/><circle cx="561.5" cy="754.5" r="8.7"/><circle cx="569.0" cy="759.1" r="8.7"/><circle cx="576.5" cy="770.5" r="8.7"/><circle cx="584.0" cy="765.1" r="8.7"/><circle cx="591.5" cy="766.6" r="8.7"/><circle cx="599.0" cy="772.1" r="8.7"/><circle cx="606.5" cy="779.3" r="8.7"/><circle cx="614.0" cy="780.3" r="8.7"/><circle cx="621.5" cy="773.5" r="8.7"/><circle cx="629.0" cy="776.8" r="8.7"/><circle cx="636.5" cy="780.9" r="8.7"/><circle cx="644.0" cy="783.1" r="8.7"/><circle cx="651.5" cy="791.5" r="8.7"/><circle cx="659.0" cy="804.2" r="8.7"/><circle cx="666.5" cy="806.8" r="8.7"/><circle cx="674.0" cy="808.1" r="8.7"/><circle cx="681.5" cy="821.3" r="8.7"/><circle cx="689.0" cy="831.3" r="8.7"/><circle cx="696.5" cy="841.7" r="8.7"/><circle cx="704.0" cy="846.2" r="8.7"/><circle cx="711.5" cy="851.3" r="8.7"/><circle cx="719.0" cy="854.5" r="8.7"/><circle cx="726.5" cy="861.3" r="8.7"/><circle cx="734.0" cy="868.6" r="8.7"/><circle cx="741.5" cy="871.8" r="8.7"/><circle cx="749.0" cy="884.3" r="8.7"/><circle cx="756.5" cy="890.6" r="8.7"/><circle cx="764.0" cy="895.4" r="8.7"/><circle cx="771.5" cy="901.5" r="8.7"/><circle cx="779.0" cy="907.5" r="8.7"/><circle cx="786.5" cy="915.8" r="8.7"/><circle cx="794.0" cy="930.4" r="8.7"/><circle cx="801.5" cy="935.6" r="8.7"/><circle cx="809.0" cy="941.6" r="8.7"/><circle cx="816.5" cy="950.5" r="8.7"/><circle cx="824.0" cy="961.1" r="8.7"/><circle cx="831.5" cy="968.2" r="8.7"/><circle cx="839.0" cy="973.1" r="8.7"/><circle cx="846.5" cy="971.2" r="8.7"/><circle cx="854.0" cy="974.2" r="8.7"/><circle cx="861.5" cy="989.5" r="8.7"/><circle cx="869.0" cy="991.0" r="8.7"/><circle cx="876.5" cy="996.0" r="8.7"/><circle cx="884.0" cy="996.3" r="8.7"/><circle cx="891.5" cy="999.1" r="8.7"/><circle cx="899.0" cy="1002.4" r="8.7"/><circle cx="906.5" cy="1008.5" r="8.7"/><circle cx="914.0" cy="1009.9" r="8.7"/><circle cx="921.5" cy="1010.3" r="8.7"/><circle cx="929.0" cy="1010.8" r="8.7"/><circle cx="936.5" cy="1009.5" r="8.7"/><circle cx="944.0" cy="1011.1" r="8.7"/><circle cx="951.5" cy="1010.3" r="8.7"/><circle cx="959.0" cy="1012.3" r="8.7"/><circle cx="966.5" cy="1009.2" r="8.7"/><circle cx="974.0" cy="1009.7" r="8.7"/><circle cx="981.5" cy="1007.9" r="8.7"/><circle cx="989.0" cy="1007.1" r="8.7"/><circle cx="996.5" cy="1006.5" r="8.7"/><circle cx="1004.0" cy="1002.6" r="8.7"/><circle cx="1011.5" cy="1000.1" r="8.7"/><circle cx="1019.0" cy="997.0" r="8.7"/><circle cx="1026.5" cy="993.1" r="8.7"/><circle cx="1034.0" cy="986.3" r="8.7"/><circle cx="1041.5" cy="986.1" r="8.7"/><circle cx="1049.0" cy="979.4" r="8.7"/><circle cx="1056.5" cy="978.5" r="8.7"/><circle cx="1064.0" cy="978.0" r="8.7"/><circle cx="1071.5" cy="971.4" r="8.7"/><circle cx="1079.0" cy="965.7" r="8.7"/><circle cx="1086.5" cy="960.1" r="8.7"/><circle cx="1094.0" cy="955.2" r="8.7"/><circle cx="1101.5" cy="951.2" r="8.7"/><circle cx="1109.0" cy="946.0" r="8.7"/><circle cx="1116.5" cy="944.5" r="8.7"/><circle cx="1124.0" cy="938.9" r="8.7"/><circle cx="1131.5" cy="932.0" r="8.7"/><circle cx="1139.0" cy="928.2" r="8.7"/><circle cx="1146.5" cy="924.9" r="8.7"/><circle cx="1154.0" cy="921.9" r="8.7"/><circle cx="1161.5" cy="917.9" r="8.7"/><circle cx="1169.0" cy="915.4" r="8.7"/><circle cx="1176.5" cy="910.1" r="8.7"/><circle cx="1184.0" cy="903.9" r="8.7"/><circle cx="1191.5" cy="899.8" r="8.7"/><circle cx="1199.0" cy="898.5" r="8.7"/><circle cx="1206.5" cy="895.1" r="8.7"/><circle cx="1214.0" cy="890.3" r="8.7"/><circle cx="1221.5" cy="885.5" r="8.7"/><circle cx="1229.0" cy="883.5" r="8.7"/><circle cx="1236.5" cy="883.4" r="8.7"/><circle cx="1244.0" cy="883.2" r="8.7"/><circle cx="1251.5" cy="876.4" r="8.7"/><circle cx="1259.0" cy="872.6" r="8.7"/><circle cx="1266.5" cy="869.0" r="8.7"/><circle cx="1274.0" cy="863.8" r="8.7"/><circle cx="1281.5" cy="862.5" r="8.7"/><circle cx="1289.0" cy="859.0" r="8.7"/><circle cx="1296.5" cy="857.3" r="8.7"/><circle cx="1304.0" cy="854.9" r="8.7"/><circle cx="1311.5" cy="852.7" r="8.7"/><circle cx="1319.0" cy="854.1" r="8.7"/><circle cx="1326.5" cy="852.0" r="8.7"/><circle cx="1334.0" cy="851.7" r="8.7"/><circle cx="1341.5" cy="854.8" r="8.7"/><circle cx="1349.0" cy="852.1" r="8.7"/><circle cx="1356.5" cy="834.7" r="8.7"/><circle cx="1364.0" cy="838.1" r="8.7"/><circle cx="1371.5" cy="845.1" r="8.7"/><circle cx="1379.0" cy="845.3" r="8.7"/><circle cx="1386.5" cy="840.2" r="8.7"/><circle cx="1394.0" cy="842.0" r="8.7"/><circle cx="1401.5" cy="838.4" r="8.7"/><circle cx="1409.0" cy="837.8" r="8.7"/><circle cx="1416.5" cy="833.6" r="8.7"/><circle cx="1424.0" cy="831.5" r="8.7"/><circle cx="1431.5" cy="835.5" r="8.7"/></g>
<g fill="#5a74ff"><circle cx="156.5" cy="922.1" r="8.7"/><circle cx="164.0" cy="920.1" r="8.7"/><circle cx="171.5" cy="923.8" r="8.7"/><circle cx="179.0" cy="919.9" r="8.7"/><circle cx="186.5" cy="918.4" r="8.7"/><circle cx="194.0" cy="914.5" r="8.7"/><circle cx="201.5" cy="914.6" r="8.7"/><circle cx="209.0" cy="911.6" r="8.7"/><circle cx="216.5" cy="909.5" r="8.7"/><circle cx="224.0" cy="909.1" r="8.7"/><circle cx="231.5" cy="908.7" r="8.7"/><circle cx="239.0" cy="905.2" r="8.7"/><circle cx="246.5" cy="896.8" r="8.7"/><circle cx="254.0" cy="893.3" r="8.7"/><circle cx="261.5" cy="888.0" r="8.7"/><circle cx="269.0" cy="880.2" r="8.7"/><circle cx="276.5" cy="884.4" r="8.7"/><circle cx="284.0" cy="880.4" r="8.7"/><circle cx="291.5" cy="887.4" r="8.7"/><circle cx="299.0" cy="892.0" r="8.7"/><circle cx="306.5" cy="890.4" r="8.7"/><circle cx="314.0" cy="869.0" r="8.7"/><circle cx="321.5" cy="869.5" r="8.7"/><circle cx="329.0" cy="868.4" r="8.7"/><circle cx="336.5" cy="854.4" r="8.7"/><circle cx="344.0" cy="849.1" r="8.7"/><circle cx="351.5" cy="841.9" r="8.7"/><circle cx="359.0" cy="847.3" r="8.7"/><circle cx="366.5" cy="845.2" r="8.7"/><circle cx="374.0" cy="842.3" r="8.7"/><circle cx="381.5" cy="832.8" r="8.7"/><circle cx="389.0" cy="822.4" r="8.7"/><circle cx="396.5" cy="810.6" r="8.7"/><circle cx="404.0" cy="811.3" r="8.7"/><circle cx="411.5" cy="805.7" r="8.7"/><circle cx="419.0" cy="798.9" r="8.7"/><circle cx="426.5" cy="793.2" r="8.7"/><circle cx="434.0" cy="781.6" r="8.7"/><circle cx="441.5" cy="779.2" r="8.7"/><circle cx="449.0" cy="771.9" r="8.7"/><circle cx="456.5" cy="769.4" r="8.7"/><circle cx="464.0" cy="757.5" r="8.7"/><circle cx="471.5" cy="747.1" r="8.7"/><circle cx="479.0" cy="743.7" r="8.7"/><circle cx="486.5" cy="736.4" r="8.7"/><circle cx="494.0" cy="731.6" r="8.7"/><circle cx="501.5" cy="727.3" r="8.7"/><circle cx="509.0" cy="718.5" r="8.7"/><circle cx="516.5" cy="712.4" r="8.7"/><circle cx="524.0" cy="708.3" r="8.7"/><circle cx="531.5" cy="698.2" r="8.7"/><circle cx="539.0" cy="701.6" r="8.7"/><circle cx="546.5" cy="699.7" r="8.7"/><circle cx="554.0" cy="701.0" r="8.7"/><circle cx="561.5" cy="698.2" r="8.7"/><circle cx="569.0" cy="702.8" r="8.7"/><circle cx="576.5" cy="697.8" r="8.7"/><circle cx="584.0" cy="691.9" r="8.7"/><circle cx="591.5" cy="687.3" r="8.7"/><circle cx="599.0" cy="689.0" r="8.7"/><circle cx="606.5" cy="699.5" r="8.7"/><circle cx="614.0" cy="693.1" r="8.7"/><circle cx="621.5" cy="691.3" r="8.7"/><circle cx="629.0" cy="702.2" r="8.7"/><circle cx="636.5" cy="709.3" r="8.7"/><circle cx="644.0" cy="715.2" r="8.7"/><circle cx="651.5" cy="718.5" r="8.7"/><circle cx="659.0" cy="722.2" r="8.7"/><circle cx="666.5" cy="733.2" r="8.7"/><circle cx="674.0" cy="738.8" r="8.7"/><circle cx="681.5" cy="754.7" r="8.7"/><circle cx="689.0" cy="757.7" r="8.7"/><circle cx="696.5" cy="764.5" r="8.7"/><circle cx="704.0" cy="775.2" r="8.7"/><circle cx="711.5" cy="781.6" r="8.7"/><circle cx="719.0" cy="788.0" r="8.7"/><circle cx="726.5" cy="795.5" r="8.7"/><circle cx="734.0" cy="812.0" r="8.7"/><circle cx="741.5" cy="819.5" r="8.7"/><circle cx="749.0" cy="827.1" r="8.7"/><circle cx="756.5" cy="832.6" r="8.7"/><circle cx="764.0" cy="845.0" r="8.7"/><circle cx="771.5" cy="866.6" r="8.7"/><circle cx="779.0" cy="872.2" r="8.7"/><circle cx="786.5" cy="883.4" r="8.7"/><circle cx="794.0" cy="892.7" r="8.7"/><circle cx="801.5" cy="900.6" r="8.7"/><circle cx="809.0" cy="909.5" r="8.7"/><circle cx="816.5" cy="909.5" r="8.7"/><circle cx="824.0" cy="931.3" r="8.7"/><circle cx="831.5" cy="945.4" r="8.7"/><circle cx="839.0" cy="948.0" r="8.7"/><circle cx="846.5" cy="951.7" r="8.7"/><circle cx="854.0" cy="962.1" r="8.7"/><circle cx="861.5" cy="969.7" r="8.7"/><circle cx="869.0" cy="974.3" r="8.7"/><circle cx="876.5" cy="982.6" r="8.7"/><circle cx="884.0" cy="991.8" r="8.7"/><circle cx="891.5" cy="993.8" r="8.7"/><circle cx="899.0" cy="1003.4" r="8.7"/><circle cx="906.5" cy="1007.8" r="8.7"/><circle cx="914.0" cy="1004.0" r="8.7"/><circle cx="921.5" cy="1002.0" r="8.7"/><circle cx="929.0" cy="1009.5" r="8.7"/><circle cx="936.5" cy="1017.3" r="8.7"/><circle cx="944.0" cy="1018.0" r="8.7"/><circle cx="951.5" cy="1019.4" r="8.7"/><circle cx="959.0" cy="1017.4" r="8.7"/><circle cx="966.5" cy="1017.4" r="8.7"/><circle cx="974.0" cy="1015.7" r="8.7"/><circle cx="981.5" cy="1017.5" r="8.7"/><circle cx="989.0" cy="1018.4" r="8.7"/><circle cx="996.5" cy="1017.1" r="8.7"/><circle cx="1004.0" cy="1012.8" r="8.7"/><circle cx="1011.5" cy="1004.4" r="8.7"/><circle cx="1019.0" cy="999.1" r="8.7"/><circle cx="1026.5" cy="998.1" r="8.7"/><circle cx="1034.0" cy="989.7" r="8.7"/><circle cx="1041.5" cy="989.9" r="8.7"/><circle cx="1049.0" cy="982.9" r="8.7"/><circle cx="1056.5" cy="974.8" r="8.7"/><circle cx="1064.0" cy="969.1" r="8.7"/><circle cx="1071.5" cy="966.1" r="8.7"/><circle cx="1079.0" cy="960.1" r="8.7"/><circle cx="1086.5" cy="953.5" r="8.7"/><circle cx="1094.0" cy="945.4" r="8.7"/><circle cx="1101.5" cy="940.8" r="8.7"/><circle cx="1109.0" cy="933.6" r="8.7"/><circle cx="1116.5" cy="932.4" r="8.7"/><circle cx="1124.0" cy="923.3" r="8.7"/><circle cx="1131.5" cy="921.9" r="8.7"/><circle cx="1139.0" cy="914.3" r="8.7"/><circle cx="1146.5" cy="911.2" r="8.7"/><circle cx="1154.0" cy="910.1" r="8.7"/><circle cx="1161.5" cy="906.8" r="8.7"/><circle cx="1169.0" cy="902.8" r="8.7"/><circle cx="1176.5" cy="900.5" r="8.7"/><circle cx="1184.0" cy="895.6" r="8.7"/><circle cx="1191.5" cy="890.8" r="8.7"/><circle cx="1199.0" cy="885.4" r="8.7"/><circle cx="1206.5" cy="880.4" r="8.7"/><circle cx="1214.0" cy="876.5" r="8.7"/><circle cx="1221.5" cy="871.7" r="8.7"/><circle cx="1229.0" cy="868.0" r="8.7"/><circle cx="1236.5" cy="865.5" r="8.7"/><circle cx="1244.0" cy="860.3" r="8.7"/><circle cx="1251.5" cy="854.0" r="8.7"/><circle cx="1259.0" cy="846.9" r="8.7"/><circle cx="1266.5" cy="842.3" r="8.7"/><circle cx="1274.0" cy="832.9" r="8.7"/><circle cx="1281.5" cy="828.4" r="8.7"/><circle cx="1289.0" cy="825.8" r="8.7"/><circle cx="1296.5" cy="823.2" r="8.7"/><circle cx="1304.0" cy="819.4" r="8.7"/><circle cx="1311.5" cy="818.1" r="8.7"/><circle cx="1319.0" cy="814.6" r="8.7"/><circle cx="1326.5" cy="806.2" r="8.7"/><circle cx="1334.0" cy="806.9" r="8.7"/><circle cx="1341.5" cy="808.9" r="8.7"/><circle cx="1349.0" cy="801.6" r="8.7"/><circle cx="1356.5" cy="803.8" r="8.7"/><circle cx="1364.0" cy="806.0" r="8.7"/><circle cx="1371.5" cy="803.5" r="8.7"/><circle cx="1379.0" cy="802.7" r="8.7"/><circle cx="1386.5" cy="797.5" r="8.7"/><circle cx="1394.0" cy="796.8" r="8.7"/><circle cx="1401.5" cy="800.5" r="8.7"/><circle cx="1409.0" cy="803.4" r="8.7"/><circle cx="1416.5" cy="800.9" r="8.7"/><circle cx="1424.0" cy="800.9" r="8.7"/><circle cx="1431.5" cy="805.4" r="8.7"/></g>
<g fill="#4cbbff"><circle cx="156.5" cy="1016.7" r="8.7"/><circle cx="164.0" cy="1016.9" r="8.7"/><circle cx="171.5" cy="1015.2" r="8.7"/><circle cx="179.0" cy="1019.6" r="8.7"/><circle cx="186.5" cy="1022.1" r="8.7"/><circle cx="194.0" cy="1020.4" r="8.7"/><circle cx="201.5" cy="1013.8" r="8.7"/><circle cx="209.0" cy="1006.5" r="8.7"/><circle cx="216.5" cy="1004.9" r="8.7"/><circle cx="224.0" cy="1010.7" r="8.7"/><circle cx="231.5" cy="1012.6" r="8.7"/><circle cx="239.0" cy="1003.4" r="8.7"/><circle cx="246.5" cy="995.4" r="8.7"/><circle cx="254.0" cy="982.5" r="8.7"/><circle cx="261.5" cy="988.0" r="8.7"/><circle cx="269.0" cy="993.0" r="8.7"/><circle cx="276.5" cy="994.6" r="8.7"/><circle cx="284.0" cy="989.7" r="8.7"/><circle cx="291.5" cy="981.0" r="8.7"/><circle cx="299.0" cy="970.6" r="8.7"/><circle cx="306.5" cy="970.7" r="8.7"/><circle cx="314.0" cy="969.2" r="8.7"/><circle cx="321.5" cy="964.9" r="8.7"/><circle cx="329.0" cy="950.2" r="8.7"/><circle cx="336.5" cy="938.4" r="8.7"/><circle cx="344.0" cy="930.1" r="8.7"/><circle cx="351.5" cy="927.2" r="8.7"/><circle cx="359.0" cy="922.4" r="8.7"/><circle cx="366.5" cy="918.3" r="8.7"/><circle cx="374.0" cy="910.8" r="8.7"/><circle cx="381.5" cy="902.0" r="8.7"/><circle cx="389.0" cy="882.6" r="8.7"/><circle cx="396.5" cy="871.3" r="8.7"/><circle cx="404.0" cy="864.3" r="8.7"/><circle cx="411.5" cy="848.8" r="8.7"/><circle cx="419.0" cy="845.2" r="8.7"/><circle cx="426.5" cy="839.5" r="8.7"/><circle cx="434.0" cy="830.7" r="8.7"/><circle cx="441.5" cy="821.2" r="8.7"/><circle cx="449.0" cy="816.0" r="8.7"/><circle cx="456.5" cy="811.9" r="8.7"/><circle cx="464.0" cy="794.9" r="8.7"/><circle cx="471.5" cy="779.3" r="8.7"/><circle cx="479.0" cy="767.7" r="8.7"/><circle cx="486.5" cy="759.7" r="8.7"/><circle cx="494.0" cy="751.6" r="8.7"/><circle cx="501.5" cy="739.2" r="8.7"/><circle cx="509.0" cy="730.6" r="8.7"/><circle cx="516.5" cy="715.0" r="8.7"/><circle cx="524.0" cy="706.6" r="8.7"/><circle cx="531.5" cy="697.7" r="8.7"/><circle cx="539.0" cy="686.5" r="8.7"/><circle cx="546.5" cy="688.7" r="8.7"/><circle cx="554.0" cy="679.4" r="8.7"/><circle cx="561.5" cy="680.5" r="8.7"/><circle cx="569.0" cy="678.5" r="8.7"/><circle cx="576.5" cy="678.7" r="8.7"/><circle cx="584.0" cy="669.5" r="8.7"/><circle cx="591.5" cy="669.8" r="8.7"/><circle cx="599.0" cy="662.8" r="8.7"/><circle cx="606.5" cy="660.0" r="8.7"/><circle cx="614.0" cy="656.1" r="8.7"/><circle cx="621.5" cy="658.0" r="8.7"/><circle cx="629.0" cy="660.2" r="8.7"/><circle cx="636.5" cy="662.7" r="8.7"/><circle cx="644.0" cy="655.8" r="8.7"/><circle cx="651.5" cy="664.1" r="8.7"/><circle cx="659.0" cy="669.3" r="8.7"/><circle cx="666.5" cy="682.6" r="8.7"/><circle cx="674.0" cy="688.0" r="8.7"/><circle cx="681.5" cy="693.2" r="8.7"/><circle cx="689.0" cy="703.3" r="8.7"/><circle cx="696.5" cy="714.1" r="8.7"/><circle cx="704.0" cy="722.0" r="8.7"/><circle cx="711.5" cy="724.7" r="8.7"/><circle cx="719.0" cy="744.3" r="8.7"/><circle cx="726.5" cy="758.1" r="8.7"/><circle cx="734.0" cy="768.2" r="8.7"/><circle cx="741.5" cy="778.2" r="8.7"/><circle cx="749.0" cy="787.1" r="8.7"/><circle cx="756.5" cy="804.9" r="8.7"/><circle cx="764.0" cy="817.9" r="8.7"/><circle cx="771.5" cy="825.9" r="8.7"/><circle cx="779.0" cy="840.1" r="8.7"/><circle cx="786.5" cy="856.5" r="8.7"/><circle cx="794.0" cy="867.6" r="8.7"/><circle cx="801.5" cy="884.3" r="8.7"/><circle cx="809.0" cy="889.4" r="8.7"/><circle cx="816.5" cy="895.8" r="8.7"/><circle cx="824.0" cy="903.9" r="8.7"/><circle cx="831.5" cy="921.0" r="8.7"/><circle cx="839.0" cy="934.1" r="8.7"/><circle cx="846.5" cy="945.2" r="8.7"/><circle cx="854.0" cy="946.4" r="8.7"/><circle cx="861.5" cy="948.5" r="8.7"/><circle cx="869.0" cy="960.2" r="8.7"/><circle cx="876.5" cy="965.4" r="8.7"/><circle cx="884.0" cy="969.9" r="8.7"/><circle cx="891.5" cy="975.5" r="8.7"/><circle cx="899.0" cy="976.6" r="8.7"/><circle cx="906.5" cy="972.7" r="8.7"/><circle cx="914.0" cy="971.6" r="8.7"/><circle cx="921.5" cy="983.4" r="8.7"/><circle cx="929.0" cy="996.7" r="8.7"/><circle cx="936.5" cy="992.1" r="8.7"/><circle cx="944.0" cy="980.4" r="8.7"/><circle cx="951.5" cy="979.3" r="8.7"/><circle cx="959.0" cy="987.5" r="8.7"/><circle cx="966.5" cy="992.3" r="8.7"/><circle cx="974.0" cy="1002.0" r="8.7"/><circle cx="981.5" cy="1006.6" r="8.7"/><circle cx="989.0" cy="996.2" r="8.7"/><circle cx="996.5" cy="988.0" r="8.7"/><circle cx="1004.0" cy="985.7" r="8.7"/><circle cx="1011.5" cy="983.3" r="8.7"/><circle cx="1019.0" cy="985.2" r="8.7"/><circle cx="1026.5" cy="976.2" r="8.7"/><circle cx="1034.0" cy="964.4" r="8.7"/><circle cx="1041.5" cy="957.6" r="8.7"/><circle cx="1049.0" cy="954.8" r="8.7"/><circle cx="1056.5" cy="951.1" r="8.7"/><circle cx="1064.0" cy="946.3" r="8.7"/><circle cx="1071.5" cy="941.9" r="8.7"/><circle cx="1079.0" cy="936.2" r="8.7"/><circle cx="1086.5" cy="931.4" r="8.7"/><circle cx="1094.0" cy="924.1" r="8.7"/><circle cx="1101.5" cy="916.8" r="8.7"/><circle cx="1109.0" cy="904.4" r="8.7"/><circle cx="1116.5" cy="899.6" r="8.7"/><circle cx="1124.0" cy="894.9" r="8.7"/><circle cx="1131.5" cy="894.9" r="8.7"/><circle cx="1139.0" cy="893.0" r="8.7"/><circle cx="1146.5" cy="885.7" r="8.7"/><circle cx="1154.0" cy="880.8" r="8.7"/><circle cx="1161.5" cy="875.5" r="8.7"/><circle cx="1169.0" cy="873.4" r="8.7"/><circle cx="1176.5" cy="867.4" r="8.7"/><circle cx="1184.0" cy="866.4" r="8.7"/><circle cx="1191.5" cy="860.6" r="8.7"/><circle cx="1199.0" cy="858.8" r="8.7"/><circle cx="1206.5" cy="853.8" r="8.7"/><circle cx="1214.0" cy="850.0" r="8.7"/><circle cx="1221.5" cy="844.8" r="8.7"/><circle cx="1229.0" cy="842.3" r="8.7"/><circle cx="1236.5" cy="839.3" r="8.7"/><circle cx="1244.0" cy="837.5" r="8.7"/><circle cx="1251.5" cy="834.1" r="8.7"/><circle cx="1259.0" cy="830.8" r="8.7"/><circle cx="1266.5" cy="832.4" r="8.7"/><circle cx="1274.0" cy="833.3" r="8.7"/><circle cx="1281.5" cy="833.0" r="8.7"/><circle cx="1289.0" cy="828.9" r="8.7"/><circle cx="1296.5" cy="824.1" r="8.7"/><circle cx="1304.0" cy="822.0" r="8.7"/><circle cx="1311.5" cy="822.9" r="8.7"/><circle cx="1319.0" cy="821.9" r="8.7"/><circle cx="1326.5" cy="822.4" r="8.7"/><circle cx="1334.0" cy="816.9" r="8.7"/><circle cx="1341.5" cy="816.5" r="8.7"/><circle cx="1349.0" cy="819.5" r="8.7"/><circle cx="1356.5" cy="819.1" r="8.7"/><circle cx="1364.0" cy="817.3" r="8.7"/><circle cx="1371.5" cy="819.1" r="8.7"/><circle cx="1379.0" cy="820.0" r="8.7"/><circle cx="1386.5" cy="818.2" r="8.7"/><circle cx="1394.0" cy="819.0" r="8.7"/><circle cx="1401.5" cy="818.7" r="8.7"/><circle cx="1409.0" cy="813.3" r="8.7"/><circle cx="1416.5" cy="815.2" r="8.7"/><circle cx="1424.0" cy="819.9" r="8.7"/><circle cx="1431.5" cy="823.6" r="8.7"/></g>
<g fill="#008000"><circle cx="156.5" cy="1029.8" r="8.7"/><circle cx="164.0" cy="1045.7" r="8.7"/><circle cx="171.5" cy="1040.5" r="8.7"/><circle cx="179.0" cy="1045.5" r="8.7"/><circle cx="186.5" cy="1057.0" r="8.7"/><circle cx="194.0" cy="1046.6" r="8.7"/><circle cx="201.5" cy="1039.2" r="8.7"/><circle cx="209.0" cy="1037.8" r="8.7"/><circle cx="216.5" cy="1049.1" r="8.7"/><circle cx="224.0" cy="1044.8" r="8.7"/><circle cx="231.5" cy="1040.8" r="8.7"/><circle cx="239.0" cy="1036.7" r="8.7"/><circle cx="246.5" cy="1034.8" r="8.7"/><circle cx="254.0" cy="1035.1" r="8.7"/><circle cx="261.5" cy="1029.4" r="8.7"/><circle cx="269.0" cy="1022.4" r="8.7"/><circle cx="276.5" cy="1021.9" r="8.7"/><circle cx="284.0" cy="1011.1" r="8.7"/><circle cx="291.5" cy="1003.4" r="8.7"/><circle cx="299.0" cy="1003.6" r="8.7"/><circle cx="306.5" cy="1005.6" r="8.7"/><circle cx="314.0" cy="1000.3" r="8.7"/><circle cx="321.5" cy="988.9" r="8.7"/><circle cx="329.0" cy="975.5" r="8.7"/><circle cx="336.5" cy="981.8" r="8.7"/><circle cx="344.0" cy="978.2" r="8.7"/><circle cx="351.5" cy="966.9" r="8.7"/><circle cx="359.0" cy="958.6" r="8.7"/><circle cx="366.5" cy="951.6" r="8.7"/><circle cx="374.0" cy="946.4" r="8.7"/><circle cx="381.5" cy="939.9" r="8.7"/><circle cx="389.0" cy="934.7" r="8.7"/><circle cx="396.5" cy="921.6" r="8.7"/><circle cx="404.0" cy="903.8" r="8.7"/><circle cx="411.5" cy="892.3" r="8.7"/><circle cx="419.0" cy="885.8" r="8.7"/><circle cx="426.5" cy="882.5" r="8.7"/><circle cx="434.0" cy="874.4" r="8.7"/><circle cx="441.5" cy="868.7" r="8.7"/><circle cx="449.0" cy="848.9" r="8.7"/><circle cx="456.5" cy="838.3" r="8.7"/><circle cx="464.0" cy="833.8" r="8.7"/><circle cx="471.5" cy="827.0" r="8.7"/><circle cx="479.0" cy="800.8" r="8.7"/><circle cx="486.5" cy="792.9" r="8.7"/><circle cx="494.0" cy="774.9" r="8.7"/><circle cx="501.5" cy="769.5" r="8.7"/><circle cx="509.0" cy="765.1" r="8.7"/><circle cx="516.5" cy="761.0" r="8.7"/><circle cx="524.0" cy="738.9" r="8.7"/><circle cx="531.5" cy="723.2" r="8.7"/><circle cx="539.0" cy="713.8" r="8.7"/><circle cx="546.5" cy="707.7" r="8.7"/><circle cx="554.0" cy="695.2" r="8.7"/><circle cx="561.5" cy="676.8" r="8.7"/><circle cx="569.0" cy="666.7" r="8.7"/><circle cx="576.5" cy="658.8" r="8.7"/><circle cx="584.0" cy="658.9" r="8.7"/><circle cx="591.5" cy="654.9" r="8.7"/><circle cx="599.0" cy="645.7" r="8.7"/><circle cx="606.5" cy="639.4" r="8.7"/><circle cx="614.0" cy="637.0" r="8.7"/><circle cx="621.5" cy="630.5" r="8.7"/><circle cx="629.0" cy="637.3" r="8.7"/><circle cx="636.5" cy="640.8" r="8.7"/><circle cx="644.0" cy="631.6" r="8.7"/><circle cx="651.5" cy="631.0" r="8.7"/><circle cx="659.0" cy="631.8" r="8.7"/><circle cx="666.5" cy="643.3" r="8.7"/><circle cx="674.0" cy="661.6" r="8.7"/><circle cx="681.5" cy="667.6" r="8.7"/><circle cx="689.0" cy="669.4" r="8.7"/><circle cx="696.5" cy="666.9" r="8.7"/><circle cx="704.0" cy="690.7" r="8.7"/><circle cx="711.5" cy="703.4" r="8.7"/><circle cx="719.0" cy="705.9" r="8.7"/><circle cx="726.5" cy="714.9" r="8.7"/><circle cx="734.0" cy="721.5" r="8.7"/><circle cx="741.5" cy="740.8" r="8.7"/><circle cx="749.0" cy="752.6" r="8.7"/><circle cx="756.5" cy="774.6" r="8.7"/><circle cx="764.0" cy="780.5" r="8.7"/><circle cx="771.5" cy="804.3" r="8.7"/><circle cx="779.0" cy="810.4" r="8.7"/><circle cx="786.5" cy="825.6" r="8.7"/><circle cx="794.0" cy="845.0" r="8.7"/><circle cx="801.5" cy="843.4" r="8.7"/><circle cx="809.0" cy="864.1" r="8.7"/><circle cx="816.5" cy="875.1" r="8.7"/><circle cx="824.0" cy="882.2" r="8.7"/><circle cx="831.5" cy="888.0" r="8.7"/><circle cx="839.0" cy="909.8" r="8.7"/><circle cx="846.5" cy="916.4" r="8.7"/><circle cx="854.0" cy="935.9" r="8.7"/><circle cx="861.5" cy="935.5" r="8.7"/><circle cx="869.0" cy="938.6" r="8.7"/><circle cx="876.5" cy="961.9" r="8.7"/><circle cx="884.0" cy="954.7" r="8.7"/><circle cx="891.5" cy="948.2" r="8.7"/><circle cx="899.0" cy="958.9" r="8.7"/><circle cx="906.5" cy="978.8" r="8.7"/><circle cx="914.0" cy="987.8" r="8.7"/><circle cx="921.5" cy="993.0" r="8.7"/><circle cx="929.0" cy="987.0" r="8.7"/><circle cx="936.5" cy="985.7" r="8.7"/><circle cx="944.0" cy="989.8" r="8.7"/><circle cx="951.5" cy="996.5" r="8.7"/><circle cx="959.0" cy="992.7" r="8.7"/><circle cx="966.5" cy="997.7" r="8.7"/><circle cx="974.0" cy="998.3" r="8.7"/><circle cx="981.5" cy="988.3" r="8.7"/><circle cx="989.0" cy="977.6" r="8.7"/><circle cx="996.5" cy="1002.8" r="8.7"/><circle cx="1004.0" cy="1002.7" r="8.7"/><circle cx="1011.5" cy="981.9" r="8.7"/><circle cx="1019.0" cy="970.8" r="8.7"/><circle cx="1026.5" cy="967.3" r="8.7"/><circle cx="1034.0" cy="974.8" r="8.7"/><circle cx="1041.5" cy="974.6" r="8.7"/><circle cx="1049.0" cy="966.3" r="8.7"/><circle cx="1056.5" cy="947.9" r="8.7"/><circle cx="1064.0" cy="938.8" r="8.7"/><circle cx="1071.5" cy="937.8" r="8.7"/><circle cx="1079.0" cy="923.1" r="8.7"/><circle cx="1086.5" cy="926.1" r="8.7"/><circle cx="1094.0" cy="928.0" r="8.7"/><circle cx="1101.5" cy="917.4" r="8.7"/><circle cx="1109.0" cy="913.6" r="8.7"/><circle cx="1116.5" cy="914.0" r="8.7"/><circle cx="1124.0" cy="910.2" r="8.7"/><circle cx="1131.5" cy="901.1" r="8.7"/><circle cx="1139.0" cy="895.4" r="8.7"/><circle cx="1146.5" cy="889.4" r="8.7"/><circle cx="1154.0" cy="889.9" r="8.7"/><circle cx="1161.5" cy="886.2" r="8.7"/><circle cx="1169.0" cy="889.7" r="8.7"/><circle cx="1176.5" cy="888.3" r="8.7"/><circle cx="1184.0" cy="873.2" r="8.7"/><circle cx="1191.5" cy="873.6" r="8.7"/><circle cx="1199.0" cy="872.1" r="8.7"/><circle cx="1206.5" cy="864.7" r="8.7"/><circle cx="1214.0" cy="866.1" r="8.7"/><circle cx="1221.5" cy="869.1" r="8.7"/><circle cx="1229.0" cy="865.1" r="8.7"/><circle cx="1236.5" cy="861.3" r="8.7"/><circle cx="1244.0" cy="850.4" r="8.7"/><circle cx="1251.5" cy="855.9" r="8.7"/><circle cx="1259.0" cy="859.3" r="8.7"/><circle cx="1266.5" cy="852.9" r="8.7"/><circle cx="1274.0" cy="848.3" r="8.7"/><circle cx="1281.5" cy="853.2" r="8.7"/><circle cx="1289.0" cy="850.7" r="8.7"/><circle cx="1296.5" cy="843.9" r="8.7"/><circle cx="1304.0" cy="836.4" r="8.7"/><circle cx="1311.5" cy="835.4" r="8.7"/><circle cx="1319.0" cy="836.6" r="8.7"/><circle cx="1326.5" cy="843.4" r="8.7"/><circle cx="1334.0" cy="836.3" r="8.7"/><circle cx="1341.5" cy="835.3" r="8.7"/><circle cx="1349.0" cy="845.7" r="8.7"/><circle cx="1356.5" cy="845.7" r="8.7"/><circle cx="1364.0" cy="841.6" r="8.7"/><circle cx="1371.5" cy="845.1" r="8.7"/><circle cx="1379.0" cy="843.4" r="8.7"/><circle cx="1386.5" cy="843.2" r="8.7"/><circle cx="1394.0" cy="840.8" r="8.7"/><circle cx="1401.5" cy="834.3" r="8.7"/><circle cx="1409.0" cy="837.3" r="8.7"/><circle cx="1416.5" cy="846.9" r="8.7"/><circle cx="1424.0" cy="842.8" r="8.7"/><circle cx="1431.5" cy="842.5" r="8.7"/></g>
<line x1="157.7" y1="739.0" x2="181.0" y2="736.4" stroke="#f4a460" stroke-width="6.4" stroke-linecap="round"/>
<line x1="219.0" y1="731.0" x2="241.0" y2="728.4" stroke="#f4a460" stroke-width="6.4" stroke-linecap="round"/>
<line x1="277.7" y1="721.7" x2="301.0" y2="719.1" stroke="#f4a460" stroke-width="6.4" stroke-linecap="round"/>
<line x1="337.7" y1="712.3" x2="359.7" y2="709.1" stroke="#f4a460" stroke-width="6.4" stroke-linecap="round"/>
<line x1="396.8" y1="701.6" x2="419.2" y2="697.7" stroke="#f4a460" stroke-width="6.4" stroke-linecap="round"/>
<line x1="456.1" y1="689.7" x2="478.5" y2="686.2" stroke="#f4a460" stroke-width="6.4" stroke-linecap="round"/>
<line x1="515.6" y1="680.4" x2="538.3" y2="676.9" stroke="#f4a460" stroke-width="6.4" stroke-linecap="round"/>
<line x1="576.5" y1="675.0" x2="598.0" y2="676.3" stroke="#f4a460" stroke-width="6.4" stroke-linecap="round"/>
<line x1="634.8" y1="682.2" x2="653.0" y2="689.0" stroke="#f4a460" stroke-width="6.4" stroke-linecap="round"/>
<line x1="686.8" y1="707.6" x2="700.1" y2="719.1" stroke="#f4a460" stroke-width="6.4" stroke-linecap="round"/>
<line x1="729.5" y1="749.7" x2="742.3" y2="764.2" stroke="#f4a460" stroke-width="6.4" stroke-linecap="round"/>
<line x1="767.1" y1="800.6" x2="778.1" y2="815.4" stroke="#f4a460" stroke-width="6.4" stroke-linecap="round"/>
<line x1="799.6" y1="847.0" x2="811.9" y2="865.8" stroke="#f4a460" stroke-width="6.4" stroke-linecap="round"/>
<line x1="833.3" y1="897.6" x2="845.1" y2="911.7" stroke="#f4a460" stroke-width="6.4" stroke-linecap="round"/>
<line x1="870.9" y1="942.9" x2="887.2" y2="958.4" stroke="#f4a460" stroke-width="6.4" stroke-linecap="round"/>
<line x1="920.1" y1="982.5" x2="939.5" y2="992.3" stroke="#f4a460" stroke-width="6.4" stroke-linecap="round"/>
<line x1="978.4" y1="1000.3" x2="999.3" y2="1003.5" stroke="#f4a460" stroke-width="6.4" stroke-linecap="round"/>
<line x1="1039.6" y1="1002.4" x2="1060.5" y2="999.9" stroke="#f4a460" stroke-width="6.4" stroke-linecap="round"/>
<line x1="1098.6" y1="993.9" x2="1119.5" y2="990.8" stroke="#f4a460" stroke-width="6.4" stroke-linecap="round"/>
<line x1="1157.6" y1="983.4" x2="1178.7" y2="979.5" stroke="#f4a460" stroke-width="6.4" stroke-linecap="round"/>
<line x1="1216.6" y1="972.2" x2="1238.8" y2="968.0" stroke="#f4a460" stroke-width="6.4" stroke-linecap="round"/>
<line x1="1276.0" y1="961.6" x2="1298.4" y2="958.0" stroke="#f4a460" stroke-width="6.4" stroke-linecap="round"/>
<line x1="1335.0" y1="952.5" x2="1357.4" y2="949.2" stroke="#f4a460" stroke-width="6.4" stroke-linecap="round"/>
<line x1="1395.6" y1="944.1" x2="1418.0" y2="941.0" stroke="#f4a460" stroke-width="6.4" stroke-linecap="round"/>
<rect x="789.1" y="819.6" width="7.5" height="28.9" fill="#000"/>
<rect x="789.1" y="871.2" width="7.5" height="28.5" fill="#000"/>
<rect x="789.1" y="922.4" width="7.5" height="23.6" fill="#000"/>
<polyline points="779.5,924.5 792.8,950 807.5,924.5" fill="none" stroke="#000" stroke-width="7" stroke-linecap="round" stroke-linejoin="miter"/>
<line x1="1092" y1="618.3" x2="1116.6" y2="618.3" stroke="#f4a460" stroke-width="6.2" stroke-linecap="round"/>
<line x1="1152" y1="618.3" x2="1171.8" y2="618.3" stroke="#f4a460" stroke-width="6.2" stroke-linecap="round"/>
<circle cx="1142.2" cy="652.6" r="8.9" fill="#ff44aa"/>
<circle cx="1142.2" cy="696" r="8.9" fill="#5a74ff"/>
<circle cx="1142.2" cy="740" r="8.9" fill="#4cbbff"/>
<circle cx="1142.2" cy="784" r="8.9" fill="#008000"/>
<text x="1197.5" y="626.4" font-size="33" fill="#000">bolometric</text>
<text x="1197.5" y="669.3" font-size="33" fill="#000">0μm</text>
<text x="1198.7" y="712.0" font-size="33" fill="#000">0.5μm</text>
<text x="1198.3" y="754.7" font-size="33" fill="#000">1μm</text>
<text x="1197.4" y="798.0" font-size="33" fill="#000">1.5μm</text>
<rect x="231.3" y="1108.4" width="275.4" height="39.3" fill="#2e75b6"/>
<rect x="231.3" y="1098.4" width="275.4" height="10.0" fill="#4ab9ff"/>
<rect x="279.4" y="1085.0" width="177.1" height="8.2" fill="#4ab9ff"/>
<rect x="231.3" y="1093.2" width="276.4" height="5.4" fill="#7030a0"/>
<rect x="228.0" y="1081.2" width="51.4" height="12.0" fill="#ffd966"/>
<rect x="456.5" y="1081.2" width="51.7" height="12.0" fill="#ffd966"/>
<rect x="1094.7" y="1108.4" width="275.4" height="39.3" fill="#2e75b6"/>
<rect x="1094.7" y="1098.4" width="275.4" height="10.0" fill="#4ab9ff"/>
<rect x="1142.3" y="1085.0" width="177.5" height="8.2" fill="#4ab9ff"/>
<rect x="1094.7" y="1093.2" width="276.4" height="5.4" fill="#7030a0"/>
<rect x="1090.2" y="1081.2" width="52.1" height="12.0" fill="#ffd966"/>
<rect x="1319.8" y="1081.2" width="51.4" height="12.0" fill="#ffd966"/>
<line x1="330" y1="1095" x2="378" y2="1095" stroke="#000" stroke-width="5.5"/>
<polyline points="361,1085 383,1095 361,1105" fill="none" stroke="#000" stroke-width="5.5" stroke-linecap="round" stroke-linejoin="miter"/>
<line x1="1259" y1="1094.5" x2="1210" y2="1094.5" stroke="#000" stroke-width="5.8"/>
<polyline points="1226.4,1084 1204.5,1094.5 1226.4,1105" fill="none" stroke="#000" stroke-width="5.8" stroke-linecap="round" stroke-linejoin="miter"/>
<path d="M430.3,972.4 L441.5,972.4 L441.0,1002.4 C440.5,1027.4 437.1,1040.6 435.6,1060.6 C434.1,1035.6 432.3,1022.4 431.3,1002.4 Z" fill="#4472c4"/>
<path d="M1297.6,968.6 L1308.5,968.6 L1308.0,998.6 C1307.5,1023.6 1304.8,1036.3 1303.3,1056.3 C1301.8,1031.3 1299.6,1018.6 1298.6,998.6 Z" fill="#4472c4"/>
<polyline points="441,993 525.5,993 525.5,1130" fill="none" stroke="#000" stroke-width="5"/>
<line x1="507.5" y1="1089.2" x2="525.5" y2="1089.2" stroke="#000" stroke-width="5"/>
<polyline points="1308.5,993 1389.4,993 1389.4,1130" fill="none" stroke="#000" stroke-width="5"/>
<line x1="1370.5" y1="1090" x2="1389.4" y2="1090" stroke="#000" stroke-width="5"/>
<rect x="512.3" y="1128.8" width="26.4" height="5.2" fill="#000"/>
<rect x="517.1" y="1134.0" width="16.8" height="5.2" fill="#000"/>
<rect x="521.7" y="1139.2" width="7.6" height="4.2" fill="#000"/>
<rect x="1374.8" y="1129.4" width="26.4" height="5.2" fill="#000"/>
<rect x="1379.6" y="1134.6" width="16.8" height="5.2" fill="#000"/>
<rect x="1384.2" y="1139.8" width="7.6" height="4.2" fill="#000"/>
<text x="246.2" y="1083.5" font-size="24" fill="#000"><tspan font-size="24" dy="0" dx="0">-V</tspan><tspan font-size="17" dy="3" dx="0">1</tspan></text>
<text x="358.8" y="1082.5" font-size="24" fill="#000"><tspan font-size="24" dy="0" dx="0">e</tspan><tspan font-size="16" dy="-9" dx="1">-</tspan></text>
<text x="423.2" y="1084.2" font-size="18" fill="#000">-</text>
<text x="484.0" y="1084.7" font-size="26" fill="#000">0</text>
<text x="423.0" y="1117.8" font-size="24" fill="#000"><tspan font-size="24" dy="0" dx="0">V</tspan><tspan font-size="17" dy="3" dx="0">1</tspan><tspan font-size="24" dy="-3" dx="0">’</tspan></text>
<text x="351.0" y="1169.5" font-size="21" fill="#000"><tspan font-size="21" dy="0" dx="0">+ V</tspan><tspan font-size="15" dy="3" dx="0">0</tspan></text>
<text x="327.2" y="1036.6" font-size="25" fill="#7030a0">ph</text>
<text x="1105.0" y="1081.3" font-size="24" fill="#000"><tspan font-size="24" dy="0" dx="0">+V</tspan></text>
<text x="1105.0" y="1107.3" font-size="17" fill="#000">1</text>
<text x="1236.0" y="1086.2" font-size="24" fill="#000"><tspan font-size="24" dy="0" dx="0">e</tspan><tspan font-size="16" dy="-9" dx="1">-</tspan></text>
<text x="1283.0" y="1085.5" font-size="24" fill="#000"><tspan font-size="24" dy="0" dx="0">+V</tspan><tspan font-size="17" dy="3" dx="0">1</tspan><tspan font-size="24" dy="-3" dx="0">’</tspan></text>
<text x="1343.2" y="1082.2" font-size="22" fill="#000">0</text>
<text x="1214.4" y="1169.5" font-size="21" fill="#000"><tspan font-size="21" dy="0" dx="0">+ V</tspan><tspan font-size="15" dy="3" dx="0">0</tspan></text>
<text x="1240.4" y="1035.6" font-size="25" fill="#7030a0">ph</text>
<path d="M286.8,1062.7 C296.3,1063.7 301.1,1063.2 304.2,1060.2 S312.2,1056.1 318.5,1057.6 M311.0,1052.1 L318.5,1057.6 L311.0,1063.1" fill="none" stroke="#c9b0e0" stroke-width="10" stroke-linecap="round" stroke-linejoin="round" filter="url(#pglow)"/>
<path d="M286.8,1062.7 C296.3,1063.7 301.1,1063.2 304.2,1060.2 S312.2,1056.1 318.5,1057.6 M311.0,1052.1 L318.5,1057.6 L311.0,1063.1" fill="none" stroke="#7a3aaa" stroke-width="3.1" stroke-linecap="round" stroke-linejoin="round"/>
<path d="M334.4,1050.2 C343.6,1051.2 348.2,1051.0 351.2,1048.0 S358.9,1044.2 365.0,1045.7 M357.5,1040.2 L365.0,1045.7 L357.5,1051.2" fill="none" stroke="#c9b0e0" stroke-width="10" stroke-linecap="round" stroke-linejoin="round" filter="url(#pglow)"/>
<path d="M334.4,1050.2 C343.6,1051.2 348.2,1051.0 351.2,1048.0 S358.9,1044.2 365.0,1045.7 M357.5,1040.2 L365.0,1045.7 L357.5,1051.2" fill="none" stroke="#7a3aaa" stroke-width="3.1" stroke-linecap="round" stroke-linejoin="round"/>
<path d="M336.7,1063.3 C346.0,1064.3 350.7,1064.0 353.8,1061.0 S361.6,1057.2 367.8,1058.7 M360.3,1053.2 L367.8,1058.7 L360.3,1064.2" fill="none" stroke="#c9b0e0" stroke-width="10" stroke-linecap="round" stroke-linejoin="round" filter="url(#pglow)"/>
<path d="M336.7,1063.3 C346.0,1064.3 350.7,1064.0 353.8,1061.0 S361.6,1057.2 367.8,1058.7 M360.3,1053.2 L367.8,1058.7 L360.3,1064.2" fill="none" stroke="#7a3aaa" stroke-width="3.1" stroke-linecap="round" stroke-linejoin="round"/>
<path d="M387.7,1038.9 C397.5,1039.9 402.5,1040.8 405.7,1037.8 S413.9,1035.1 420.5,1036.6 M413.0,1031.1 L420.5,1036.6 L413.0,1042.1" fill="none" stroke="#c9b0e0" stroke-width="10" stroke-linecap="round" stroke-linejoin="round" filter="url(#pglow)"/>
<path d="M387.7,1038.9 C397.5,1039.9 402.5,1040.8 405.7,1037.8 S413.9,1035.1 420.5,1036.6 M413.0,1031.1 L420.5,1036.6 L413.0,1042.1" fill="none" stroke="#7a3aaa" stroke-width="3.1" stroke-linecap="round" stroke-linejoin="round"/>
<path d="M389.0,1051.4 C398.2,1052.4 402.8,1053.2 405.9,1050.2 S413.6,1047.5 419.7,1049.0 M412.2,1043.5 L419.7,1049.0 L412.2,1054.5" fill="none" stroke="#c9b0e0" stroke-width="10" stroke-linecap="round" stroke-linejoin="round" filter="url(#pglow)"/>
<path d="M389.0,1051.4 C398.2,1052.4 402.8,1053.2 405.9,1050.2 S413.6,1047.5 419.7,1049.0 M412.2,1043.5 L419.7,1049.0 L412.2,1054.5" fill="none" stroke="#7a3aaa" stroke-width="3.1" stroke-linecap="round" stroke-linejoin="round"/>
<path d="M390.0,1062.7 C399.2,1063.7 403.9,1064.6 406.9,1061.6 S414.6,1058.9 420.8,1060.4 M413.3,1054.9 L420.8,1060.4 L413.3,1065.9" fill="none" stroke="#c9b0e0" stroke-width="10" stroke-linecap="round" stroke-linejoin="round" filter="url(#pglow)"/>
<path d="M390.0,1062.7 C399.2,1063.7 403.9,1064.6 406.9,1061.6 S414.6,1058.9 420.8,1060.4 M413.3,1054.9 L420.8,1060.4 L413.3,1065.9" fill="none" stroke="#7a3aaa" stroke-width="3.1" stroke-linecap="round" stroke-linejoin="round"/>
<path d="M1185.3,1042.0 C1175.1,1043.0 1170.0,1043.2 1166.5,1040.2 S1158.0,1036.8 1151.2,1038.3 M1158.7,1032.8 L1151.2,1038.3 L1158.7,1043.8" fill="none" stroke="#c9b0e0" stroke-width="10" stroke-linecap="round" stroke-linejoin="round" filter="url(#pglow)"/>
<path d="M1185.3,1042.0 C1175.1,1043.0 1170.0,1043.2 1166.5,1040.2 S1158.0,1036.8 1151.2,1038.3 M1158.7,1032.8 L1151.2,1038.3 L1158.7,1043.8" fill="none" stroke="#7a3aaa" stroke-width="3.1" stroke-linecap="round" stroke-linejoin="round"/>
<path d="M1183.7,1053.7 C1173.8,1054.7 1168.8,1054.8 1165.5,1051.8 S1157.3,1048.5 1150.7,1050.0 M1158.2,1044.5 L1150.7,1050.0 L1158.2,1055.5" fill="none" stroke="#c9b0e0" stroke-width="10" stroke-linecap="round" stroke-linejoin="round" filter="url(#pglow)"/>
<path d="M1183.7,1053.7 C1173.8,1054.7 1168.8,1054.8 1165.5,1051.8 S1157.3,1048.5 1150.7,1050.0 M1158.2,1044.5 L1150.7,1050.0 L1158.2,1055.5" fill="none" stroke="#7a3aaa" stroke-width="3.1" stroke-linecap="round" stroke-linejoin="round"/>
<path d="M1181.6,1064.9 C1171.7,1065.9 1166.7,1066.1 1163.4,1063.1 S1155.1,1059.7 1148.5,1061.2 M1156.0,1055.7 L1148.5,1061.2 L1156.0,1066.7" fill="none" stroke="#c9b0e0" stroke-width="10" stroke-linecap="round" stroke-linejoin="round" filter="url(#pglow)"/>
<path d="M1181.6,1064.9 C1171.7,1065.9 1166.7,1066.1 1163.4,1063.1 S1155.1,1059.7 1148.5,1061.2 M1156.0,1055.7 L1148.5,1061.2 L1156.0,1066.7" fill="none" stroke="#7a3aaa" stroke-width="3.1" stroke-linecap="round" stroke-linejoin="round"/>
<path d="M1239.7,1050.5 C1229.8,1051.5 1224.8,1053.2 1221.5,1050.2 S1213.3,1048.5 1206.7,1050.0 M1214.2,1044.5 L1206.7,1050.0 L1214.2,1055.5" fill="none" stroke="#c9b0e0" stroke-width="10" stroke-linecap="round" stroke-linejoin="round" filter="url(#pglow)"/>
<path d="M1239.7,1050.5 C1229.8,1051.5 1224.8,1053.2 1221.5,1050.2 S1213.3,1048.5 1206.7,1050.0 M1214.2,1044.5 L1206.7,1050.0 L1214.2,1055.5" fill="none" stroke="#7a3aaa" stroke-width="3.1" stroke-linecap="round" stroke-linejoin="round"/>
<path d="M1238.1,1064.4 C1228.0,1065.4 1223.0,1066.3 1219.6,1063.3 S1211.2,1060.8 1204.5,1062.3 M1212.0,1056.8 L1204.5,1062.3 L1212.0,1067.8" fill="none" stroke="#c9b0e0" stroke-width="10" stroke-linecap="round" stroke-linejoin="round" filter="url(#pglow)"/>
<path d="M1238.1,1064.4 C1228.0,1065.4 1223.0,1066.3 1219.6,1063.3 S1211.2,1060.8 1204.5,1062.3 M1212.0,1056.8 L1204.5,1062.3 L1212.0,1067.8" fill="none" stroke="#7a3aaa" stroke-width="3.1" stroke-linecap="round" stroke-linejoin="round"/>
<path d="M1285.6,1061.2 C1276.6,1062.2 1272.1,1062.8 1269.2,1059.8 S1261.7,1057.0 1255.7,1058.5 M1263.2,1053.0 L1255.7,1058.5 L1263.2,1064.0" fill="none" stroke="#c9b0e0" stroke-width="10" stroke-linecap="round" stroke-linejoin="round" filter="url(#pglow)"/>
<path d="M1285.6,1061.2 C1276.6,1062.2 1272.1,1062.8 1269.2,1059.8 S1261.7,1057.0 1255.7,1058.5 M1263.2,1053.0 L1255.7,1058.5 L1263.2,1064.0" fill="none" stroke="#7a3aaa" stroke-width="3.1" stroke-linecap="round" stroke-linejoin="round"/>
</svg>
</body></html>
